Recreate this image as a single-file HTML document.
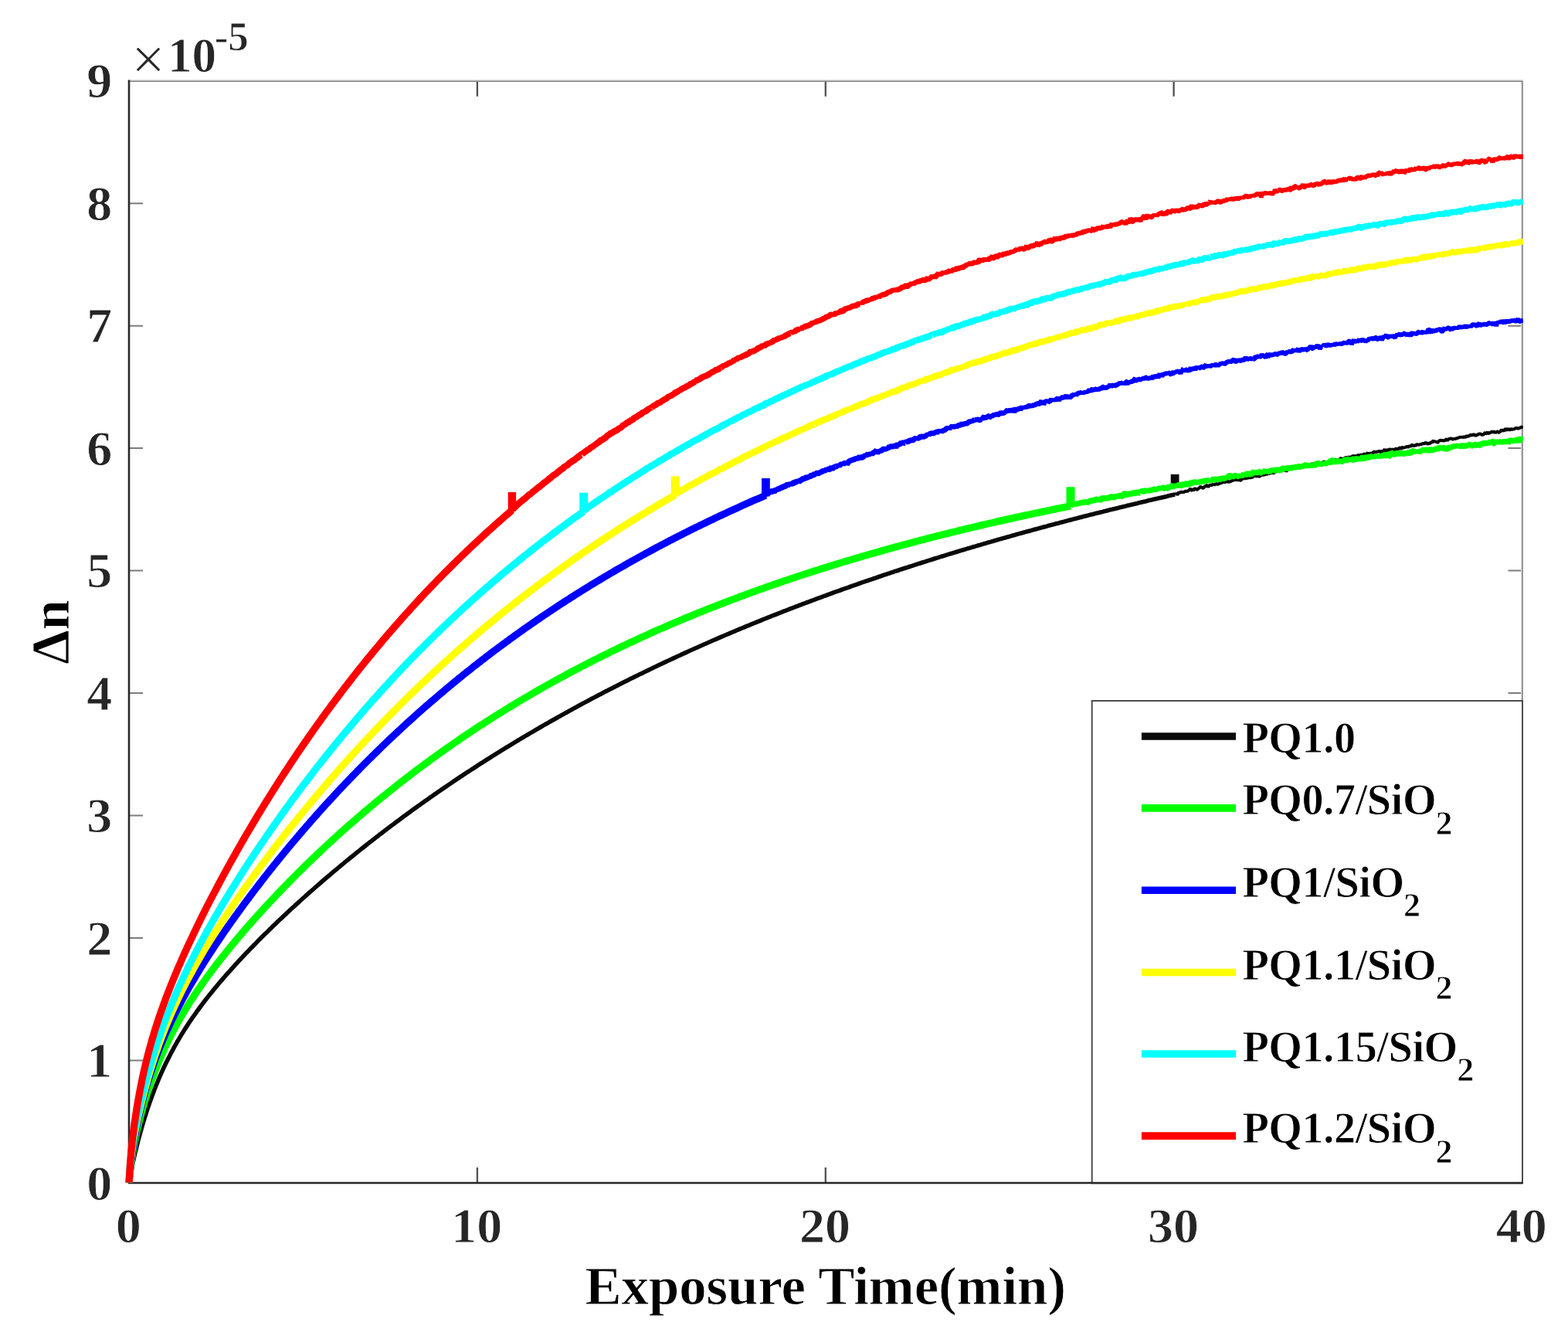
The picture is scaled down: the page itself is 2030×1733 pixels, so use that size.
<!DOCTYPE html>
<html lang="en"><head><meta charset="utf-8"><title>Δn vs Exposure Time</title>
<style>
html,body{margin:0;padding:0;background:#fff;overflow:hidden;}
svg{display:block;}
text{font-family:"Liberation Serif", "DejaVu Serif", serif;font-weight:bold;stroke:#ffffff;stroke-width:0.8px;stroke-linejoin:round;}
.tk{font-size:63.2px;fill:#262626;}
.lg{font-size:56.2px;fill:#000;letter-spacing:-0.4px;}
.sub{font-size:44px;fill:#000;}
.ax{font-size:70.7px;fill:#000;}
</style></head>
<body>
<svg width="2030" height="1733" viewBox="0 0 2030 1733">
<rect x="0" y="0" width="2030" height="1733" fill="#ffffff"/>
<path d="M617.9,1531.0 v-20 M617.9,104.7 v20 M1068.8,1531.0 v-20 M1068.8,104.7 v20 M1519.6,1531.0 v-20 M1519.6,104.7 v20" stroke="#505050" stroke-width="2.3" fill="none"/>
<path d="M167.0,1372.5 h18 M1970.5,1372.5 h-18 M167.0,1214.0 h18 M1970.5,1214.0 h-18 M167.0,1055.6 h18 M1970.5,1055.6 h-18 M167.0,897.1 h18 M1970.5,897.1 h-18 M167.0,738.6 h18 M1970.5,738.6 h-18 M167.0,580.1 h18 M1970.5,580.1 h-18 M167.0,421.7 h18 M1970.5,421.7 h-18 M167.0,263.2 h18 M1970.5,263.2 h-18" stroke="#7d7d7d" stroke-width="2" fill="none"/>
<path d="M167.0,103.8 H1971.7 M1969.6,104.7 V1531.0" stroke="#dedede" stroke-width="1.4" fill="none"/>
<path d="M167.0,105.2 H1971.8 M1971.0,104.7 V1531.0" stroke="#808080" stroke-width="1.6" fill="none"/>
<path d="M167.0,103.5 V1532.3 M165.8,1531.0 H1971.7" stroke="#262626" stroke-width="2.6" fill="none"/>
<clipPath id="cp"><rect x="159.0" y="104.7" width="1813.0" height="1425.8999999999999"/></clipPath>
<g clip-path="url(#cp)" fill="none" stroke-linejoin="round" stroke-linecap="butt">
<path d="M167.0,1531.6 L167.0,1531.5 L167.1,1531.1 L167.2,1530.5 L167.3,1529.7 L167.5,1528.6 L167.7,1527.4 L167.9,1525.9 L168.2,1524.3 L168.5,1522.5 L168.9,1520.5 L169.3,1518.4 L169.7,1516.1 L170.2,1513.8 L170.7,1511.3 L171.2,1508.6 L171.8,1505.9 L172.4,1503.1 L173.1,1500.1 L173.8,1497.1 L174.5,1494.0 L175.3,1490.7 L176.1,1487.4 L176.9,1484.0 L177.8,1480.5 L178.7,1476.9 L179.7,1473.3 L180.7,1469.6 L181.7,1465.8 L182.8,1462.0 L183.9,1458.1 L185.0,1454.2 L186.2,1450.3 L187.4,1446.3 L188.7,1442.3 L190.0,1438.2 L191.3,1434.2 L192.7,1430.1 L194.1,1426.1 L195.6,1422.0 L197.0,1417.9 L198.6,1413.9 L200.1,1409.8 L201.7,1405.8 L203.4,1401.7 L205.0,1397.7 L206.7,1393.7 L208.5,1389.7 L210.3,1385.7 L212.1,1381.7 L214.3,1377.0 L216.6,1372.4 L218.9,1367.9 L221.1,1363.5 L223.4,1359.3 L225.6,1355.1 L227.9,1351.1 L230.1,1347.2 L232.4,1343.4 L234.6,1339.6 L236.9,1336.0 L239.1,1332.4 L241.4,1328.9 L243.6,1325.4 L245.9,1322.0 L248.2,1318.7 L250.4,1315.5 L252.7,1312.3 L254.9,1309.1 L257.2,1306.0 L259.4,1303.0 L261.7,1299.9 L263.9,1297.0 L266.2,1294.0 L268.4,1291.2 L270.7,1288.3 L273.0,1285.5 L275.2,1282.7 L277.5,1279.9 L279.7,1277.2 L282.0,1274.5 L284.2,1271.8 L286.5,1269.2 L288.7,1266.6 L291.0,1264.0 L293.2,1261.4 L295.5,1258.8 L297.8,1256.3 L300.0,1253.8 L302.3,1251.3 L304.5,1248.8 L306.8,1246.4 L309.0,1243.9 L311.3,1241.5 L313.5,1239.1 L315.8,1236.7 L318.0,1234.3 L320.3,1232.0 L322.6,1229.6 L324.8,1227.3 L327.1,1225.0 L329.3,1222.7 L331.6,1220.4 L333.8,1218.1 L336.1,1215.8 L338.3,1213.6 L340.6,1211.3 L342.8,1209.1 L345.1,1206.9 L347.4,1204.7 L349.6,1202.5 L351.9,1200.3 L354.1,1198.1 L356.4,1195.9 L358.6,1193.8 L360.9,1191.6 L363.1,1189.5 L365.4,1187.4 L367.6,1185.2 L369.9,1183.1 L372.1,1181.0 L374.4,1178.9 L376.7,1176.8 L378.9,1174.8 L381.2,1172.7 L383.4,1170.6 L385.7,1168.6 L387.9,1166.5 L390.2,1164.5 L392.4,1162.5 L394.7,1160.5 L396.9,1158.4 L399.2,1156.4 L401.5,1154.4 L403.7,1152.5 L406.0,1150.5 L408.2,1148.5 L410.5,1146.5 L412.7,1144.6 L415.0,1142.6 L417.2,1140.7 L419.5,1138.7 L421.7,1136.8 L424.0,1134.9 L426.3,1133.0 L428.5,1131.0 L430.8,1129.1 L433.0,1127.2 L435.3,1125.4 L437.5,1123.5 L439.8,1121.6 L442.0,1119.7 L444.3,1117.9 L446.5,1116.0 L448.8,1114.1 L451.1,1112.3 L453.3,1110.5 L455.6,1108.6 L457.8,1106.8 L460.1,1105.0 L462.3,1103.2 L464.6,1101.4 L466.8,1099.6 L469.1,1097.8 L471.3,1096.0 L473.6,1094.2 L475.8,1092.4 L478.1,1090.6 L480.4,1088.9 L482.6,1087.1 L484.9,1085.4 L487.1,1083.6 L489.4,1081.9 L491.6,1080.1 L493.9,1078.4 L496.1,1076.7 L498.4,1074.9 L500.6,1073.2 L502.9,1071.5 L505.2,1069.8 L507.4,1068.1 L509.7,1066.4 L511.9,1064.7 L514.2,1063.0 L516.4,1061.4 L518.7,1059.7 L520.9,1058.0 L523.2,1056.4 L525.4,1054.7 L527.7,1053.1 L530.0,1051.4 L532.2,1049.8 L534.5,1048.1 L536.7,1046.5 L539.0,1044.9 L541.2,1043.3 L543.5,1041.7 L545.7,1040.1 L548.0,1038.4 L550.2,1036.8 L552.5,1035.3 L554.8,1033.7 L557.0,1032.1 L559.3,1030.5 L561.5,1028.9 L563.8,1027.4 L566.0,1025.8 L568.3,1024.2 L570.5,1022.7 L572.8,1021.1 L575.0,1019.6 L577.3,1018.1 L579.6,1016.5 L581.8,1015.0 L584.1,1013.5 L586.3,1011.9 L588.6,1010.4 L590.8,1008.9 L593.1,1007.4 L595.3,1005.9 L597.6,1004.4 L599.8,1002.9 L602.1,1001.4 L604.3,999.9 L606.6,998.5 L608.9,997.0 L611.1,995.5 L613.4,994.1 L615.6,992.6 L617.9,991.1 L620.1,989.7 L622.4,988.2 L624.6,986.8 L626.9,985.4 L629.1,983.9 L631.4,982.5 L633.7,981.1 L635.9,979.6 L638.2,978.2 L640.4,976.8 L642.7,975.4 L644.9,974.0 L647.2,972.6 L649.4,971.2 L651.7,969.8 L653.9,968.4 L656.2,967.0 L658.5,965.7 L660.7,964.3 L663.0,962.9 L665.2,961.6 L667.5,960.2 L669.7,958.8 L672.0,957.5 L674.2,956.1 L676.5,954.8 L678.7,953.4 L681.0,952.1 L683.3,950.8 L685.5,949.4 L687.8,948.1 L690.0,946.8 L692.3,945.5 L694.5,944.2 L696.8,942.8 L699.0,941.5 L701.3,940.2 L703.5,938.9 L705.8,937.6 L708.1,936.4 L710.3,935.1 L712.6,933.8 L714.8,932.5 L717.1,931.2 L719.3,930.0 L721.6,928.7 L723.8,927.4 L726.1,926.2 L728.3,924.9 L730.6,923.7 L732.8,922.4 L735.1,921.2 L737.4,919.9 L739.6,918.7 L741.9,917.4 L744.1,916.2 L746.4,915.0 L748.6,913.8 L750.9,912.5 L753.1,911.3 L755.4,910.1 L757.6,908.9 L759.9,907.7 L762.2,906.5 L764.4,905.3 L766.7,904.1 L768.9,902.9 L771.2,901.7 L773.4,900.5 L775.7,899.3 L777.9,898.2 L780.2,897.0 L782.4,895.8 L784.7,894.6 L787.0,893.5 L789.2,892.3 L791.5,891.2 L793.7,890.0 L796.0,888.9 L798.2,887.7 L800.5,886.6 L802.7,885.4 L805.0,884.3 L807.2,883.1 L809.5,882.0 L811.8,880.9 L814.0,879.8 L816.3,878.6 L818.5,877.5 L820.8,876.4 L823.0,875.3 L825.3,874.2 L827.5,873.1 L829.8,872.0 L832.0,870.9 L834.3,869.8 L836.5,868.7 L838.8,867.6 L841.1,866.5 L843.3,865.4 L845.6,864.3 L847.8,863.3 L850.1,862.2 L852.3,861.1 L854.6,860.0 L856.8,859.0 L859.1,857.9 L861.3,856.9 L863.6,855.8 L865.9,854.7 L868.1,853.7 L870.4,852.6 L872.6,851.6 L874.9,850.6 L877.1,849.5 L879.4,848.5 L881.6,847.4 L883.9,846.4 L886.1,845.4 L888.4,844.4 L890.7,843.3 L892.9,842.3 L895.2,841.3 L897.4,840.3 L899.7,839.3 L901.9,838.3 L904.2,837.3 L906.4,836.3 L908.7,835.3 L910.9,834.3 L913.2,833.3 L915.5,832.3 L917.7,831.3 L920.0,830.3 L922.2,829.3 L924.5,828.3 L926.7,827.4 L929.0,826.4 L931.2,825.4 L933.5,824.4 L935.7,823.5 L938.0,822.5 L940.3,821.5 L942.5,820.6 L944.8,819.6 L947.0,818.7 L949.3,817.7 L951.5,816.8 L953.8,815.8 L956.0,814.9 L958.3,813.9 L960.5,813.0 L962.8,812.1 L965.0,811.1 L967.3,810.2 L969.6,809.3 L971.8,808.4 L974.1,807.4 L976.3,806.5 L978.6,805.6 L980.8,804.7 L983.1,803.8 L985.3,802.9 L987.6,801.9 L989.8,801.0 L992.1,800.1 L994.4,799.2 L996.6,798.3 L998.9,797.4 L1001.1,796.5 L1003.4,795.7 L1005.6,794.8 L1007.9,793.9 L1010.1,793.0 L1012.4,792.1 L1014.6,791.2 L1016.9,790.4 L1019.2,789.5 L1021.4,788.6 L1023.7,787.7 L1025.9,786.9 L1028.2,786.0 L1030.4,785.1 L1032.7,784.3 L1034.9,783.4 L1037.2,782.6 L1039.4,781.7 L1041.7,780.9 L1044.0,780.0 L1046.2,779.2 L1048.5,778.3 L1050.7,777.5 L1053.0,776.6 L1055.2,775.8 L1057.5,774.9 L1059.7,774.1 L1062.0,773.3 L1064.2,772.5 L1066.5,771.6 L1068.8,770.8 L1071.0,770.0 L1073.3,769.2 L1075.5,768.3 L1077.8,767.5 L1080.0,766.7 L1082.3,765.9 L1084.5,765.1 L1086.8,764.3 L1089.0,763.5 L1091.3,762.7 L1093.5,761.9 L1095.8,761.1 L1098.1,760.3 L1100.3,759.5 L1102.6,758.7 L1104.8,757.9 L1107.1,757.1 L1109.3,756.3 L1111.6,755.5 L1113.8,754.7 L1116.1,753.9 L1118.3,753.2 L1120.6,752.4 L1122.9,751.6 L1125.1,750.8 L1127.4,750.1 L1129.6,749.3 L1131.9,748.5 L1134.1,747.8 L1136.4,747.0 L1138.6,746.2 L1140.9,745.5 L1143.1,744.7 L1145.4,743.9 L1147.7,743.2 L1149.9,742.4 L1152.2,741.7 L1154.4,740.9 L1156.7,740.2 L1158.9,739.4 L1161.2,738.7 L1163.4,738.0 L1165.7,737.2 L1167.9,736.5 L1170.2,735.7 L1172.5,735.0 L1174.7,734.3 L1177.0,733.5 L1179.2,732.8 L1181.5,732.1 L1183.7,731.4 L1186.0,730.6 L1188.2,729.9 L1190.5,729.2 L1192.7,728.5 L1195.0,727.8 L1197.2,727.1 L1199.5,726.3 L1201.8,725.6 L1204.0,724.9 L1206.3,724.2 L1208.5,723.5 L1210.8,722.8 L1213.0,722.1 L1215.3,721.4 L1217.5,720.7 L1219.8,720.0 L1222.0,719.3 L1224.3,718.6 L1226.6,717.9 L1228.8,717.2 L1231.1,716.5 L1233.3,715.8 L1235.6,715.2 L1237.8,714.5 L1240.1,713.8 L1242.3,713.1 L1244.6,712.4 L1246.8,711.8 L1249.1,711.1 L1251.4,710.4 L1253.6,709.7 L1255.9,709.1 L1258.1,708.4 L1260.4,707.7 L1262.6,707.1 L1264.9,706.4 L1267.1,705.7 L1269.4,705.1 L1271.6,704.4 L1273.9,703.8 L1276.2,703.1 L1278.4,702.4 L1280.7,701.8 L1282.9,701.1 L1285.2,700.5 L1287.4,699.8 L1289.7,699.2 L1291.9,698.5 L1294.2,697.9 L1296.4,697.3 L1298.7,696.6 L1301.0,696.0 L1303.2,695.3 L1305.5,694.7 L1307.7,694.1 L1310.0,693.4 L1312.2,692.8 L1314.5,692.2 L1316.7,691.5 L1319.0,690.9 L1321.2,690.3 L1323.5,689.7 L1325.7,689.0 L1328.0,688.4 L1330.3,687.8 L1332.5,687.2 L1334.8,686.6 L1337.0,685.9 L1339.3,685.3 L1341.5,684.7 L1343.8,684.1 L1346.0,683.5 L1348.3,682.9 L1350.5,682.3 L1352.8,681.7 L1355.1,681.1 L1357.3,680.4 L1359.6,679.8 L1361.8,679.2 L1364.1,678.6 L1366.3,678.0 L1368.6,677.4 L1370.8,676.9 L1373.1,676.3 L1375.3,675.7 L1377.6,675.1 L1379.9,674.5 L1382.1,673.9 L1384.4,673.3 L1386.6,672.7 L1388.9,672.1 L1391.1,671.5 L1393.4,671.0 L1395.6,670.4 L1397.9,669.8 L1400.1,669.2 L1402.4,668.6 L1404.7,668.1 L1406.9,667.5 L1409.2,666.9 L1411.4,666.3 L1413.7,665.8 L1415.9,665.2 L1418.2,664.6 L1420.4,664.1 L1422.7,663.5 L1424.9,662.9 L1427.2,662.4 L1429.5,661.8 L1431.7,661.3 L1434.0,660.7 L1436.2,660.1 L1438.5,659.6 L1440.7,659.0 L1443.0,658.5 L1445.2,657.9 L1447.5,657.4 L1449.7,656.8 L1452.0,656.3 L1454.2,655.7 L1456.5,655.2 L1458.8,654.6 L1461.0,654.1 L1463.3,653.5 L1465.5,653.0 L1467.8,652.4 L1470.0,651.9 L1472.3,651.4 L1474.5,650.8 L1476.8,650.3 L1479.0,649.7 L1481.3,649.2 L1483.6,648.7 L1485.8,648.1 L1488.1,647.6 L1490.3,647.1 L1492.6,646.5 L1494.8,646.0 L1497.1,645.5 L1499.3,645.0 L1501.6,644.4 L1503.8,643.9 L1506.1,643.4 L1508.4,642.9 L1510.6,642.4 L1512.9,641.8 L1515.1,641.3 L1517.4,640.8 L1519.6,640.3 L1521.1,639.9" stroke="#0a0a0a" stroke-width="5.6"/>
<path d="M1521.1,640.3 L1522.1,638.9 L1523.1,639.2 L1524.1,640.1 L1525.1,639.5 L1526.1,636.7 L1527.1,638.2 L1528.1,637.0 L1529.1,636.8 L1530.1,637.1 L1531.1,636.6 L1532.1,637.5 L1533.1,636.7 L1534.1,635.9 L1535.1,636.0 L1536.1,635.6 L1537.1,636.5 L1538.1,634.7 L1539.1,634.9 L1540.1,633.7 L1541.1,631.9 L1542.1,634.6 L1543.1,634.5 L1544.1,632.9 L1545.1,635.4 L1546.1,631.8 L1547.2,632.9 L1548.2,632.5 L1549.2,633.8 L1550.2,633.5 L1551.2,632.1 L1552.2,632.1 L1553.2,630.7 L1554.2,629.5 L1555.2,630.8 L1556.2,631.0 L1557.2,631.7 L1558.2,631.5 L1559.2,629.8 L1560.2,629.7 L1561.2,628.8 L1562.2,628.3 L1563.2,627.8 L1564.2,630.8 L1565.2,628.4 L1566.2,628.3 L1567.2,627.3 L1568.2,628.9 L1569.2,626.5 L1570.2,627.6 L1571.2,626.7 L1572.2,627.7 L1573.2,626.7 L1574.2,625.8 L1575.2,626.7 L1576.2,626.8 L1577.2,626.3 L1578.2,626.3 L1579.2,625.2 L1580.2,625.3 L1581.2,624.8 L1582.2,624.8 L1583.2,624.2 L1584.2,623.2 L1585.2,624.7 L1586.2,623.9 L1587.2,622.6 L1588.2,624.3 L1589.2,622.8 L1590.2,623.5 L1591.2,623.9 L1592.2,623.1 L1593.2,623.8 L1594.2,621.5 L1595.2,622.7 L1596.2,621.5 L1597.2,621.1 L1598.2,621.2 L1599.3,621.2 L1600.3,621.3 L1601.3,620.0 L1602.3,621.7 L1603.3,621.1 L1604.3,619.1 L1605.3,621.6 L1606.3,621.7 L1607.3,620.9 L1608.3,619.4 L1609.3,618.4 L1610.3,620.1 L1611.3,618.6" stroke="#0a0a0a" stroke-width="4.10" stroke-linejoin="bevel"/>
<path d="M1611.3,618.6 L1612.3,619.8 L1613.3,618.7 L1614.3,619.2 L1615.3,618.4 L1616.3,618.5 L1617.3,617.7 L1618.3,619.1 L1619.3,617.4 L1620.3,617.4 L1621.3,618.5 L1622.3,615.4 L1623.3,615.3 L1624.3,617.1 L1625.3,615.0 L1626.3,617.6 L1627.3,615.2 L1628.3,614.7 L1629.3,616.9 L1630.3,616.3 L1631.3,616.4 L1632.3,615.4 L1633.3,613.6 L1634.3,615.9 L1635.3,613.7 L1636.3,614.5 L1637.3,614.4 L1638.3,613.2 L1639.3,613.7 L1640.3,613.7 L1641.3,613.0 L1642.3,611.5 L1643.3,612.6 L1644.3,613.3 L1645.3,611.3 L1646.3,611.5 L1647.3,611.1 L1648.3,612.9 L1649.3,611.7 L1650.4,611.2 L1651.4,610.0 L1652.4,610.9 L1653.4,609.6 L1654.4,610.1 L1655.4,609.3 L1656.4,610.2 L1657.4,609.9 L1658.4,609.0 L1659.4,609.4 L1660.4,607.8 L1661.4,607.3 L1662.4,608.8 L1663.4,608.4 L1664.4,608.6 L1665.4,610.0 L1666.4,608.5 L1667.4,606.6 L1668.4,608.2 L1669.4,605.8 L1670.4,606.4 L1671.4,606.5 L1672.4,607.9 L1673.4,605.5 L1674.4,605.3 L1675.4,605.7 L1676.4,605.0 L1677.4,606.4 L1678.4,604.2 L1679.4,604.0 L1680.4,604.4 L1681.4,604.2 L1682.4,606.1 L1683.4,605.1 L1684.4,604.1 L1685.4,602.7 L1686.4,604.4 L1687.4,602.5 L1688.4,601.8 L1689.4,604.1 L1690.4,603.1 L1691.4,603.5 L1692.4,602.7 L1693.4,603.0 L1694.4,601.5 L1695.4,600.9 L1696.4,602.3 L1697.4,600.7 L1698.4,600.6 L1699.4,600.6 L1700.4,600.9 L1701.4,600.3" stroke="#0a0a0a" stroke-width="4.10" stroke-linejoin="bevel"/>
<path d="M1701.4,600.3 L1702.5,599.2 L1703.5,599.7 L1704.5,598.1 L1705.5,600.4 L1706.5,598.2 L1707.5,598.5 L1708.5,599.3 L1709.5,598.4 L1710.5,600.3 L1711.5,597.6 L1712.5,598.8 L1713.5,598.3 L1714.5,597.1 L1715.5,598.4 L1716.5,597.6 L1717.5,598.3 L1718.5,598.1 L1719.5,599.1 L1720.5,598.2 L1721.5,596.5 L1722.5,596.4 L1723.5,597.4 L1724.5,596.8 L1725.5,596.6 L1726.5,594.4 L1727.5,595.6 L1728.5,594.8 L1729.5,595.5 L1730.5,595.0 L1731.5,595.7 L1732.5,595.0 L1733.5,595.2 L1734.5,593.9 L1735.5,593.3 L1736.5,593.5 L1737.5,593.7 L1738.5,593.9 L1739.5,595.4 L1740.5,593.1 L1741.5,592.1 L1742.5,592.5 L1743.5,592.2 L1744.5,592.8 L1745.5,590.8 L1746.5,592.1 L1747.5,592.0 L1748.5,591.9 L1749.5,590.9 L1750.5,591.1 L1751.5,589.8 L1752.5,590.5 L1753.6,590.2 L1754.6,590.9 L1755.6,589.3 L1756.6,590.8 L1757.6,591.3 L1758.6,587.9 L1759.6,590.0 L1760.6,590.0 L1761.6,588.6 L1762.6,588.7 L1763.6,588.7 L1764.6,588.4 L1765.6,588.2 L1766.6,586.8 L1767.6,589.1 L1768.6,588.9 L1769.6,587.0 L1770.6,586.2 L1771.6,587.8 L1772.6,586.7 L1773.6,587.1 L1774.6,586.5 L1775.6,587.2 L1776.6,587.1 L1777.6,585.6 L1778.6,584.8 L1779.6,584.5 L1780.6,586.2 L1781.6,584.4 L1782.6,584.9 L1783.6,584.6 L1784.6,584.9 L1785.6,583.0 L1786.6,584.8 L1787.6,584.9 L1788.6,584.3 L1789.6,583.8 L1790.6,584.0 L1791.6,584.0" stroke="#0a0a0a" stroke-width="4.10" stroke-linejoin="bevel"/>
<path d="M1791.6,584.0 L1792.6,581.0 L1793.6,585.1 L1794.6,583.5 L1795.6,582.4 L1796.6,582.4 L1797.6,583.0 L1798.6,582.3 L1799.6,580.4 L1800.6,583.9 L1801.6,581.8 L1802.6,582.6 L1803.6,580.9 L1804.7,582.7 L1805.7,581.4 L1806.7,581.5 L1807.7,579.9 L1808.7,581.7 L1809.7,581.1 L1810.7,581.4 L1811.7,579.5 L1812.7,579.5 L1813.7,581.8 L1814.7,578.6 L1815.7,579.2 L1816.7,580.2 L1817.7,579.1 L1818.7,579.4 L1819.7,578.3 L1820.7,578.8 L1821.7,577.1 L1822.7,579.6 L1823.7,577.8 L1824.7,577.1 L1825.7,578.2 L1826.7,577.0 L1827.7,576.0 L1828.7,575.8 L1829.7,577.5 L1830.7,576.6 L1831.7,576.4 L1832.7,577.3 L1833.7,575.2 L1834.7,575.3 L1835.7,575.5 L1836.7,575.7 L1837.7,575.4 L1838.7,575.0 L1839.7,575.1 L1840.7,574.8 L1841.7,574.1 L1842.7,573.9 L1843.7,574.7 L1844.7,573.4 L1845.7,573.0 L1846.7,573.6 L1847.7,573.6 L1848.7,575.6 L1849.7,572.7 L1850.7,574.0 L1851.7,573.7 L1852.7,571.8 L1853.7,573.4 L1854.7,571.4 L1855.7,569.9 L1856.8,572.7 L1857.8,570.4 L1858.8,572.2 L1859.8,571.0 L1860.8,573.0 L1861.8,572.3 L1862.8,570.7 L1863.8,570.3 L1864.8,569.7 L1865.8,570.2 L1866.8,570.2 L1867.8,569.9 L1868.8,570.2 L1869.8,570.4 L1870.8,570.1 L1871.8,568.9 L1872.8,568.1 L1873.8,570.5 L1874.8,568.4 L1875.8,568.3 L1876.8,568.2 L1877.8,566.9 L1878.8,567.9 L1879.8,567.8 L1880.8,568.6 L1881.8,568.5" stroke="#0a0a0a" stroke-width="4.10" stroke-linejoin="bevel"/>
<path d="M1881.8,568.5 L1882.8,567.7 L1883.8,568.4 L1884.8,567.7 L1885.8,567.2 L1886.8,567.2 L1887.8,566.7 L1888.8,566.3 L1889.8,566.3 L1890.8,565.3 L1891.8,566.4 L1892.8,565.1 L1893.8,566.6 L1894.8,565.4 L1895.8,565.5 L1896.8,565.8 L1897.8,565.7 L1898.8,563.6 L1899.8,564.6 L1900.8,565.5 L1901.8,563.0 L1902.8,564.7 L1903.8,562.1 L1904.8,563.1 L1905.8,563.9 L1906.8,562.2 L1907.9,562.6 L1908.9,562.0 L1909.9,564.6 L1910.9,563.1 L1911.9,563.3 L1912.9,562.5 L1913.9,562.2 L1914.9,560.9 L1915.9,561.9 L1916.9,561.3 L1917.9,562.6 L1918.9,562.7 L1919.9,562.8 L1920.9,562.1 L1921.9,560.6 L1922.9,560.0 L1923.9,561.5 L1924.9,561.0 L1925.9,558.9 L1926.9,560.7 L1927.9,560.9 L1928.9,560.1 L1929.9,559.7 L1930.9,559.0 L1931.9,558.2 L1932.9,560.1 L1933.9,558.9 L1934.9,558.8 L1935.9,560.4 L1936.9,559.3 L1937.9,558.9 L1938.9,558.5 L1939.9,559.6 L1940.9,559.6 L1941.9,558.7 L1942.9,558.2 L1943.9,555.7 L1944.9,557.5 L1945.9,557.1 L1946.9,557.2 L1947.9,557.8 L1948.9,554.3 L1949.9,556.1 L1950.9,556.7 L1951.9,555.8 L1952.9,554.8 L1953.9,556.7 L1954.9,556.0 L1955.9,554.7 L1956.9,555.7 L1957.9,556.0 L1958.9,555.1 L1960.0,555.7 L1961.0,554.9 L1962.0,554.3 L1963.0,553.5 L1964.0,554.3 L1965.0,554.3 L1966.0,554.8 L1967.0,553.8 L1968.0,554.1 L1969.0,552.7 L1970.0,552.7 L1971.9,553.0" stroke="#0a0a0a" stroke-width="4.10" stroke-linejoin="bevel"/>
<rect x="1515.7" y="613.9" width="10.8" height="17.1" fill="#0a0a0a" stroke="none"/>
<path d="M167.0,1531.6 L167.0,1531.4 L167.1,1530.7 L167.2,1529.7 L167.3,1528.2 L167.5,1526.4 L167.7,1524.3 L167.9,1521.8 L168.2,1519.1 L168.5,1516.2 L168.9,1513.1 L169.3,1509.8 L169.7,1506.4 L170.2,1502.9 L170.7,1499.3 L171.2,1495.7 L171.8,1492.0 L172.4,1488.3 L173.1,1484.5 L173.8,1480.7 L174.5,1476.9 L175.3,1473.0 L176.1,1469.1 L176.9,1465.2 L177.8,1461.3 L178.7,1457.3 L179.7,1453.3 L180.7,1449.3 L181.7,1445.3 L182.8,1441.2 L183.9,1437.2 L185.0,1433.1 L186.2,1429.0 L187.4,1424.9 L188.7,1420.8 L190.0,1416.7 L191.3,1412.5 L192.7,1408.4 L194.1,1404.3 L195.6,1400.1 L197.0,1396.0 L198.6,1391.8 L200.1,1387.7 L201.7,1383.6 L203.4,1379.5 L205.0,1375.4 L206.7,1371.3 L208.5,1367.2 L210.3,1363.1 L212.1,1359.1 L214.3,1354.2 L216.6,1349.5 L218.9,1344.8 L221.1,1340.3 L223.4,1336.0 L225.6,1331.7 L227.9,1327.5 L230.1,1323.4 L232.4,1319.4 L234.6,1315.5 L236.9,1311.7 L239.1,1307.9 L241.4,1304.2 L243.6,1300.6 L245.9,1297.0 L248.2,1293.5 L250.4,1290.1 L252.7,1286.7 L254.9,1283.3 L257.2,1280.0 L259.4,1276.8 L261.7,1273.5 L263.9,1270.4 L266.2,1267.2 L268.4,1264.1 L270.7,1261.0 L273.0,1258.0 L275.2,1255.0 L277.5,1252.0 L279.7,1249.1 L282.0,1246.1 L284.2,1243.2 L286.5,1240.4 L288.7,1237.5 L291.0,1234.7 L293.2,1231.9 L295.5,1229.1 L297.8,1226.3 L300.0,1223.6 L302.3,1220.9 L304.5,1218.2 L306.8,1215.5 L309.0,1212.8 L311.3,1210.2 L313.5,1207.5 L315.8,1204.9 L318.0,1202.3 L320.3,1199.7 L322.6,1197.1 L324.8,1194.6 L327.1,1192.0 L329.3,1189.5 L331.6,1187.0 L333.8,1184.5 L336.1,1182.0 L338.3,1179.5 L340.6,1177.0 L342.8,1174.6 L345.1,1172.1 L347.4,1169.7 L349.6,1167.3 L351.9,1164.9 L354.1,1162.5 L356.4,1160.1 L358.6,1157.7 L360.9,1155.3 L363.1,1153.0 L365.4,1150.7 L367.6,1148.3 L369.9,1146.0 L372.1,1143.7 L374.4,1141.4 L376.7,1139.1 L378.9,1136.8 L381.2,1134.6 L383.4,1132.3 L385.7,1130.0 L387.9,1127.8 L390.2,1125.6 L392.4,1123.4 L394.7,1121.1 L396.9,1118.9 L399.2,1116.8 L401.5,1114.6 L403.7,1112.4 L406.0,1110.2 L408.2,1108.1 L410.5,1105.9 L412.7,1103.8 L415.0,1101.7 L417.2,1099.5 L419.5,1097.4 L421.7,1095.3 L424.0,1093.2 L426.3,1091.2 L428.5,1089.1 L430.8,1087.0 L433.0,1085.0 L435.3,1082.9 L437.5,1080.9 L439.8,1078.8 L442.0,1076.8 L444.3,1074.8 L446.5,1072.8 L448.8,1070.8 L451.1,1068.8 L453.3,1066.8 L455.6,1064.8 L457.8,1062.9 L460.1,1060.9 L462.3,1059.0 L464.6,1057.0 L466.8,1055.1 L469.1,1053.2 L471.3,1051.2 L473.6,1049.3 L475.8,1047.4 L478.1,1045.5 L480.4,1043.6 L482.6,1041.8 L484.9,1039.9 L487.1,1038.0 L489.4,1036.2 L491.6,1034.3 L493.9,1032.5 L496.1,1030.6 L498.4,1028.8 L500.6,1027.0 L502.9,1025.2 L505.2,1023.4 L507.4,1021.6 L509.7,1019.8 L511.9,1018.0 L514.2,1016.2 L516.4,1014.4 L518.7,1012.7 L520.9,1010.9 L523.2,1009.2 L525.4,1007.4 L527.7,1005.7 L530.0,1004.0 L532.2,1002.2 L534.5,1000.5 L536.7,998.8 L539.0,997.1 L541.2,995.4 L543.5,993.7 L545.7,992.1 L548.0,990.4 L550.2,988.7 L552.5,987.1 L554.8,985.4 L557.0,983.8 L559.3,982.1 L561.5,980.5 L563.8,978.9 L566.0,977.2 L568.3,975.6 L570.5,974.0 L572.8,972.4 L575.0,970.8 L577.3,969.2 L579.6,967.6 L581.8,966.1 L584.1,964.5 L586.3,962.9 L588.6,961.4 L590.8,959.8 L593.1,958.3 L595.3,956.7 L597.6,955.2 L599.8,953.7 L602.1,952.2 L604.3,950.6 L606.6,949.1 L608.9,947.6 L611.1,946.1 L613.4,944.6 L615.6,943.2 L617.9,941.7 L620.1,940.2 L622.4,938.7 L624.6,937.3 L626.9,935.8 L629.1,934.4 L631.4,932.9 L633.7,931.5 L635.9,930.0 L638.2,928.6 L640.4,927.2 L642.7,925.8 L644.9,924.4 L647.2,923.0 L649.4,921.6 L651.7,920.2 L653.9,918.8 L656.2,917.4 L658.5,916.0 L660.7,914.6 L663.0,913.3 L665.2,911.9 L667.5,910.5 L669.7,909.2 L672.0,907.8 L674.2,906.5 L676.5,905.2 L678.7,903.8 L681.0,902.5 L683.3,901.2 L685.5,899.9 L687.8,898.6 L690.0,897.2 L692.3,895.9 L694.5,894.6 L696.8,893.4 L699.0,892.1 L701.3,890.8 L703.5,889.5 L705.8,888.2 L708.1,887.0 L710.3,885.7 L712.6,884.5 L714.8,883.2 L717.1,882.0 L719.3,880.7 L721.6,879.5 L723.8,878.2 L726.1,877.0 L728.3,875.8 L730.6,874.6 L732.8,873.4 L735.1,872.1 L737.4,870.9 L739.6,869.7 L741.9,868.5 L744.1,867.4 L746.4,866.2 L748.6,865.0 L750.9,863.8 L753.1,862.6 L755.4,861.5 L757.6,860.3 L759.9,859.1 L762.2,858.0 L764.4,856.8 L766.7,855.7 L768.9,854.5 L771.2,853.4 L773.4,852.3 L775.7,851.1 L777.9,850.0 L780.2,848.9 L782.4,847.8 L784.7,846.7 L787.0,845.6 L789.2,844.4 L791.5,843.3 L793.7,842.3 L796.0,841.2 L798.2,840.1 L800.5,839.0 L802.7,837.9 L805.0,836.8 L807.2,835.8 L809.5,834.7 L811.8,833.6 L814.0,832.6 L816.3,831.5 L818.5,830.5 L820.8,829.4 L823.0,828.4 L825.3,827.3 L827.5,826.3 L829.8,825.3 L832.0,824.2 L834.3,823.2 L836.5,822.2 L838.8,821.2 L841.1,820.1 L843.3,819.1 L845.6,818.1 L847.8,817.1 L850.1,816.1 L852.3,815.1 L854.6,814.1 L856.8,813.2 L859.1,812.2 L861.3,811.2 L863.6,810.2 L865.9,809.2 L868.1,808.3 L870.4,807.3 L872.6,806.3 L874.9,805.4 L877.1,804.4 L879.4,803.5 L881.6,802.5 L883.9,801.6 L886.1,800.6 L888.4,799.7 L890.7,798.8 L892.9,797.8 L895.2,796.9 L897.4,796.0 L899.7,795.1 L901.9,794.1 L904.2,793.2 L906.4,792.3 L908.7,791.4 L910.9,790.5 L913.2,789.6 L915.5,788.7 L917.7,787.8 L920.0,786.9 L922.2,786.0 L924.5,785.1 L926.7,784.3 L929.0,783.4 L931.2,782.5 L933.5,781.6 L935.7,780.8 L938.0,779.9 L940.3,779.0 L942.5,778.2 L944.8,777.3 L947.0,776.5 L949.3,775.6 L951.5,774.8 L953.8,773.9 L956.0,773.1 L958.3,772.2 L960.5,771.4 L962.8,770.6 L965.0,769.7 L967.3,768.9 L969.6,768.1 L971.8,767.3 L974.1,766.4 L976.3,765.6 L978.6,764.8 L980.8,764.0 L983.1,763.2 L985.3,762.4 L987.6,761.6 L989.8,760.8 L992.1,760.0 L994.4,759.2 L996.6,758.4 L998.9,757.6 L1001.1,756.8 L1003.4,756.1 L1005.6,755.3 L1007.9,754.5 L1010.1,753.7 L1012.4,753.0 L1014.6,752.2 L1016.9,751.4 L1019.2,750.7 L1021.4,749.9 L1023.7,749.1 L1025.9,748.4 L1028.2,747.6 L1030.4,746.9 L1032.7,746.1 L1034.9,745.4 L1037.2,744.6 L1039.4,743.9 L1041.7,743.2 L1044.0,742.4 L1046.2,741.7 L1048.5,741.0 L1050.7,740.2 L1053.0,739.5 L1055.2,738.8 L1057.5,738.1 L1059.7,737.4 L1062.0,736.6 L1064.2,735.9 L1066.5,735.2 L1068.8,734.5 L1071.0,733.8 L1073.3,733.1 L1075.5,732.4 L1077.8,731.7 L1080.0,731.0 L1082.3,730.3 L1084.5,729.6 L1086.8,728.9 L1089.0,728.3 L1091.3,727.6 L1093.5,726.9 L1095.8,726.2 L1098.1,725.5 L1100.3,724.9 L1102.6,724.2 L1104.8,723.5 L1107.1,722.9 L1109.3,722.2 L1111.6,721.5 L1113.8,720.9 L1116.1,720.2 L1118.3,719.6 L1120.6,718.9 L1122.9,718.2 L1125.1,717.6 L1127.4,716.9 L1129.6,716.3 L1131.9,715.7 L1134.1,715.0 L1136.4,714.4 L1138.6,713.7 L1140.9,713.1 L1143.1,712.5 L1145.4,711.8 L1147.7,711.2 L1149.9,710.6 L1152.2,710.0 L1154.4,709.3 L1156.7,708.7 L1158.9,708.1 L1161.2,707.5 L1163.4,706.9 L1165.7,706.3 L1167.9,705.6 L1170.2,705.0 L1172.5,704.4 L1174.7,703.8 L1177.0,703.2 L1179.2,702.6 L1181.5,702.0 L1183.7,701.4 L1186.0,700.8 L1188.2,700.2 L1190.5,699.7 L1192.7,699.1 L1195.0,698.5 L1197.2,697.9 L1199.5,697.3 L1201.8,696.7 L1204.0,696.1 L1206.3,695.6 L1208.5,695.0 L1210.8,694.4 L1213.0,693.8 L1215.3,693.3 L1217.5,692.7 L1219.8,692.1 L1222.0,691.6 L1224.3,691.0 L1226.6,690.5 L1228.8,689.9 L1231.1,689.3 L1233.3,688.8 L1235.6,688.2 L1237.8,687.7 L1240.1,687.1 L1242.3,686.6 L1244.6,686.0 L1246.8,685.5 L1249.1,684.9 L1251.4,684.4 L1253.6,683.9 L1255.9,683.3 L1258.1,682.8 L1260.4,682.2 L1262.6,681.7 L1264.9,681.2 L1267.1,680.6 L1269.4,680.1 L1271.6,679.6 L1273.9,679.1 L1276.2,678.5 L1278.4,678.0 L1280.7,677.5 L1282.9,677.0 L1285.2,676.5 L1287.4,675.9 L1289.7,675.4 L1291.9,674.9 L1294.2,674.4 L1296.4,673.9 L1298.7,673.4 L1301.0,672.9 L1303.2,672.4 L1305.5,671.9 L1307.7,671.4 L1310.0,670.9 L1312.2,670.4 L1314.5,669.9 L1316.7,669.4 L1319.0,668.9 L1321.2,668.4 L1323.5,667.9 L1325.7,667.4 L1328.0,666.9 L1330.3,666.4 L1332.5,666.0 L1334.8,665.5 L1337.0,665.0 L1339.3,664.5 L1341.5,664.0 L1343.8,663.6 L1346.0,663.1 L1348.3,662.6 L1350.5,662.1 L1352.8,661.7 L1355.1,661.2 L1357.3,660.7 L1359.6,660.3 L1361.8,659.8 L1364.1,659.3 L1366.3,658.9 L1368.6,658.4 L1370.8,657.9 L1373.1,657.5 L1375.3,657.0 L1377.6,656.6 L1379.9,656.1 L1382.1,655.7 L1384.4,655.2 L1386.0,654.9" stroke="#00ff00" stroke-width="9.3"/>
<path d="M1386.0,654.9 L1387.0,653.0 L1388.0,652.9 L1389.0,652.2 L1390.0,653.5 L1391.0,650.9 L1392.0,653.8 L1393.0,651.7 L1394.0,652.3 L1395.0,651.7 L1396.0,652.8 L1397.0,649.9 L1398.0,651.0 L1399.0,650.8 L1400.0,651.8 L1401.0,649.8 L1402.0,650.4 L1403.0,649.6 L1404.0,650.1 L1405.0,650.4 L1406.0,648.8 L1407.0,650.4 L1408.0,650.0 L1409.0,649.5 L1410.0,649.7 L1411.0,648.2 L1412.1,648.4 L1413.1,647.6 L1414.1,647.9 L1415.1,648.4 L1416.1,647.2 L1417.1,647.3 L1418.1,646.8 L1419.1,646.5 L1420.1,646.5 L1421.1,646.8 L1422.1,645.7 L1423.1,646.6 L1424.1,647.6 L1425.1,646.6 L1426.1,645.7 L1427.1,644.9 L1428.1,644.9 L1429.1,646.7 L1430.1,645.1 L1431.1,644.4 L1432.1,644.9 L1433.1,646.3 L1434.1,644.4 L1435.1,644.7 L1436.1,644.2 L1437.1,643.5 L1438.1,642.6 L1439.1,643.1 L1440.1,643.0 L1441.1,643.5 L1442.1,643.5 L1443.1,643.4 L1444.1,642.7 L1445.1,643.0 L1446.1,641.5 L1447.1,643.0 L1448.1,642.1 L1449.1,641.3 L1450.1,641.8 L1451.1,641.1 L1452.1,641.9 L1453.1,642.1 L1454.1,642.5 L1455.1,639.3 L1456.1,639.0 L1457.1,639.6 L1458.1,640.0 L1459.1,640.4 L1460.1,639.8 L1461.1,637.6 L1462.1,638.9 L1463.1,639.7 L1464.2,639.0 L1465.2,639.3 L1466.2,638.2 L1467.2,638.1 L1468.2,638.2 L1469.2,638.2 L1470.2,637.9 L1471.2,637.6 L1472.2,636.8 L1473.2,637.5 L1474.2,637.1 L1475.2,637.8 L1476.2,637.7" stroke="#00ff00" stroke-width="7.93" stroke-linejoin="bevel"/>
<path d="M1476.2,637.7 L1477.2,636.6 L1478.2,635.9 L1479.2,635.5 L1480.2,636.3 L1481.2,635.8 L1482.2,635.3 L1483.2,635.4 L1484.2,634.7 L1485.2,635.6 L1486.2,634.5 L1487.2,635.7 L1488.2,634.8 L1489.2,634.8 L1490.2,633.2 L1491.2,634.1 L1492.2,634.4 L1493.2,632.8 L1494.2,633.2 L1495.2,633.3 L1496.2,631.9 L1497.2,633.2 L1498.2,633.5 L1499.2,631.8 L1500.2,632.7 L1501.2,631.1 L1502.2,632.0 L1503.2,630.4 L1504.2,632.7 L1505.2,631.9 L1506.2,631.3 L1507.2,630.5 L1508.2,632.1 L1509.2,632.6 L1510.2,629.0 L1511.2,631.6 L1512.2,631.8 L1513.2,630.5 L1514.2,628.9 L1515.3,630.6 L1516.3,629.5 L1517.3,628.9 L1518.3,628.2 L1519.3,629.6 L1520.3,629.7 L1521.3,628.2 L1522.3,629.1 L1523.3,627.4 L1524.3,629.0 L1525.3,628.2 L1526.3,627.8 L1527.3,627.7 L1528.3,628.4 L1529.3,628.1 L1530.3,627.8 L1531.3,627.2 L1532.3,627.0 L1533.3,627.3 L1534.3,626.8 L1535.3,627.1 L1536.3,626.0 L1537.3,623.9 L1538.3,626.9 L1539.3,627.7 L1540.3,626.0 L1541.3,625.4 L1542.3,625.2 L1543.3,625.0 L1544.3,625.0 L1545.3,623.8 L1546.3,624.2 L1547.3,623.6 L1548.3,624.5 L1549.3,623.9 L1550.3,624.4 L1551.3,623.6 L1552.3,624.5 L1553.3,623.7 L1554.3,625.3 L1555.3,621.4 L1556.3,622.4 L1557.3,623.6 L1558.3,624.9 L1559.3,622.3 L1560.3,622.4 L1561.3,622.0 L1562.3,623.2 L1563.3,621.6 L1564.3,622.3 L1565.3,621.2 L1566.3,620.2" stroke="#00ff00" stroke-width="7.82" stroke-linejoin="bevel"/>
<path d="M1566.3,620.2 L1567.4,621.5 L1568.4,621.5 L1569.4,622.1 L1570.4,620.6 L1571.4,620.0 L1572.4,620.9 L1573.4,620.5 L1574.4,620.3 L1575.4,619.9 L1576.4,620.8 L1577.4,619.9 L1578.4,621.2 L1579.4,620.3 L1580.4,619.7 L1581.4,617.5 L1582.4,619.4 L1583.4,619.0 L1584.4,619.2 L1585.4,619.3 L1586.4,617.8 L1587.4,618.8 L1588.4,617.4 L1589.4,619.5 L1590.4,616.4 L1591.4,615.8 L1592.4,615.8 L1593.4,616.3 L1594.4,615.9 L1595.4,618.6 L1596.4,616.3 L1597.4,615.3 L1598.4,617.3 L1599.4,615.6 L1600.4,614.9 L1601.4,616.7 L1602.4,616.3 L1603.4,615.2 L1604.4,616.7 L1605.4,615.4 L1606.4,616.6 L1607.4,615.4 L1608.4,616.2 L1609.4,614.7 L1610.4,613.4 L1611.4,616.5 L1612.4,613.7 L1613.4,613.8 L1614.4,613.2 L1615.4,613.5 L1616.4,613.8 L1617.4,613.6 L1618.5,613.9 L1619.5,614.7 L1620.5,612.9 L1621.5,611.7 L1622.5,611.6 L1623.5,611.9 L1624.5,610.9 L1625.5,613.0 L1626.5,611.6 L1627.5,611.6 L1628.5,611.8 L1629.5,610.4 L1630.5,610.7 L1631.5,611.9 L1632.5,611.7 L1633.5,610.6 L1634.5,612.5 L1635.5,609.5 L1636.5,610.3 L1637.5,610.2 L1638.5,607.8 L1639.5,611.9 L1640.5,610.3 L1641.5,608.9 L1642.5,611.5 L1643.5,610.1 L1644.5,609.8 L1645.5,608.7 L1646.5,609.2 L1647.5,607.6 L1648.5,609.5 L1649.5,608.3 L1650.5,608.6 L1651.5,609.5 L1652.5,608.5 L1653.5,608.3 L1654.5,608.2 L1655.5,607.1 L1656.5,608.4" stroke="#00ff00" stroke-width="7.80" stroke-linejoin="bevel"/>
<path d="M1656.5,608.4 L1657.5,608.9 L1658.5,608.0 L1659.5,608.0 L1660.5,606.3 L1661.5,606.1 L1662.5,605.5 L1663.5,607.7 L1664.5,606.3 L1665.5,607.6 L1666.5,605.5 L1667.5,605.7 L1668.5,606.0 L1669.6,606.6 L1670.6,605.7 L1671.6,605.7 L1672.6,605.4 L1673.6,605.4 L1674.6,604.1 L1675.6,605.0 L1676.6,604.6 L1677.6,604.6 L1678.6,604.9 L1679.6,603.7 L1680.6,604.1 L1681.6,603.8 L1682.6,604.3 L1683.6,604.5 L1684.6,602.8 L1685.6,604.0 L1686.6,605.2 L1687.6,601.9 L1688.6,602.3 L1689.6,602.2 L1690.6,602.6 L1691.6,604.1 L1692.6,602.5 L1693.6,601.8 L1694.6,602.8 L1695.6,601.6 L1696.6,603.0 L1697.6,602.1 L1698.6,602.9 L1699.6,601.0 L1700.6,604.1 L1701.6,602.0 L1702.6,601.7 L1703.6,601.0 L1704.6,600.2 L1705.6,599.9 L1706.6,600.5 L1707.6,599.7 L1708.6,600.6 L1709.6,599.4 L1710.6,600.6 L1711.6,600.8 L1712.6,599.1 L1713.6,600.7 L1714.6,599.3 L1715.6,600.4 L1716.6,599.6 L1717.6,600.1 L1718.6,598.1 L1719.6,598.7 L1720.6,600.0 L1721.7,598.0 L1722.7,596.6 L1723.7,596.5 L1724.7,595.9 L1725.7,596.1 L1726.7,597.5 L1727.7,598.9 L1728.7,597.2 L1729.7,597.8 L1730.7,597.2 L1731.7,597.2 L1732.7,596.9 L1733.7,596.8 L1734.7,597.2 L1735.7,595.6 L1736.7,597.4 L1737.7,597.2 L1738.7,596.1 L1739.7,596.9 L1740.7,595.4 L1741.7,595.4 L1742.7,595.9 L1743.7,595.4 L1744.7,595.1 L1745.7,594.7 L1746.7,594.7" stroke="#00ff00" stroke-width="7.80" stroke-linejoin="bevel"/>
<path d="M1746.7,594.7 L1747.7,595.9 L1748.7,593.2 L1749.7,595.1 L1750.7,594.5 L1751.7,595.2 L1752.7,594.9 L1753.7,591.8 L1754.7,594.7 L1755.7,594.3 L1756.7,593.9 L1757.7,593.3 L1758.7,594.4 L1759.7,593.1 L1760.7,595.0 L1761.7,593.8 L1762.7,595.0 L1763.7,592.3 L1764.7,591.3 L1765.7,593.4 L1766.7,593.4 L1767.7,592.5 L1768.7,591.0 L1769.7,591.8 L1770.7,592.6 L1771.7,591.8 L1772.8,591.7 L1773.8,591.5 L1774.8,590.7 L1775.8,591.0 L1776.8,590.0 L1777.8,592.8 L1778.8,590.6 L1779.8,591.4 L1780.8,589.9 L1781.8,591.4 L1782.8,588.9 L1783.8,591.3 L1784.8,590.3 L1785.8,592.1 L1786.8,588.9 L1787.8,590.0 L1788.8,590.1 L1789.8,590.8 L1790.8,589.2 L1791.8,589.5 L1792.8,587.4 L1793.8,588.4 L1794.8,589.4 L1795.8,589.9 L1796.8,588.5 L1797.8,590.5 L1798.8,590.1 L1799.8,588.4 L1800.8,586.1 L1801.8,586.6 L1802.8,587.3 L1803.8,588.9 L1804.8,588.1 L1805.8,585.8 L1806.8,587.3 L1807.8,588.9 L1808.8,587.0 L1809.8,586.5 L1810.8,588.9 L1811.8,587.0 L1812.8,586.4 L1813.8,587.0 L1814.8,586.6 L1815.8,586.0 L1816.8,587.4 L1817.8,587.2 L1818.8,586.8 L1819.8,585.8 L1820.8,586.9 L1821.8,585.7 L1822.8,586.0 L1823.8,586.4 L1824.9,586.1 L1825.9,586.8 L1826.9,585.5 L1827.9,583.4 L1828.9,583.8 L1829.9,585.9 L1830.9,584.3 L1831.9,584.8 L1832.9,583.6 L1833.9,585.1 L1834.9,583.8 L1835.9,585.3 L1836.9,583.4" stroke="#00ff00" stroke-width="7.80" stroke-linejoin="bevel"/>
<path d="M1836.9,583.4 L1837.9,584.8 L1838.9,584.2 L1839.9,582.9 L1840.9,584.4 L1841.9,582.5 L1842.9,582.4 L1843.9,583.7 L1844.9,582.4 L1845.9,582.3 L1846.9,582.4 L1847.9,581.7 L1848.9,583.4 L1849.9,582.9 L1850.9,582.1 L1851.9,582.0 L1852.9,582.4 L1853.9,583.4 L1854.9,582.5 L1855.9,581.2 L1856.9,582.2 L1857.9,581.3 L1858.9,581.1 L1859.9,582.8 L1860.9,580.6 L1861.9,580.5 L1862.9,579.0 L1863.9,579.4 L1864.9,581.0 L1865.9,579.8 L1866.9,580.8 L1867.9,579.2 L1868.9,579.4 L1869.9,580.6 L1870.9,581.2 L1871.9,580.3 L1872.9,580.7 L1873.9,581.0 L1874.9,580.3 L1876.0,578.4 L1877.0,579.1 L1878.0,579.6 L1879.0,578.5 L1880.0,579.2 L1881.0,577.3 L1882.0,577.8 L1883.0,578.9 L1884.0,576.3 L1885.0,577.2 L1886.0,578.1 L1887.0,576.4 L1888.0,577.9 L1889.0,577.0 L1890.0,577.4 L1891.0,577.3 L1892.0,577.6 L1893.0,576.8 L1894.0,577.3 L1895.0,576.5 L1896.0,577.5 L1897.0,578.4 L1898.0,576.9 L1899.0,576.8 L1900.0,575.5 L1901.0,577.0 L1902.0,575.6 L1903.0,575.4 L1904.0,576.6 L1905.0,576.1 L1906.0,576.8 L1907.0,577.0 L1908.0,575.1 L1909.0,575.6 L1910.0,577.0 L1911.0,576.1 L1912.0,575.8 L1913.0,576.2 L1914.0,574.4 L1915.0,575.4 L1916.0,576.0 L1917.0,576.1 L1918.0,573.8 L1919.0,574.1 L1920.0,574.6 L1921.0,573.9 L1922.0,573.7 L1923.0,574.5 L1924.0,573.5 L1925.0,572.1 L1926.0,573.9 L1927.0,573.1" stroke="#00ff00" stroke-width="7.80" stroke-linejoin="bevel"/>
<path d="M1927.0,573.1 L1928.1,572.7 L1929.1,571.9 L1930.1,574.1 L1931.1,571.0 L1932.1,571.4 L1933.1,572.6 L1934.1,573.8 L1935.1,573.8 L1936.1,571.5 L1937.1,572.2 L1938.1,570.9 L1939.1,573.1 L1940.1,570.7 L1941.1,571.8 L1942.1,572.8 L1943.1,571.5 L1944.1,572.9 L1945.1,570.7 L1946.1,571.7 L1947.1,572.1 L1948.1,571.1 L1949.1,572.3 L1950.1,571.5 L1951.1,569.4 L1952.1,574.3 L1953.1,571.2 L1954.1,570.6 L1955.1,569.2 L1956.1,570.4 L1957.1,569.8 L1958.1,570.7 L1959.1,570.3 L1960.1,571.6 L1961.1,569.9 L1962.1,570.1 L1963.1,569.9 L1964.1,569.3 L1965.1,569.2 L1966.1,570.2 L1967.1,569.8 L1968.1,568.5 L1969.1,567.9 L1970.1,568.8 L1971.9,569.7" stroke="#00ff00" stroke-width="7.80" stroke-linejoin="bevel"/>
<rect x="1380.5" y="630.3" width="11.0" height="26.0" fill="#00ff00" stroke="none"/>
<path d="M167.0,1531.6 L167.0,1531.3 L167.1,1530.6 L167.2,1529.3 L167.3,1527.6 L167.5,1525.5 L167.7,1523.0 L167.9,1520.2 L168.2,1517.1 L168.5,1513.8 L168.9,1510.4 L169.3,1506.8 L169.7,1503.0 L170.2,1499.2 L170.7,1495.3 L171.2,1491.4 L171.8,1487.4 L172.4,1483.4 L173.1,1479.3 L173.8,1475.2 L174.5,1471.0 L175.3,1466.8 L176.1,1462.5 L176.9,1458.2 L177.8,1453.8 L178.7,1449.5 L179.7,1445.0 L180.7,1440.6 L181.7,1436.1 L182.8,1431.6 L183.9,1427.1 L185.0,1422.6 L186.2,1418.1 L187.4,1413.5 L188.7,1409.0 L190.0,1404.5 L191.3,1400.0 L192.7,1395.5 L194.1,1391.0 L195.6,1386.6 L197.0,1382.1 L198.6,1377.7 L200.1,1373.3 L201.7,1368.9 L203.4,1364.5 L205.0,1360.2 L206.7,1355.8 L208.5,1351.5 L210.3,1347.2 L212.1,1342.9 L214.3,1337.7 L216.6,1332.7 L218.9,1327.8 L221.1,1323.0 L223.4,1318.3 L225.6,1313.7 L227.9,1309.2 L230.1,1304.8 L232.4,1300.5 L234.6,1296.3 L236.9,1292.1 L239.1,1288.0 L241.4,1283.9 L243.6,1279.9 L245.9,1276.0 L248.2,1272.1 L250.4,1268.3 L252.7,1264.5 L254.9,1260.7 L257.2,1257.0 L259.4,1253.3 L261.7,1249.7 L263.9,1246.1 L266.2,1242.5 L268.4,1239.0 L270.7,1235.5 L273.0,1232.0 L275.2,1228.6 L277.5,1225.2 L279.7,1221.8 L282.0,1218.4 L284.2,1215.1 L286.5,1211.8 L288.7,1208.5 L291.0,1205.2 L293.2,1202.0 L295.5,1198.7 L297.8,1195.5 L300.0,1192.3 L302.3,1189.2 L304.5,1186.0 L306.8,1182.9 L309.0,1179.8 L311.3,1176.7 L313.5,1173.6 L315.8,1170.5 L318.0,1167.5 L320.3,1164.4 L322.6,1161.4 L324.8,1158.4 L327.1,1155.4 L329.3,1152.5 L331.6,1149.5 L333.8,1146.6 L336.1,1143.6 L338.3,1140.7 L340.6,1137.8 L342.8,1134.9 L345.1,1132.1 L347.4,1129.2 L349.6,1126.3 L351.9,1123.5 L354.1,1120.7 L356.4,1117.9 L358.6,1115.1 L360.9,1112.3 L363.1,1109.5 L365.4,1106.8 L367.6,1104.0 L369.9,1101.3 L372.1,1098.6 L374.4,1095.8 L376.7,1093.1 L378.9,1090.5 L381.2,1087.8 L383.4,1085.1 L385.7,1082.5 L387.9,1079.8 L390.2,1077.2 L392.4,1074.6 L394.7,1071.9 L396.9,1069.3 L399.2,1066.8 L401.5,1064.2 L403.7,1061.6 L406.0,1059.1 L408.2,1056.5 L410.5,1054.0 L412.7,1051.4 L415.0,1048.9 L417.2,1046.4 L419.5,1043.9 L421.7,1041.4 L424.0,1039.0 L426.3,1036.5 L428.5,1034.1 L430.8,1031.6 L433.0,1029.2 L435.3,1026.8 L437.5,1024.3 L439.8,1021.9 L442.0,1019.5 L444.3,1017.2 L446.5,1014.8 L448.8,1012.4 L451.1,1010.1 L453.3,1007.7 L455.6,1005.4 L457.8,1003.0 L460.1,1000.7 L462.3,998.4 L464.6,996.1 L466.8,993.8 L469.1,991.5 L471.3,989.3 L473.6,987.0 L475.8,984.8 L478.1,982.5 L480.4,980.3 L482.6,978.0 L484.9,975.8 L487.1,973.6 L489.4,971.4 L491.6,969.2 L493.9,967.0 L496.1,964.9 L498.4,962.7 L500.6,960.5 L502.9,958.4 L505.2,956.2 L507.4,954.1 L509.7,952.0 L511.9,949.9 L514.2,947.8 L516.4,945.7 L518.7,943.6 L520.9,941.5 L523.2,939.4 L525.4,937.3 L527.7,935.3 L530.0,933.2 L532.2,931.2 L534.5,929.2 L536.7,927.1 L539.0,925.1 L541.2,923.1 L543.5,921.1 L545.7,919.1 L548.0,917.1 L550.2,915.1 L552.5,913.2 L554.8,911.2 L557.0,909.2 L559.3,907.3 L561.5,905.4 L563.8,903.4 L566.0,901.5 L568.3,899.6 L570.5,897.7 L572.8,895.8 L575.0,893.9 L577.3,892.0 L579.6,890.1 L581.8,888.2 L584.1,886.4 L586.3,884.5 L588.6,882.6 L590.8,880.8 L593.1,879.0 L595.3,877.1 L597.6,875.3 L599.8,873.5 L602.1,871.7 L604.3,869.9 L606.6,868.1 L608.9,866.3 L611.1,864.5 L613.4,862.7 L615.6,860.9 L617.9,859.2 L620.1,857.4 L622.4,855.7 L624.6,853.9 L626.9,852.2 L629.1,850.5 L631.4,848.7 L633.7,847.0 L635.9,845.3 L638.2,843.6 L640.4,841.9 L642.7,840.2 L644.9,838.5 L647.2,836.9 L649.4,835.2 L651.7,833.5 L653.9,831.9 L656.2,830.2 L658.5,828.6 L660.7,826.9 L663.0,825.3 L665.2,823.7 L667.5,822.0 L669.7,820.4 L672.0,818.8 L674.2,817.2 L676.5,815.6 L678.7,814.0 L681.0,812.4 L683.3,810.9 L685.5,809.3 L687.8,807.7 L690.0,806.2 L692.3,804.6 L694.5,803.0 L696.8,801.5 L699.0,800.0 L701.3,798.4 L703.5,796.9 L705.8,795.4 L708.1,793.9 L710.3,792.3 L712.6,790.8 L714.8,789.3 L717.1,787.9 L719.3,786.4 L721.6,784.9 L723.8,783.4 L726.1,781.9 L728.3,780.5 L730.6,779.0 L732.8,777.5 L735.1,776.1 L737.4,774.7 L739.6,773.2 L741.9,771.8 L744.1,770.3 L746.4,768.9 L748.6,767.5 L750.9,766.1 L753.1,764.7 L755.4,763.3 L757.6,761.9 L759.9,760.5 L762.2,759.1 L764.4,757.7 L766.7,756.3 L768.9,755.0 L771.2,753.6 L773.4,752.2 L775.7,750.9 L777.9,749.5 L780.2,748.2 L782.4,746.8 L784.7,745.5 L787.0,744.2 L789.2,742.8 L791.5,741.5 L793.7,740.2 L796.0,738.9 L798.2,737.6 L800.5,736.3 L802.7,735.0 L805.0,733.7 L807.2,732.4 L809.5,731.1 L811.8,729.8 L814.0,728.5 L816.3,727.3 L818.5,726.0 L820.8,724.7 L823.0,723.5 L825.3,722.2 L827.5,721.0 L829.8,719.7 L832.0,718.5 L834.3,717.3 L836.5,716.0 L838.8,714.8 L841.1,713.6 L843.3,712.4 L845.6,711.1 L847.8,709.9 L850.1,708.7 L852.3,707.5 L854.6,706.3 L856.8,705.1 L859.1,704.0 L861.3,702.8 L863.6,701.6 L865.9,700.4 L868.1,699.2 L870.4,698.1 L872.6,696.9 L874.9,695.8 L877.1,694.6 L879.4,693.5 L881.6,692.3 L883.9,691.2 L886.1,690.0 L888.4,688.9 L890.7,687.8 L892.9,686.6 L895.2,685.5 L897.4,684.4 L899.7,683.3 L901.9,682.2 L904.2,681.1 L906.4,680.0 L908.7,678.9 L910.9,677.8 L913.2,676.7 L915.5,675.6 L917.7,674.5 L920.0,673.4 L922.2,672.4 L924.5,671.3 L926.7,670.2 L929.0,669.1 L931.2,668.1 L933.5,667.0 L935.7,666.0 L938.0,664.9 L940.3,663.9 L942.5,662.8 L944.8,661.8 L947.0,660.8 L949.3,659.7 L951.5,658.7 L953.8,657.7 L956.0,656.7 L958.3,655.6 L960.5,654.6 L962.8,653.6 L965.0,652.6 L967.3,651.6 L969.6,650.6 L971.8,649.6 L974.1,648.6 L976.3,647.6 L978.6,646.6 L980.8,645.7 L983.1,644.7 L985.3,643.7 L987.6,642.7 L989.8,641.8 L991.4,641.1" stroke="#0000ff" stroke-width="9.3"/>
<path d="M991.4,639.6 L992.4,639.4 L993.4,637.7 L994.4,639.6 L995.4,637.1 L996.4,637.2 L997.4,637.6 L998.4,636.1 L999.4,635.8 L1000.4,635.5 L1001.4,636.0 L1002.4,636.6 L1003.4,634.8 L1004.4,633.7 L1005.4,634.3 L1006.4,633.2 L1007.4,633.1 L1008.4,633.4 L1009.4,631.8 L1010.4,631.9 L1011.4,630.9 L1012.4,630.9 L1013.4,630.8 L1014.4,629.6 L1015.4,629.6 L1016.4,629.2 L1017.5,628.5 L1018.5,627.8 L1019.5,627.2 L1020.5,627.6 L1021.5,627.1 L1022.5,628.3 L1023.5,624.9 L1024.5,626.2 L1025.5,625.9 L1026.5,626.2 L1027.5,625.2 L1028.5,623.9 L1029.5,624.1 L1030.5,624.0 L1031.5,623.0 L1032.5,623.4 L1033.5,621.2 L1034.5,623.2 L1035.5,622.6 L1036.5,621.0 L1037.5,621.2 L1038.5,620.5 L1039.5,619.5 L1040.5,619.7 L1041.5,619.9 L1042.5,618.6 L1043.5,618.2 L1044.5,618.0 L1045.5,617.9 L1046.5,618.1 L1047.5,616.4 L1048.5,616.8 L1049.5,616.2 L1050.5,614.4 L1051.5,615.0 L1052.5,614.8 L1053.5,614.5 L1054.5,614.3 L1055.5,612.3 L1056.5,613.4 L1057.5,612.5 L1058.5,611.6 L1059.5,612.5 L1060.5,612.3 L1061.5,610.9 L1062.5,611.6 L1063.5,610.4 L1064.5,610.3 L1065.5,609.1 L1066.5,610.6 L1067.5,607.2 L1068.5,608.7 L1069.6,608.8 L1070.6,606.5 L1071.6,607.4 L1072.6,607.1 L1073.6,607.4 L1074.6,607.3 L1075.6,605.8 L1076.6,604.7 L1077.6,606.3 L1078.6,605.8 L1079.6,604.2 L1080.6,604.4 L1081.6,604.1" stroke="#0000ff" stroke-width="7.56" stroke-linejoin="bevel"/>
<path d="M1081.6,604.1 L1082.6,603.8 L1083.6,603.2 L1084.6,603.7 L1085.6,601.0 L1086.6,602.7 L1087.6,601.8 L1088.6,601.0 L1089.6,601.7 L1090.6,598.7 L1091.6,600.9 L1092.6,600.0 L1093.6,598.5 L1094.6,599.3 L1095.6,598.4 L1096.6,600.2 L1097.6,599.3 L1098.6,597.8 L1099.6,596.6 L1100.6,596.3 L1101.6,596.2 L1102.6,595.6 L1103.6,595.0 L1104.6,594.9 L1105.6,594.8 L1106.6,594.2 L1107.6,593.7 L1108.6,593.2 L1109.6,595.5 L1110.6,592.0 L1111.6,592.0 L1112.6,592.8 L1113.6,591.9 L1114.6,592.1 L1115.6,592.0 L1116.6,592.0 L1117.6,591.3 L1118.6,589.6 L1119.6,590.8 L1120.7,588.2 L1121.7,589.2 L1122.7,588.5 L1123.7,587.7 L1124.7,588.7 L1125.7,587.7 L1126.7,588.3 L1127.7,586.0 L1128.7,587.5 L1129.7,586.8 L1130.7,586.2 L1131.7,584.6 L1132.7,585.2 L1133.7,583.8 L1134.7,583.1 L1135.7,587.0 L1136.7,584.8 L1137.7,585.1 L1138.7,583.0 L1139.7,583.6 L1140.7,583.2 L1141.7,582.8 L1142.7,582.0 L1143.7,581.4 L1144.7,579.6 L1145.7,581.4 L1146.7,580.9 L1147.7,581.2 L1148.7,579.7 L1149.7,581.0 L1150.7,578.9 L1151.7,577.9 L1152.7,579.3 L1153.7,577.8 L1154.7,576.9 L1155.7,577.7 L1156.7,577.8 L1157.7,577.1 L1158.7,577.0 L1159.7,579.6 L1160.7,576.6 L1161.7,576.8 L1162.7,573.6 L1163.7,575.2 L1164.7,575.2 L1165.7,573.9 L1166.7,573.2 L1167.7,573.9 L1168.7,573.0 L1169.7,572.4 L1170.7,573.6 L1171.7,573.4" stroke="#0000ff" stroke-width="7.25" stroke-linejoin="bevel"/>
<path d="M1171.7,573.4 L1172.8,572.2 L1173.8,571.2 L1174.8,571.7 L1175.8,571.7 L1176.8,571.2 L1177.8,569.1 L1178.8,569.7 L1179.8,570.0 L1180.8,569.9 L1181.8,569.8 L1182.8,569.3 L1183.8,567.4 L1184.8,567.4 L1185.8,566.7 L1186.8,568.9 L1187.8,567.2 L1188.8,567.2 L1189.8,567.3 L1190.8,565.8 L1191.8,564.8 L1192.8,565.1 L1193.8,565.0 L1194.8,566.2 L1195.8,565.3 L1196.8,563.3 L1197.8,564.5 L1198.8,564.2 L1199.8,562.3 L1200.8,562.9 L1201.8,561.0 L1202.8,562.6 L1203.8,561.7 L1204.8,560.5 L1205.8,560.8 L1206.8,561.3 L1207.8,560.3 L1208.8,560.7 L1209.8,560.6 L1210.8,559.1 L1211.8,559.2 L1212.8,561.1 L1213.8,559.0 L1214.8,557.8 L1215.8,558.3 L1216.8,556.8 L1217.8,558.7 L1218.8,557.7 L1219.8,558.0 L1220.8,557.6 L1221.8,556.8 L1222.8,557.0 L1223.9,556.0 L1224.9,554.9 L1225.9,554.3 L1226.9,554.5 L1227.9,552.3 L1228.9,556.0 L1229.9,552.4 L1230.9,553.7 L1231.9,552.2 L1232.9,551.2 L1233.9,552.7 L1234.9,552.2 L1235.9,552.1 L1236.9,552.4 L1237.9,551.1 L1238.9,551.7 L1239.9,551.5 L1240.9,550.4 L1241.9,550.2 L1242.9,550.6 L1243.9,549.9 L1244.9,549.7 L1245.9,547.0 L1246.9,549.0 L1247.9,549.0 L1248.9,548.2 L1249.9,548.4 L1250.9,549.6 L1251.9,547.6 L1252.9,547.8 L1253.9,546.1 L1254.9,545.8 L1255.9,545.9 L1256.9,545.1 L1257.9,545.7 L1258.9,544.6 L1259.9,545.0 L1260.9,543.5 L1261.9,543.0" stroke="#0000ff" stroke-width="6.94" stroke-linejoin="bevel"/>
<path d="M1261.9,543.0 L1262.9,543.7 L1263.9,543.0 L1264.9,543.1 L1265.9,542.9 L1266.9,542.8 L1267.9,543.9 L1268.9,543.9 L1269.9,543.0 L1270.9,541.7 L1271.9,543.2 L1272.9,540.0 L1273.9,539.2 L1275.0,541.2 L1276.0,540.6 L1277.0,540.2 L1278.0,540.1 L1279.0,538.2 L1280.0,538.3 L1281.0,540.4 L1282.0,539.9 L1283.0,537.9 L1284.0,540.3 L1285.0,537.0 L1286.0,537.2 L1287.0,537.8 L1288.0,536.1 L1289.0,536.5 L1290.0,536.5 L1291.0,536.0 L1292.0,537.0 L1293.0,536.5 L1294.0,534.5 L1295.0,534.6 L1296.0,535.2 L1297.0,534.7 L1298.0,533.7 L1299.0,534.7 L1300.0,534.8 L1301.0,533.0 L1302.0,534.2 L1303.0,531.5 L1304.0,531.2 L1305.0,533.1 L1306.0,531.5 L1307.0,531.0 L1308.0,531.5 L1309.0,530.8 L1310.0,531.6 L1311.0,529.5 L1312.0,530.3 L1313.0,533.7 L1314.0,530.3 L1315.0,527.9 L1316.0,530.3 L1317.0,529.9 L1318.0,530.5 L1319.0,529.0 L1320.0,527.9 L1321.0,529.8 L1322.0,528.8 L1323.0,525.9 L1324.0,528.3 L1325.0,527.0 L1326.0,528.2 L1327.1,526.3 L1328.1,527.3 L1329.1,526.4 L1330.1,526.6 L1331.1,525.7 L1332.1,525.0 L1333.1,525.2 L1334.1,525.6 L1335.1,525.1 L1336.1,526.1 L1337.1,524.6 L1338.1,524.5 L1339.1,525.8 L1340.1,523.4 L1341.1,523.7 L1342.1,522.2 L1343.1,522.6 L1344.1,524.1 L1345.1,522.4 L1346.1,523.4 L1347.1,520.4 L1348.1,519.8 L1349.1,521.4 L1350.1,519.3 L1351.1,523.4 L1352.1,521.6" stroke="#0000ff" stroke-width="6.63" stroke-linejoin="bevel"/>
<path d="M1352.1,521.6 L1353.1,518.7 L1354.1,519.6 L1355.1,518.9 L1356.1,519.7 L1357.1,519.0 L1358.1,519.8 L1359.1,520.1 L1360.1,518.0 L1361.1,516.7 L1362.1,518.4 L1363.1,517.3 L1364.1,518.5 L1365.1,516.9 L1366.1,517.7 L1367.1,516.9 L1368.1,516.1 L1369.1,515.5 L1370.1,516.6 L1371.1,518.3 L1372.1,516.2 L1373.1,514.9 L1374.1,515.6 L1375.1,514.7 L1376.1,512.9 L1377.1,514.4 L1378.2,515.5 L1379.2,513.2 L1380.2,512.1 L1381.2,513.6 L1382.2,514.9 L1383.2,513.7 L1384.2,513.5 L1385.2,514.7 L1386.2,513.7 L1387.2,512.4 L1388.2,511.2 L1389.2,511.3 L1390.2,510.8 L1391.2,511.6 L1392.2,509.4 L1393.2,511.9 L1394.2,510.1 L1395.2,509.3 L1396.2,510.4 L1397.2,506.9 L1398.2,508.1 L1399.2,508.0 L1400.2,509.5 L1401.2,507.7 L1402.2,509.7 L1403.2,507.3 L1404.2,508.2 L1405.2,506.5 L1406.2,508.4 L1407.2,506.6 L1408.2,507.2 L1409.2,505.8 L1410.2,504.9 L1411.2,505.7 L1412.2,507.0 L1413.2,504.3 L1414.2,503.5 L1415.2,504.7 L1416.2,505.7 L1417.2,503.3 L1418.2,503.7 L1419.2,504.3 L1420.2,503.5 L1421.2,504.0 L1422.2,504.8 L1423.2,503.2 L1424.2,502.9 L1425.2,503.6 L1426.2,502.4 L1427.2,501.1 L1428.2,500.8 L1429.2,500.5 L1430.3,503.8 L1431.3,501.3 L1432.3,501.8 L1433.3,501.7 L1434.3,499.5 L1435.3,501.2 L1436.3,499.5 L1437.3,497.5 L1438.3,499.5 L1439.3,498.2 L1440.3,498.9 L1441.3,499.5 L1442.3,501.6" stroke="#0000ff" stroke-width="6.32" stroke-linejoin="bevel"/>
<path d="M1442.3,501.6 L1443.3,498.0 L1444.3,498.2 L1445.3,498.6 L1446.3,498.2 L1447.3,497.6 L1448.3,496.2 L1449.3,496.1 L1450.3,496.9 L1451.3,495.5 L1452.3,495.8 L1453.3,494.9 L1454.3,497.6 L1455.3,494.2 L1456.3,498.1 L1457.3,494.8 L1458.3,494.0 L1459.3,493.7 L1460.3,495.8 L1461.3,495.9 L1462.3,493.4 L1463.3,494.6 L1464.3,493.8 L1465.3,493.5 L1466.3,493.8 L1467.3,494.3 L1468.3,490.8 L1469.3,490.2 L1470.3,493.0 L1471.3,492.4 L1472.3,493.1 L1473.3,490.0 L1474.3,490.6 L1475.3,493.6 L1476.3,489.8 L1477.3,491.7 L1478.3,490.0 L1479.3,490.3 L1480.3,488.9 L1481.4,491.9 L1482.4,487.8 L1483.4,488.4 L1484.4,488.6 L1485.4,491.0 L1486.4,489.7 L1487.4,490.0 L1488.4,488.9 L1489.4,489.0 L1490.4,489.1 L1491.4,490.2 L1492.4,488.4 L1493.4,486.0 L1494.4,489.1 L1495.4,487.6 L1496.4,485.8 L1497.4,486.8 L1498.4,485.6 L1499.4,489.3 L1500.4,486.0 L1501.4,483.6 L1502.4,486.4 L1503.4,484.7 L1504.4,487.2 L1505.4,485.5 L1506.4,482.9 L1507.4,484.3 L1508.4,483.4 L1509.4,483.6 L1510.4,483.5 L1511.4,481.6 L1512.4,484.2 L1513.4,482.6 L1514.4,482.4 L1515.4,484.3 L1516.4,485.6 L1517.4,482.1 L1518.4,485.1 L1519.4,479.9 L1520.4,483.1 L1521.4,481.4 L1522.4,481.8 L1523.4,480.4 L1524.4,480.7 L1525.4,480.9 L1526.4,480.7 L1527.4,481.5 L1528.4,483.7 L1529.4,479.7 L1530.4,480.1 L1531.4,477.9 L1532.4,476.7" stroke="#0000ff" stroke-width="6.01" stroke-linejoin="bevel"/>
<path d="M1532.4,476.7 L1533.5,481.5 L1534.5,477.8 L1535.5,478.4 L1536.5,479.2 L1537.5,480.1 L1538.5,479.2 L1539.5,481.0 L1540.5,478.1 L1541.5,475.8 L1542.5,478.1 L1543.5,477.9 L1544.5,476.5 L1545.5,477.0 L1546.5,476.4 L1547.5,479.2 L1548.5,476.0 L1549.5,474.8 L1550.5,476.8 L1551.5,473.9 L1552.5,476.6 L1553.5,476.4 L1554.5,474.5 L1555.5,474.7 L1556.5,474.5 L1557.5,477.2 L1558.5,475.4 L1559.5,473.1 L1560.5,472.9 L1561.5,474.2 L1562.5,474.1 L1563.5,472.9 L1564.5,474.1 L1565.5,473.3 L1566.5,474.8 L1567.5,473.7 L1568.5,472.9 L1569.5,473.0 L1570.5,471.5 L1571.5,473.6 L1572.5,472.7 L1573.5,471.5 L1574.5,472.0 L1575.5,471.0 L1576.5,474.7 L1577.5,470.7 L1578.5,471.8 L1579.5,471.4 L1580.5,469.7 L1581.5,470.6 L1582.5,470.0 L1583.5,470.5 L1584.6,470.3 L1585.6,470.8 L1586.6,470.7 L1587.6,468.9 L1588.6,468.6 L1589.6,468.3 L1590.6,467.8 L1591.6,466.5 L1592.6,469.3 L1593.6,468.2 L1594.6,467.9 L1595.6,465.8 L1596.6,465.9 L1597.6,464.4 L1598.6,467.3 L1599.6,468.1 L1600.6,467.9 L1601.6,466.8 L1602.6,465.3 L1603.6,466.5 L1604.6,466.4 L1605.6,467.1 L1606.6,467.0 L1607.6,465.5 L1608.6,465.6 L1609.6,466.4 L1610.6,465.9 L1611.6,464.9 L1612.6,462.1 L1613.6,463.9 L1614.6,465.7 L1615.6,464.6 L1616.6,465.5 L1617.6,463.6 L1618.6,464.0 L1619.6,464.7 L1620.6,464.4 L1621.6,463.9 L1622.6,464.6" stroke="#0000ff" stroke-width="5.90" stroke-linejoin="bevel"/>
<path d="M1622.6,464.6 L1623.6,464.7 L1624.6,464.6 L1625.6,460.5 L1626.6,461.8 L1627.6,461.9 L1628.6,461.6 L1629.6,459.8 L1630.6,463.5 L1631.6,460.3 L1632.6,461.6 L1633.6,458.1 L1634.6,460.4 L1635.7,460.6 L1636.7,459.5 L1637.7,461.5 L1638.7,463.5 L1639.7,459.1 L1640.7,458.9 L1641.7,462.2 L1642.7,460.4 L1643.7,459.1 L1644.7,457.7 L1645.7,460.2 L1646.7,459.3 L1647.7,460.9 L1648.7,457.6 L1649.7,458.3 L1650.7,458.0 L1651.7,457.9 L1652.7,459.4 L1653.7,458.9 L1654.7,456.8 L1655.7,457.4 L1656.7,457.0 L1657.7,458.3 L1658.7,456.8 L1659.7,455.4 L1660.7,456.2 L1661.7,456.4 L1662.7,457.5 L1663.7,457.8 L1664.7,457.7 L1665.7,456.3 L1666.7,455.0 L1667.7,456.3 L1668.7,455.1 L1669.7,454.4 L1670.7,455.4 L1671.7,455.4 L1672.7,455.8 L1673.7,453.3 L1674.7,452.2 L1675.7,454.8 L1676.7,452.8 L1677.7,455.2 L1678.7,452.3 L1679.7,452.8 L1680.7,451.0 L1681.7,455.9 L1682.7,452.4 L1683.7,452.8 L1684.7,452.0 L1685.7,452.2 L1686.7,453.5 L1687.8,452.4 L1688.8,452.1 L1689.8,453.5 L1690.8,450.0 L1691.8,453.1 L1692.8,453.5 L1693.8,449.5 L1694.8,451.5 L1695.8,449.3 L1696.8,448.0 L1697.8,449.5 L1698.8,451.2 L1699.8,451.3 L1700.8,449.7 L1701.8,448.9 L1702.8,449.3 L1703.8,448.7 L1704.8,448.7 L1705.8,446.2 L1706.8,448.9 L1707.8,448.9 L1708.8,451.7 L1709.8,449.6 L1710.8,448.4 L1711.8,448.5 L1712.8,448.7" stroke="#0000ff" stroke-width="5.90" stroke-linejoin="bevel"/>
<path d="M1712.8,448.7 L1713.8,447.2 L1714.8,445.2 L1715.8,446.9 L1716.8,447.4 L1717.8,447.6 L1718.8,446.4 L1719.8,446.0 L1720.8,446.7 L1721.8,446.9 L1722.8,447.5 L1723.8,446.2 L1724.8,447.0 L1725.8,445.0 L1726.8,447.2 L1727.8,445.9 L1728.8,444.0 L1729.8,445.3 L1730.8,445.6 L1731.8,444.0 L1732.8,446.1 L1733.8,444.6 L1734.8,445.5 L1735.8,443.4 L1736.8,445.0 L1737.8,445.4 L1738.9,443.7 L1739.9,443.9 L1740.9,443.2 L1741.9,444.3 L1742.9,443.7 L1743.9,444.2 L1744.9,443.3 L1745.9,441.6 L1746.9,441.4 L1747.9,442.4 L1748.9,443.4 L1749.9,445.6 L1750.9,443.6 L1751.9,441.6 L1752.9,439.6 L1753.9,442.7 L1754.9,441.9 L1755.9,440.2 L1756.9,442.8 L1757.9,441.5 L1758.9,440.8 L1759.9,438.7 L1760.9,442.3 L1761.9,441.0 L1762.9,440.4 L1763.9,439.3 L1764.9,440.0 L1765.9,441.9 L1766.9,440.8 L1767.9,442.6 L1768.9,441.2 L1769.9,440.2 L1770.9,440.7 L1771.9,439.6 L1772.9,437.4 L1773.9,438.4 L1774.9,439.4 L1775.9,437.6 L1776.9,438.0 L1777.9,437.0 L1778.9,440.6 L1779.9,436.6 L1780.9,436.8 L1781.9,436.9 L1782.9,439.1 L1783.9,439.2 L1784.9,436.9 L1785.9,438.2 L1786.9,436.1 L1787.9,437.2 L1788.9,440.4 L1789.9,438.1 L1791.0,436.7 L1792.0,434.9 L1793.0,436.1 L1794.0,434.6 L1795.0,433.3 L1796.0,436.8 L1797.0,436.7 L1798.0,436.0 L1799.0,436.9 L1800.0,433.3 L1801.0,437.2 L1802.0,433.8 L1803.0,435.6" stroke="#0000ff" stroke-width="5.90" stroke-linejoin="bevel"/>
<path d="M1803.0,435.6 L1804.0,435.5 L1805.0,436.2 L1806.0,437.3 L1807.0,435.0 L1808.0,433.9 L1809.0,432.8 L1810.0,434.4 L1811.0,432.9 L1812.0,432.1 L1813.0,433.4 L1814.0,434.4 L1815.0,433.0 L1816.0,431.9 L1817.0,433.3 L1818.0,431.4 L1819.0,430.9 L1820.0,434.6 L1821.0,432.9 L1822.0,435.0 L1823.0,430.4 L1824.0,433.5 L1825.0,431.8 L1826.0,435.4 L1827.0,431.5 L1828.0,431.1 L1829.0,432.1 L1830.0,431.6 L1831.0,430.7 L1832.0,432.3 L1833.0,431.9 L1834.0,432.0 L1835.0,431.2 L1836.0,429.7 L1837.0,429.6 L1838.0,431.1 L1839.0,429.0 L1840.0,432.3 L1841.0,430.0 L1842.1,428.8 L1843.1,431.0 L1844.1,429.5 L1845.1,431.0 L1846.1,429.6 L1847.1,431.4 L1848.1,428.5 L1849.1,426.0 L1850.1,426.8 L1851.1,426.5 L1852.1,429.3 L1853.1,430.7 L1854.1,428.0 L1855.1,426.4 L1856.1,428.9 L1857.1,428.4 L1858.1,427.2 L1859.1,428.1 L1860.1,427.5 L1861.1,425.8 L1862.1,428.1 L1863.1,426.4 L1864.1,425.7 L1865.1,426.5 L1866.1,428.7 L1867.1,429.1 L1868.1,428.3 L1869.1,425.7 L1870.1,424.8 L1871.1,426.5 L1872.1,425.7 L1873.1,426.0 L1874.1,424.2 L1875.1,424.4 L1876.1,424.0 L1877.1,426.3 L1878.1,426.5 L1879.1,424.2 L1880.1,425.7 L1881.1,425.6 L1882.1,423.7 L1883.1,424.6 L1884.1,425.5 L1885.1,423.0 L1886.1,425.8 L1887.1,423.8 L1888.1,424.0 L1889.1,423.5 L1890.1,421.7 L1891.1,424.0 L1892.1,423.4 L1893.1,422.8" stroke="#0000ff" stroke-width="5.90" stroke-linejoin="bevel"/>
<path d="M1893.1,422.8 L1894.2,422.9 L1895.2,423.6 L1896.2,422.7 L1897.2,422.1 L1898.2,422.8 L1899.2,423.5 L1900.2,422.5 L1901.2,421.3 L1902.2,423.3 L1903.2,421.7 L1904.2,422.7 L1905.2,421.6 L1906.2,420.5 L1907.2,419.9 L1908.2,420.3 L1909.2,421.0 L1910.2,418.3 L1911.2,421.6 L1912.2,422.4 L1913.2,420.5 L1914.2,419.3 L1915.2,418.4 L1916.2,420.8 L1917.2,420.9 L1918.2,420.3 L1919.2,421.0 L1920.2,419.1 L1921.2,419.6 L1922.2,420.1 L1923.2,419.4 L1924.2,420.2 L1925.2,420.1 L1926.2,419.0 L1927.2,417.9 L1928.2,418.1 L1929.2,420.4 L1930.2,417.3 L1931.2,418.8 L1932.2,417.3 L1933.2,421.5 L1934.2,417.5 L1935.2,419.1 L1936.2,416.9 L1937.2,422.2 L1938.2,416.2 L1939.2,418.2 L1940.2,416.0 L1941.2,418.6 L1942.2,415.8 L1943.2,416.7 L1944.2,415.1 L1945.3,416.6 L1946.3,417.0 L1947.3,419.1 L1948.3,413.7 L1949.3,417.3 L1950.3,416.6 L1951.3,415.6 L1952.3,416.0 L1953.3,416.7 L1954.3,416.0 L1955.3,415.9 L1956.3,414.8 L1957.3,415.2 L1958.3,416.2 L1959.3,414.3 L1960.3,414.7 L1961.3,415.3 L1962.3,415.6 L1963.3,415.5 L1964.3,414.6 L1965.3,412.2 L1966.3,415.7 L1967.3,415.9 L1968.3,416.0 L1969.3,414.8 L1970.3,415.3 L1971.9,413.7" stroke="#0000ff" stroke-width="5.90" stroke-linejoin="bevel"/>
<rect x="986.0" y="619.0" width="10.8" height="23.5" fill="#0000ff" stroke="none"/>
<path d="M167.0,1531.6 L167.0,1531.3 L167.1,1530.3 L167.2,1528.7 L167.3,1526.5 L167.5,1523.8 L167.7,1520.8 L167.9,1517.3 L168.2,1513.6 L168.5,1509.8 L168.9,1505.8 L169.3,1501.7 L169.7,1497.7 L170.2,1493.6 L170.7,1489.6 L171.2,1485.6 L171.8,1481.6 L172.4,1477.7 L173.1,1473.8 L173.8,1469.8 L174.5,1465.9 L175.3,1461.9 L176.1,1457.9 L176.9,1453.8 L177.8,1449.7 L178.7,1445.5 L179.7,1441.2 L180.7,1436.9 L181.7,1432.6 L182.8,1428.1 L183.9,1423.7 L185.0,1419.2 L186.2,1414.6 L187.4,1410.0 L188.7,1405.4 L190.0,1400.7 L191.3,1396.0 L192.7,1391.4 L194.1,1386.6 L195.6,1381.9 L197.0,1377.2 L198.6,1372.5 L200.1,1367.7 L201.7,1363.0 L203.4,1358.3 L205.0,1353.6 L206.7,1348.8 L208.5,1344.1 L210.3,1339.4 L212.1,1334.8 L214.3,1329.1 L216.6,1323.6 L218.9,1318.3 L221.1,1313.0 L223.4,1307.9 L225.6,1303.0 L227.9,1298.1 L230.1,1293.3 L232.4,1288.6 L234.6,1284.0 L236.9,1279.5 L239.1,1275.1 L241.4,1270.7 L243.6,1266.5 L245.9,1262.2 L248.2,1258.1 L250.4,1254.0 L252.7,1250.0 L254.9,1246.0 L257.2,1242.0 L259.4,1238.2 L261.7,1234.3 L263.9,1230.5 L266.2,1226.7 L268.4,1223.0 L270.7,1219.3 L273.0,1215.7 L275.2,1212.1 L277.5,1208.5 L279.7,1204.9 L282.0,1201.4 L284.2,1197.9 L286.5,1194.4 L288.7,1191.0 L291.0,1187.6 L293.2,1184.2 L295.5,1180.8 L297.8,1177.4 L300.0,1174.1 L302.3,1170.8 L304.5,1167.5 L306.8,1164.2 L309.0,1161.0 L311.3,1157.8 L313.5,1154.5 L315.8,1151.3 L318.0,1148.2 L320.3,1145.0 L322.6,1141.9 L324.8,1138.7 L327.1,1135.6 L329.3,1132.5 L331.6,1129.4 L333.8,1126.3 L336.1,1123.3 L338.3,1120.2 L340.6,1117.2 L342.8,1114.2 L345.1,1111.2 L347.4,1108.2 L349.6,1105.2 L351.9,1102.2 L354.1,1099.3 L356.4,1096.3 L358.6,1093.4 L360.9,1090.5 L363.1,1087.6 L365.4,1084.7 L367.6,1081.8 L369.9,1079.0 L372.1,1076.1 L374.4,1073.2 L376.7,1070.4 L378.9,1067.6 L381.2,1064.8 L383.4,1062.0 L385.7,1059.2 L387.9,1056.4 L390.2,1053.6 L392.4,1050.9 L394.7,1048.1 L396.9,1045.4 L399.2,1042.6 L401.5,1039.9 L403.7,1037.2 L406.0,1034.5 L408.2,1031.8 L410.5,1029.2 L412.7,1026.5 L415.0,1023.8 L417.2,1021.2 L419.5,1018.6 L421.7,1015.9 L424.0,1013.3 L426.3,1010.7 L428.5,1008.1 L430.8,1005.5 L433.0,1002.9 L435.3,1000.4 L437.5,997.8 L439.8,995.2 L442.0,992.7 L444.3,990.2 L446.5,987.6 L448.8,985.1 L451.1,982.6 L453.3,980.1 L455.6,977.6 L457.8,975.2 L460.1,972.7 L462.3,970.2 L464.6,967.8 L466.8,965.4 L469.1,962.9 L471.3,960.5 L473.6,958.1 L475.8,955.7 L478.1,953.3 L480.4,950.9 L482.6,948.5 L484.9,946.1 L487.1,943.8 L489.4,941.4 L491.6,939.1 L493.9,936.7 L496.1,934.4 L498.4,932.1 L500.6,929.8 L502.9,927.5 L505.2,925.2 L507.4,922.9 L509.7,920.6 L511.9,918.3 L514.2,916.1 L516.4,913.8 L518.7,911.6 L520.9,909.3 L523.2,907.1 L525.4,904.9 L527.7,902.7 L530.0,900.5 L532.2,898.3 L534.5,896.1 L536.7,893.9 L539.0,891.7 L541.2,889.6 L543.5,887.4 L545.7,885.2 L548.0,883.1 L550.2,881.0 L552.5,878.8 L554.8,876.7 L557.0,874.6 L559.3,872.5 L561.5,870.4 L563.8,868.3 L566.0,866.2 L568.3,864.2 L570.5,862.1 L572.8,860.0 L575.0,858.0 L577.3,855.9 L579.6,853.9 L581.8,851.9 L584.1,849.8 L586.3,847.8 L588.6,845.8 L590.8,843.8 L593.1,841.8 L595.3,839.8 L597.6,837.8 L599.8,835.9 L602.1,833.9 L604.3,831.9 L606.6,830.0 L608.9,828.0 L611.1,826.1 L613.4,824.2 L615.6,822.2 L617.9,820.3 L620.1,818.4 L622.4,816.5 L624.6,814.6 L626.9,812.7 L629.1,810.8 L631.4,808.9 L633.7,807.1 L635.9,805.2 L638.2,803.3 L640.4,801.5 L642.7,799.7 L644.9,797.8 L647.2,796.0 L649.4,794.2 L651.7,792.3 L653.9,790.5 L656.2,788.7 L658.5,786.9 L660.7,785.1 L663.0,783.3 L665.2,781.5 L667.5,779.8 L669.7,778.0 L672.0,776.2 L674.2,774.5 L676.5,772.7 L678.7,771.0 L681.0,769.3 L683.3,767.5 L685.5,765.8 L687.8,764.1 L690.0,762.4 L692.3,760.7 L694.5,758.9 L696.8,757.3 L699.0,755.6 L701.3,753.9 L703.5,752.2 L705.8,750.5 L708.1,748.9 L710.3,747.2 L712.6,745.5 L714.8,743.9 L717.1,742.2 L719.3,740.6 L721.6,739.0 L723.8,737.4 L726.1,735.7 L728.3,734.1 L730.6,732.5 L732.8,730.9 L735.1,729.3 L737.4,727.7 L739.6,726.1 L741.9,724.5 L744.1,723.0 L746.4,721.4 L748.6,719.8 L750.9,718.3 L753.1,716.7 L755.4,715.2 L757.6,713.6 L759.9,712.1 L762.2,710.5 L764.4,709.0 L766.7,707.5 L768.9,706.0 L771.2,704.5 L773.4,703.0 L775.7,701.5 L777.9,700.0 L780.2,698.5 L782.4,697.0 L784.7,695.5 L787.0,694.0 L789.2,692.6 L791.5,691.1 L793.7,689.6 L796.0,688.2 L798.2,686.7 L800.5,685.3 L802.7,683.8 L805.0,682.4 L807.2,681.0 L809.5,679.5 L811.8,678.1 L814.0,676.7 L816.3,675.3 L818.5,673.9 L820.8,672.5 L823.0,671.1 L825.3,669.7 L827.5,668.3 L829.8,666.9 L832.0,665.5 L834.3,664.2 L836.5,662.8 L838.8,661.4 L841.1,660.1 L843.3,658.7 L845.6,657.4 L847.8,656.0 L850.1,654.7 L852.3,653.3 L854.6,652.0 L856.8,650.7 L859.1,649.4 L861.3,648.0 L863.6,646.7 L865.9,645.4 L868.1,644.1 L870.4,642.8 L872.6,641.5 L874.3,640.5" stroke="#ffff00" stroke-width="9.3"/>
<path d="M874.3,639.8 L875.3,638.9 L876.3,638.2 L877.3,637.2 L878.3,637.0 L879.3,636.4 L880.3,635.9 L881.3,635.2 L882.3,634.8 L883.3,634.1 L884.3,633.3 L885.3,633.3 L886.3,632.7 L887.3,632.4 L888.3,631.4 L889.3,630.7 L890.3,630.1 L891.3,629.3 L892.3,629.4 L893.3,628.3 L894.3,627.7 L895.3,627.4 L896.3,627.3 L897.3,626.4 L898.3,625.5 L899.3,625.1 L900.4,624.9 L901.4,624.1 L902.4,623.4 L903.4,623.0 L904.4,622.7 L905.4,622.5 L906.4,621.1 L907.4,620.7 L908.4,620.1 L909.4,619.1 L910.4,619.0 L911.4,618.4 L912.4,618.4 L913.4,617.6 L914.4,616.6 L915.4,616.7 L916.4,615.9 L917.4,615.0 L918.4,614.7 L919.4,614.2 L920.4,613.6 L921.4,613.3 L922.4,612.1 L923.4,612.2 L924.4,612.0 L925.4,611.4 L926.4,610.9 L927.4,610.4 L928.4,610.0 L929.4,608.7 L930.4,608.8 L931.4,607.5 L932.4,607.3 L933.4,606.4 L934.4,606.7 L935.4,606.3 L936.4,605.3 L937.4,605.3 L938.4,604.1 L939.4,603.8 L940.4,603.3 L941.4,602.4 L942.4,602.4 L943.4,602.3 L944.4,600.9 L945.4,600.9 L946.4,600.1 L947.4,600.2 L948.4,599.3 L949.4,598.8 L950.4,598.3 L951.4,597.7 L952.5,596.7 L953.5,597.0 L954.5,595.6 L955.5,595.6 L956.5,595.2 L957.5,594.3 L958.5,594.1 L959.5,593.9 L960.5,593.0 L961.5,592.2 L962.5,591.1 L963.5,591.2 L964.5,590.8" stroke="#ffff00" stroke-width="8.79" stroke-linejoin="bevel"/>
<path d="M964.5,590.8 L965.5,590.3 L966.5,589.7 L967.5,589.6 L968.5,588.8 L969.5,588.5 L970.5,588.2 L971.5,587.2 L972.5,586.9 L973.5,587.2 L974.5,586.3 L975.5,585.1 L976.5,585.0 L977.5,584.7 L978.5,584.4 L979.5,583.6 L980.5,582.9 L981.5,582.3 L982.5,582.3 L983.5,581.7 L984.5,580.9 L985.5,580.6 L986.5,580.0 L987.5,579.9 L988.5,578.9 L989.5,578.8 L990.5,578.5 L991.5,577.9 L992.5,577.0 L993.5,577.2 L994.5,576.0 L995.5,575.9 L996.5,575.1 L997.5,574.2 L998.5,574.4 L999.5,574.0 L1000.5,573.4 L1001.5,573.0 L1002.5,572.2 L1003.6,571.7 L1004.6,571.4 L1005.6,571.7 L1006.6,570.8 L1007.6,569.9 L1008.6,569.8 L1009.6,569.0 L1010.6,568.5 L1011.6,568.5 L1012.6,567.5 L1013.6,566.7 L1014.6,566.5 L1015.6,566.4 L1016.6,565.9 L1017.6,565.8 L1018.6,564.7 L1019.6,564.7 L1020.6,564.2 L1021.6,563.5 L1022.6,563.4 L1023.6,562.8 L1024.6,561.9 L1025.6,562.1 L1026.6,560.8 L1027.6,560.8 L1028.6,560.3 L1029.6,560.0 L1030.6,559.2 L1031.6,558.9 L1032.6,558.4 L1033.6,558.4 L1034.6,557.3 L1035.6,557.2 L1036.6,556.6 L1037.6,555.8 L1038.6,556.7 L1039.6,555.3 L1040.6,554.3 L1041.6,554.9 L1042.6,553.6 L1043.6,553.7 L1044.6,553.4 L1045.6,552.4 L1046.6,552.0 L1047.6,551.6 L1048.6,551.3 L1049.6,550.3 L1050.6,550.0 L1051.6,549.9 L1052.6,549.9 L1053.6,549.3 L1054.6,549.3" stroke="#ffff00" stroke-width="8.67" stroke-linejoin="bevel"/>
<path d="M1054.6,549.3 L1055.7,548.5 L1056.7,547.6 L1057.7,547.3 L1058.7,546.1 L1059.7,546.1 L1060.7,545.6 L1061.7,545.7 L1062.7,545.4 L1063.7,544.5 L1064.7,544.1 L1065.7,543.3 L1066.7,543.4 L1067.7,543.1 L1068.7,542.7 L1069.7,541.8 L1070.7,542.4 L1071.7,541.7 L1072.7,540.8 L1073.7,540.2 L1074.7,539.8 L1075.7,539.6 L1076.7,539.1 L1077.7,538.9 L1078.7,538.6 L1079.7,538.4 L1080.7,537.9 L1081.7,536.9 L1082.7,536.7 L1083.7,536.0 L1084.7,535.5 L1085.7,536.0 L1086.7,534.7 L1087.7,535.2 L1088.7,533.9 L1089.7,533.7 L1090.7,533.6 L1091.7,532.8 L1092.7,532.5 L1093.7,531.8 L1094.7,531.3 L1095.7,531.0 L1096.7,530.4 L1097.7,530.9 L1098.7,529.8 L1099.7,530.1 L1100.7,527.9 L1101.7,528.6 L1102.7,528.4 L1103.7,527.7 L1104.7,527.8 L1105.7,527.2 L1106.8,526.5 L1107.8,526.3 L1108.8,526.9 L1109.8,525.4 L1110.8,525.1 L1111.8,524.3 L1112.8,524.2 L1113.8,523.2 L1114.8,523.2 L1115.8,523.9 L1116.8,522.9 L1117.8,522.4 L1118.8,522.2 L1119.8,522.1 L1120.8,521.1 L1121.8,521.4 L1122.8,520.5 L1123.8,519.8 L1124.8,520.0 L1125.8,517.9 L1126.8,518.3 L1127.8,518.2 L1128.8,517.3 L1129.8,517.2 L1130.8,516.6 L1131.8,516.2 L1132.8,517.3 L1133.8,516.0 L1134.8,515.3 L1135.8,515.5 L1136.8,514.4 L1137.8,514.5 L1138.8,513.9 L1139.8,514.1 L1140.8,512.4 L1141.8,512.9 L1142.8,512.3 L1143.8,511.3 L1144.8,511.9" stroke="#ffff00" stroke-width="8.55" stroke-linejoin="bevel"/>
<path d="M1144.8,511.9 L1145.8,510.7 L1146.8,511.4 L1147.8,510.5 L1148.8,510.2 L1149.8,509.5 L1150.8,509.5 L1151.8,507.9 L1152.8,508.4 L1153.8,507.7 L1154.8,507.7 L1155.8,507.2 L1156.8,507.1 L1157.9,506.1 L1158.9,506.9 L1159.9,506.7 L1160.9,505.2 L1161.9,504.9 L1162.9,504.7 L1163.9,504.7 L1164.9,504.6 L1165.9,502.9 L1166.9,502.7 L1167.9,502.2 L1168.9,501.8 L1169.9,501.2 L1170.9,501.7 L1171.9,500.6 L1172.9,501.5 L1173.9,500.8 L1174.9,499.6 L1175.9,499.2 L1176.9,499.0 L1177.9,499.6 L1178.9,498.2 L1179.9,497.5 L1180.9,497.8 L1181.9,497.6 L1182.9,496.8 L1183.9,497.4 L1184.9,496.4 L1185.9,496.2 L1186.9,495.2 L1187.9,495.2 L1188.9,494.8 L1189.9,493.4 L1190.9,494.3 L1191.9,492.9 L1192.9,493.4 L1193.9,492.4 L1194.9,493.6 L1195.9,492.5 L1196.9,492.4 L1197.9,492.0 L1198.9,490.6 L1199.9,489.8 L1200.9,490.4 L1201.9,490.6 L1202.9,489.9 L1203.9,489.8 L1204.9,489.5 L1205.9,488.0 L1206.9,488.5 L1207.9,489.0 L1208.9,487.4 L1210.0,486.3 L1211.0,486.8 L1212.0,486.4 L1213.0,486.5 L1214.0,485.5 L1215.0,485.6 L1216.0,484.1 L1217.0,485.3 L1218.0,485.3 L1219.0,484.8 L1220.0,483.1 L1221.0,483.6 L1222.0,481.6 L1223.0,482.9 L1224.0,482.4 L1225.0,481.6 L1226.0,481.9 L1227.0,481.4 L1228.0,481.5 L1229.0,480.7 L1230.0,480.4 L1231.0,479.0 L1232.0,479.1 L1233.0,479.0 L1234.0,479.1 L1235.0,478.6" stroke="#ffff00" stroke-width="8.43" stroke-linejoin="bevel"/>
<path d="M1235.0,478.6 L1236.0,479.0 L1237.0,477.5 L1238.0,477.5 L1239.0,477.4 L1240.0,476.8 L1241.0,476.8 L1242.0,475.9 L1243.0,476.6 L1244.0,475.4 L1245.0,475.8 L1246.0,474.8 L1247.0,475.3 L1248.0,473.5 L1249.0,474.1 L1250.0,473.3 L1251.0,473.3 L1252.0,473.5 L1253.0,471.9 L1254.0,471.5 L1255.0,471.3 L1256.0,471.6 L1257.0,470.2 L1258.0,470.9 L1259.0,469.8 L1260.0,469.6 L1261.1,469.7 L1262.1,469.7 L1263.1,468.9 L1264.1,468.6 L1265.1,468.5 L1266.1,468.1 L1267.1,466.5 L1268.1,467.3 L1269.1,467.3 L1270.1,467.5 L1271.1,467.6 L1272.1,466.6 L1273.1,465.9 L1274.1,465.1 L1275.1,465.3 L1276.1,465.3 L1277.1,465.3 L1278.1,463.8 L1279.1,464.1 L1280.1,464.1 L1281.1,464.3 L1282.1,463.1 L1283.1,462.4 L1284.1,462.0 L1285.1,461.8 L1286.1,461.4 L1287.1,461.8 L1288.1,461.6 L1289.1,461.1 L1290.1,461.1 L1291.1,459.9 L1292.1,460.0 L1293.1,459.3 L1294.1,459.2 L1295.1,459.5 L1296.1,458.5 L1297.1,457.2 L1298.1,457.8 L1299.1,457.2 L1300.1,456.5 L1301.1,456.5 L1302.1,457.2 L1303.1,457.3 L1304.1,455.8 L1305.1,456.3 L1306.1,456.0 L1307.1,454.4 L1308.1,454.8 L1309.1,454.4 L1310.1,454.2 L1311.1,453.0 L1312.1,453.3 L1313.2,453.8 L1314.2,453.6 L1315.2,453.6 L1316.2,452.1 L1317.2,453.0 L1318.2,452.1 L1319.2,450.6 L1320.2,451.5 L1321.2,450.6 L1322.2,450.8 L1323.2,450.1 L1324.2,450.5 L1325.2,449.7" stroke="#ffff00" stroke-width="8.31" stroke-linejoin="bevel"/>
<path d="M1325.2,449.7 L1326.2,449.1 L1327.2,449.5 L1328.2,448.8 L1329.2,448.1 L1330.2,448.8 L1331.2,447.5 L1332.2,447.1 L1333.2,446.8 L1334.2,446.0 L1335.2,446.2 L1336.2,447.3 L1337.2,445.4 L1338.2,445.6 L1339.2,444.7 L1340.2,444.7 L1341.2,445.6 L1342.2,445.0 L1343.2,443.8 L1344.2,443.9 L1345.2,443.1 L1346.2,442.8 L1347.2,442.4 L1348.2,442.1 L1349.2,442.6 L1350.2,442.4 L1351.2,442.1 L1352.2,441.4 L1353.2,440.4 L1354.2,440.9 L1355.2,440.1 L1356.2,440.8 L1357.2,440.4 L1358.2,440.2 L1359.2,439.2 L1360.2,438.1 L1361.2,439.4 L1362.2,439.3 L1363.2,437.4 L1364.3,438.1 L1365.3,438.4 L1366.3,436.8 L1367.3,438.2 L1368.3,436.6 L1369.3,435.9 L1370.3,437.1 L1371.3,436.2 L1372.3,435.3 L1373.3,435.9 L1374.3,434.0 L1375.3,435.9 L1376.3,434.1 L1377.3,434.4 L1378.3,433.8 L1379.3,434.0 L1380.3,434.0 L1381.3,432.6 L1382.3,433.3 L1383.3,432.4 L1384.3,431.9 L1385.3,431.9 L1386.3,431.1 L1387.3,431.0 L1388.3,431.7 L1389.3,430.8 L1390.3,431.3 L1391.3,430.6 L1392.3,429.4 L1393.3,428.6 L1394.3,429.1 L1395.3,429.4 L1396.3,429.0 L1397.3,428.2 L1398.3,429.0 L1399.3,427.0 L1400.3,427.1 L1401.3,427.6 L1402.3,428.6 L1403.3,427.3 L1404.3,426.1 L1405.3,426.8 L1406.3,426.6 L1407.3,426.5 L1408.3,425.4 L1409.3,424.9 L1410.3,425.2 L1411.3,425.1 L1412.3,425.6 L1413.3,425.6 L1414.3,423.6 L1415.3,423.4" stroke="#ffff00" stroke-width="8.20" stroke-linejoin="bevel"/>
<path d="M1415.3,423.4 L1416.4,423.4 L1417.4,423.0 L1418.4,423.2 L1419.4,423.0 L1420.4,422.6 L1421.4,423.0 L1422.4,421.8 L1423.4,420.9 L1424.4,420.3 L1425.4,420.4 L1426.4,420.1 L1427.4,419.3 L1428.4,420.7 L1429.4,420.1 L1430.4,419.5 L1431.4,418.9 L1432.4,418.2 L1433.4,418.3 L1434.4,419.8 L1435.4,417.0 L1436.4,418.2 L1437.4,418.4 L1438.4,417.7 L1439.4,417.1 L1440.4,417.6 L1441.4,416.1 L1442.4,416.9 L1443.4,417.2 L1444.4,415.4 L1445.4,415.2 L1446.4,415.6 L1447.4,415.9 L1448.4,415.9 L1449.4,415.2 L1450.4,414.0 L1451.4,413.5 L1452.4,414.1 L1453.4,414.0 L1454.4,412.7 L1455.4,413.2 L1456.4,413.2 L1457.4,413.4 L1458.4,411.8 L1459.4,412.5 L1460.4,411.1 L1461.4,411.4 L1462.4,411.3 L1463.4,412.1 L1464.4,413.1 L1465.4,410.8 L1466.4,410.7 L1467.5,410.8 L1468.5,409.0 L1469.5,410.1 L1470.5,408.5 L1471.5,410.2 L1472.5,409.8 L1473.5,408.9 L1474.5,407.8 L1475.5,409.2 L1476.5,408.0 L1477.5,407.7 L1478.5,407.7 L1479.5,406.0 L1480.5,407.1 L1481.5,407.3 L1482.5,406.6 L1483.5,406.2 L1484.5,405.2 L1485.5,406.1 L1486.5,405.5 L1487.5,405.1 L1488.5,404.5 L1489.5,405.2 L1490.5,405.2 L1491.5,404.4 L1492.5,404.5 L1493.5,404.5 L1494.5,404.5 L1495.5,403.3 L1496.5,402.8 L1497.5,402.4 L1498.5,402.4 L1499.5,402.6 L1500.5,402.6 L1501.5,401.4 L1502.5,401.6 L1503.5,400.5 L1504.5,401.8 L1505.5,400.5" stroke="#ffff00" stroke-width="8.08" stroke-linejoin="bevel"/>
<path d="M1505.5,400.5 L1506.5,400.7 L1507.5,399.7 L1508.5,399.8 L1509.5,399.3 L1510.5,400.7 L1511.5,399.5 L1512.5,398.9 L1513.5,398.1 L1514.5,398.1 L1515.5,398.7 L1516.5,399.2 L1517.5,396.8 L1518.6,397.0 L1519.6,397.2 L1520.6,396.7 L1521.6,395.7 L1522.6,396.7 L1523.6,396.9 L1524.6,395.1 L1525.6,396.1 L1526.6,396.4 L1527.6,396.2 L1528.6,394.9 L1529.6,396.6 L1530.6,395.2 L1531.6,394.0 L1532.6,395.0 L1533.6,393.3 L1534.6,394.5 L1535.6,392.7 L1536.6,393.9 L1537.6,392.7 L1538.6,393.7 L1539.6,393.2 L1540.6,392.7 L1541.6,392.2 L1542.6,392.7 L1543.6,390.5 L1544.6,391.8 L1545.6,391.6 L1546.6,391.4 L1547.6,391.4 L1548.6,393.2 L1549.6,390.4 L1550.6,390.7 L1551.6,390.0 L1552.6,390.8 L1553.6,388.0 L1554.6,390.4 L1555.6,388.5 L1556.6,387.2 L1557.6,387.8 L1558.6,388.2 L1559.6,388.2 L1560.6,387.8 L1561.6,388.2 L1562.6,387.4 L1563.6,387.1 L1564.6,385.5 L1565.6,387.1 L1566.6,387.2 L1567.6,386.0 L1568.6,384.7 L1569.6,384.9 L1570.7,386.8 L1571.7,385.0 L1572.7,384.7 L1573.7,384.4 L1574.7,385.2 L1575.7,384.1 L1576.7,383.7 L1577.7,383.0 L1578.7,383.7 L1579.7,384.3 L1580.7,383.3 L1581.7,383.8 L1582.7,383.1 L1583.7,382.8 L1584.7,382.6 L1585.7,382.3 L1586.7,382.8 L1587.7,382.2 L1588.7,381.2 L1589.7,381.5 L1590.7,381.1 L1591.7,381.3 L1592.7,380.9 L1593.7,380.8 L1594.7,379.3 L1595.7,380.4" stroke="#ffff00" stroke-width="8.00" stroke-linejoin="bevel"/>
<path d="M1595.7,380.4 L1596.7,380.8 L1597.7,378.7 L1598.7,380.6 L1599.7,379.4 L1600.7,378.9 L1601.7,377.5 L1602.7,379.3 L1603.7,377.7 L1604.7,377.8 L1605.7,378.3 L1606.7,377.0 L1607.7,376.8 L1608.7,376.5 L1609.7,377.0 L1610.7,377.3 L1611.7,376.9 L1612.7,376.7 L1613.7,376.0 L1614.7,376.1 L1615.7,375.3 L1616.7,377.0 L1617.7,375.5 L1618.7,373.8 L1619.7,374.2 L1620.7,375.9 L1621.8,373.6 L1622.8,374.0 L1623.8,374.4 L1624.8,373.1 L1625.8,374.4 L1626.8,374.7 L1627.8,372.7 L1628.8,373.9 L1629.8,372.2 L1630.8,372.0 L1631.8,372.6 L1632.8,372.4 L1633.8,371.6 L1634.8,372.4 L1635.8,370.6 L1636.8,370.8 L1637.8,370.4 L1638.8,371.5 L1639.8,371.3 L1640.8,371.0 L1641.8,369.5 L1642.8,370.3 L1643.8,370.3 L1644.8,368.6 L1645.8,369.0 L1646.8,369.8 L1647.8,369.6 L1648.8,369.1 L1649.8,369.1 L1650.8,368.8 L1651.8,368.4 L1652.8,368.0 L1653.8,367.3 L1654.8,367.5 L1655.8,367.2 L1656.8,368.9 L1657.8,367.3 L1658.8,366.9 L1659.8,366.5 L1660.8,366.4 L1661.8,366.1 L1662.8,366.5 L1663.8,365.9 L1664.8,366.3 L1665.8,365.0 L1666.8,365.5 L1667.8,365.7 L1668.8,364.1 L1669.8,364.8 L1670.8,364.7 L1671.8,364.1 L1672.8,363.8 L1673.9,362.6 L1674.9,364.5 L1675.9,362.9 L1676.9,362.4 L1677.9,363.6 L1678.9,361.6 L1679.9,363.4 L1680.9,362.8 L1681.9,362.7 L1682.9,362.0 L1683.9,361.1 L1684.9,360.4 L1685.9,362.6" stroke="#ffff00" stroke-width="8.00" stroke-linejoin="bevel"/>
<path d="M1685.9,362.6 L1686.9,361.0 L1687.9,360.8 L1688.9,362.1 L1689.9,360.3 L1690.9,360.4 L1691.9,360.2 L1692.9,360.1 L1693.9,359.2 L1694.9,359.4 L1695.9,360.5 L1696.9,359.9 L1697.9,357.1 L1698.9,357.6 L1699.9,359.0 L1700.9,358.5 L1701.9,358.2 L1702.9,359.0 L1703.9,356.8 L1704.9,358.7 L1705.9,357.8 L1706.9,357.9 L1707.9,357.5 L1708.9,357.7 L1709.9,356.7 L1710.9,356.3 L1711.9,357.1 L1712.9,356.5 L1713.9,355.3 L1714.9,356.9 L1715.9,356.6 L1716.9,356.6 L1717.9,355.4 L1718.9,355.4 L1719.9,354.7 L1720.9,354.1 L1721.9,354.7 L1722.9,354.6 L1723.9,353.8 L1725.0,355.3 L1726.0,352.7 L1727.0,353.1 L1728.0,353.0 L1729.0,354.2 L1730.0,352.9 L1731.0,352.7 L1732.0,352.1 L1733.0,352.0 L1734.0,351.5 L1735.0,352.9 L1736.0,352.4 L1737.0,352.5 L1738.0,351.2 L1739.0,353.2 L1740.0,350.6 L1741.0,349.6 L1742.0,350.7 L1743.0,350.8 L1744.0,351.1 L1745.0,349.6 L1746.0,350.6 L1747.0,351.2 L1748.0,349.2 L1749.0,349.1 L1750.0,348.2 L1751.0,349.4 L1752.0,349.7 L1753.0,349.4 L1754.0,349.3 L1755.0,349.5 L1756.0,348.4 L1757.0,348.8 L1758.0,347.3 L1759.0,347.2 L1760.0,347.8 L1761.0,346.9 L1762.0,347.7 L1763.0,348.0 L1764.0,347.2 L1765.0,346.2 L1766.0,346.0 L1767.0,347.3 L1768.0,345.6 L1769.0,346.1 L1770.0,345.6 L1771.0,345.7 L1772.0,346.2 L1773.0,344.9 L1774.0,344.1 L1775.0,346.0 L1776.0,344.9" stroke="#ffff00" stroke-width="8.00" stroke-linejoin="bevel"/>
<path d="M1776.0,344.9 L1777.1,345.1 L1778.1,344.4 L1779.1,344.8 L1780.1,344.9 L1781.1,344.8 L1782.1,343.5 L1783.1,343.3 L1784.1,343.6 L1785.1,343.3 L1786.1,343.4 L1787.1,342.3 L1788.1,341.0 L1789.1,342.8 L1790.1,342.8 L1791.1,342.6 L1792.1,343.1 L1793.1,342.4 L1794.1,341.3 L1795.1,342.1 L1796.1,341.2 L1797.1,341.9 L1798.1,341.1 L1799.1,341.0 L1800.1,340.7 L1801.1,340.4 L1802.1,339.2 L1803.1,340.1 L1804.1,338.3 L1805.1,340.0 L1806.1,340.2 L1807.1,340.8 L1808.1,339.4 L1809.1,338.5 L1810.1,337.7 L1811.1,340.0 L1812.1,337.5 L1813.1,338.9 L1814.1,336.5 L1815.1,337.9 L1816.1,338.3 L1817.1,337.9 L1818.1,337.4 L1819.1,336.7 L1820.1,336.5 L1821.1,337.7 L1822.1,337.1 L1823.1,336.5 L1824.1,336.6 L1825.1,335.6 L1826.1,336.8 L1827.1,336.8 L1828.2,335.2 L1829.2,335.7 L1830.2,336.2 L1831.2,334.8 L1832.2,336.5 L1833.2,336.0 L1834.2,334.6 L1835.2,335.3 L1836.2,335.6 L1837.2,333.4 L1838.2,334.5 L1839.2,333.8 L1840.2,333.6 L1841.2,334.1 L1842.2,333.1 L1843.2,332.3 L1844.2,332.1 L1845.2,332.9 L1846.2,333.2 L1847.2,332.6 L1848.2,332.3 L1849.2,332.3 L1850.2,333.0 L1851.2,332.3 L1852.2,331.3 L1853.2,331.4 L1854.2,332.3 L1855.2,330.9 L1856.2,330.9 L1857.2,331.0 L1858.2,330.1 L1859.2,331.3 L1860.2,329.0 L1861.2,331.3 L1862.2,329.9 L1863.2,329.1 L1864.2,330.0 L1865.2,328.5 L1866.2,329.9" stroke="#ffff00" stroke-width="8.00" stroke-linejoin="bevel"/>
<path d="M1866.2,329.9 L1867.2,329.9 L1868.2,328.8 L1869.2,328.8 L1870.2,329.5 L1871.2,328.2 L1872.2,328.6 L1873.2,328.6 L1874.2,329.3 L1875.2,327.7 L1876.2,327.9 L1877.2,328.5 L1878.2,325.8 L1879.3,327.2 L1880.3,325.9 L1881.3,325.8 L1882.3,328.3 L1883.3,326.9 L1884.3,327.7 L1885.3,326.3 L1886.3,326.7 L1887.3,325.9 L1888.3,325.6 L1889.3,325.8 L1890.3,325.8 L1891.3,326.6 L1892.3,325.2 L1893.3,325.5 L1894.3,324.9 L1895.3,325.0 L1896.3,323.8 L1897.3,325.3 L1898.3,324.1 L1899.3,324.3 L1900.3,324.0 L1901.3,324.6 L1902.3,324.2 L1903.3,323.7 L1904.3,323.6 L1905.3,323.6 L1906.3,323.7 L1907.3,323.4 L1908.3,323.8 L1909.3,323.8 L1910.3,323.0 L1911.3,321.5 L1912.3,323.5 L1913.3,323.6 L1914.3,321.7 L1915.3,321.5 L1916.3,320.2 L1917.3,322.0 L1918.3,320.6 L1919.3,322.5 L1920.3,319.3 L1921.3,320.9 L1922.3,321.2 L1923.3,320.3 L1924.3,319.8 L1925.3,320.4 L1926.3,319.7 L1927.3,319.7 L1928.3,319.8 L1929.3,319.3 L1930.3,319.3 L1931.4,319.9 L1932.4,318.9 L1933.4,319.2 L1934.4,318.4 L1935.4,319.4 L1936.4,317.7 L1937.4,319.1 L1938.4,316.2 L1939.4,317.5 L1940.4,316.9 L1941.4,318.5 L1942.4,317.9 L1943.4,316.6 L1944.4,317.0 L1945.4,318.2 L1946.4,317.0 L1947.4,317.3 L1948.4,315.7 L1949.4,315.6 L1950.4,316.9 L1951.4,317.9 L1952.4,315.8 L1953.4,316.4 L1954.4,315.2 L1955.4,316.6 L1956.4,315.3" stroke="#ffff00" stroke-width="8.00" stroke-linejoin="bevel"/>
<path d="M1956.4,315.3 L1957.4,315.1 L1958.4,314.0 L1959.4,314.8 L1960.4,315.1 L1961.4,315.8 L1962.4,313.9 L1963.4,315.2 L1964.4,314.2 L1965.4,314.0 L1966.4,313.4 L1967.4,312.8 L1968.4,313.0 L1969.4,314.8 L1970.4,312.7 L1971.9,313.0" stroke="#ffff00" stroke-width="8.00" stroke-linejoin="bevel"/>
<rect x="868.8" y="616.5" width="11.0" height="25.4" fill="#ffff00" stroke="none"/>
<path d="M167.0,1531.6 L167.0,1531.2 L167.1,1530.2 L167.2,1528.4 L167.3,1526.1 L167.5,1523.2 L167.7,1519.8 L167.9,1516.1 L168.2,1512.2 L168.5,1508.0 L168.9,1503.7 L169.3,1499.4 L169.7,1495.1 L170.2,1490.8 L170.7,1486.6 L171.2,1482.4 L171.8,1478.2 L172.4,1474.2 L173.1,1470.1 L173.8,1466.0 L174.5,1461.9 L175.3,1457.8 L176.1,1453.7 L176.9,1449.5 L177.8,1445.3 L178.7,1441.0 L179.7,1436.6 L180.7,1432.2 L181.7,1427.7 L182.8,1423.1 L183.9,1418.5 L185.0,1413.9 L186.2,1409.1 L187.4,1404.4 L188.7,1399.6 L190.0,1394.7 L191.3,1389.9 L192.7,1385.0 L194.1,1380.1 L195.6,1375.2 L197.0,1370.2 L198.6,1365.3 L200.1,1360.3 L201.7,1355.3 L203.4,1350.3 L205.0,1345.4 L206.7,1340.4 L208.5,1335.4 L210.3,1330.4 L212.1,1325.5 L214.3,1319.4 L216.6,1313.6 L218.9,1307.9 L221.1,1302.3 L223.4,1296.8 L225.6,1291.5 L227.9,1286.2 L230.1,1281.1 L232.4,1276.0 L234.6,1271.1 L236.9,1266.2 L239.1,1261.4 L241.4,1256.7 L243.6,1252.0 L245.9,1247.4 L248.2,1242.9 L250.4,1238.5 L252.7,1234.1 L254.9,1229.7 L257.2,1225.4 L259.4,1221.2 L261.7,1217.0 L263.9,1212.8 L266.2,1208.7 L268.4,1204.6 L270.7,1200.6 L273.0,1196.6 L275.2,1192.6 L277.5,1188.7 L279.7,1184.8 L282.0,1181.0 L284.2,1177.1 L286.5,1173.3 L288.7,1169.5 L291.0,1165.8 L293.2,1162.1 L295.5,1158.4 L297.8,1154.7 L300.0,1151.0 L302.3,1147.4 L304.5,1143.8 L306.8,1140.2 L309.0,1136.7 L311.3,1133.1 L313.5,1129.6 L315.8,1126.1 L318.0,1122.6 L320.3,1119.1 L322.6,1115.7 L324.8,1112.3 L327.1,1108.9 L329.3,1105.5 L331.6,1102.1 L333.8,1098.7 L336.1,1095.4 L338.3,1092.1 L340.6,1088.8 L342.8,1085.5 L345.1,1082.2 L347.4,1078.9 L349.6,1075.7 L351.9,1072.4 L354.1,1069.2 L356.4,1066.0 L358.6,1062.8 L360.9,1059.6 L363.1,1056.5 L365.4,1053.3 L367.6,1050.2 L369.9,1047.1 L372.1,1044.0 L374.4,1040.9 L376.7,1037.8 L378.9,1034.7 L381.2,1031.7 L383.4,1028.6 L385.7,1025.6 L387.9,1022.6 L390.2,1019.6 L392.4,1016.6 L394.7,1013.6 L396.9,1010.7 L399.2,1007.7 L401.5,1004.8 L403.7,1001.8 L406.0,998.9 L408.2,996.0 L410.5,993.1 L412.7,990.2 L415.0,987.4 L417.2,984.5 L419.5,981.7 L421.7,978.8 L424.0,976.0 L426.3,973.2 L428.5,970.4 L430.8,967.6 L433.0,964.8 L435.3,962.1 L437.5,959.3 L439.8,956.6 L442.0,953.9 L444.3,951.1 L446.5,948.4 L448.8,945.7 L451.1,943.0 L453.3,940.4 L455.6,937.7 L457.8,935.0 L460.1,932.4 L462.3,929.8 L464.6,927.1 L466.8,924.5 L469.1,921.9 L471.3,919.3 L473.6,916.7 L475.8,914.2 L478.1,911.6 L480.4,909.1 L482.6,906.5 L484.9,904.0 L487.1,901.5 L489.4,899.0 L491.6,896.5 L493.9,894.0 L496.1,891.5 L498.4,889.0 L500.6,886.6 L502.9,884.1 L505.2,881.7 L507.4,879.2 L509.7,876.8 L511.9,874.4 L514.2,872.0 L516.4,869.6 L518.7,867.2 L520.9,864.8 L523.2,862.5 L525.4,860.1 L527.7,857.8 L530.0,855.4 L532.2,853.1 L534.5,850.8 L536.7,848.5 L539.0,846.2 L541.2,843.9 L543.5,841.6 L545.7,839.3 L548.0,837.1 L550.2,834.8 L552.5,832.6 L554.8,830.3 L557.0,828.1 L559.3,825.9 L561.5,823.7 L563.8,821.5 L566.0,819.3 L568.3,817.1 L570.5,814.9 L572.8,812.7 L575.0,810.6 L577.3,808.4 L579.6,806.3 L581.8,804.1 L584.1,802.0 L586.3,799.9 L588.6,797.8 L590.8,795.7 L593.1,793.6 L595.3,791.5 L597.6,789.4 L599.8,787.3 L602.1,785.3 L604.3,783.2 L606.6,781.2 L608.9,779.1 L611.1,777.1 L613.4,775.1 L615.6,773.1 L617.9,771.1 L620.1,769.1 L622.4,767.1 L624.6,765.1 L626.9,763.1 L629.1,761.1 L631.4,759.2 L633.7,757.2 L635.9,755.3 L638.2,753.3 L640.4,751.4 L642.7,749.5 L644.9,747.6 L647.2,745.7 L649.4,743.8 L651.7,741.9 L653.9,740.0 L656.2,738.1 L658.5,736.2 L660.7,734.4 L663.0,732.5 L665.2,730.7 L667.5,728.8 L669.7,727.0 L672.0,725.1 L674.2,723.3 L676.5,721.5 L678.7,719.7 L681.0,717.9 L683.3,716.1 L685.5,714.3 L687.8,712.5 L690.0,710.8 L692.3,709.0 L694.5,707.2 L696.8,705.5 L699.0,703.7 L701.3,702.0 L703.5,700.2 L705.8,698.5 L708.1,696.8 L710.3,695.1 L712.6,693.4 L714.8,691.7 L717.1,690.0 L719.3,688.3 L721.6,686.6 L723.8,684.9 L726.1,683.2 L728.3,681.6 L730.6,679.9 L732.8,678.3 L735.1,676.6 L737.4,675.0 L739.6,673.3 L741.9,671.7 L744.1,670.1 L746.4,668.5 L748.6,666.9 L750.9,665.3 L753.1,663.7 L755.4,662.1 L755.7,661.9" stroke="#00ffff" stroke-width="9.3"/>
<path d="M755.7,660.7 L756.7,660.0 L757.7,659.1 L758.7,658.7 L759.7,657.8 L760.7,656.9 L761.7,656.3 L762.7,655.8 L763.7,655.1 L764.7,654.2 L765.7,653.8 L766.7,652.9 L767.7,652.3 L768.7,651.6 L769.7,650.7 L770.7,650.3 L771.7,649.4 L772.7,649.1 L773.7,648.3 L774.7,647.5 L775.7,646.6 L776.7,646.1 L777.7,645.4 L778.7,644.5 L779.7,644.4 L780.7,643.4 L781.8,643.0 L782.8,641.8 L783.8,641.6 L784.8,640.4 L785.8,639.9 L786.8,639.4 L787.8,638.7 L788.8,637.6 L789.8,637.1 L790.8,636.8 L791.8,636.4 L792.8,635.5 L793.8,634.6 L794.8,634.1 L795.8,633.1 L796.8,632.8 L797.8,631.8 L798.8,631.4 L799.8,630.7 L800.8,630.2 L801.8,629.3 L802.8,629.0 L803.8,628.0 L804.8,627.6 L805.8,626.9 L806.8,625.8 L807.8,625.5 L808.8,624.8 L809.8,624.0 L810.8,623.6 L811.8,622.6 L812.8,622.4 L813.8,621.7 L814.8,621.0 L815.8,620.8 L816.8,619.8 L817.8,619.1 L818.8,618.3 L819.8,617.8 L820.8,616.9 L821.8,616.8 L822.8,615.7 L823.8,615.3 L824.8,615.0 L825.8,614.2 L826.8,613.4 L827.8,613.0 L828.8,612.1 L829.8,611.7 L830.8,610.9 L831.8,610.0 L832.8,609.7 L833.9,609.2 L834.9,608.3 L835.9,607.5 L836.9,607.0 L837.9,606.0 L838.9,605.8 L839.9,605.0 L840.9,605.1 L841.9,603.9 L842.9,603.1 L843.9,603.0 L844.9,602.2 L845.9,601.6" stroke="#00ffff" stroke-width="8.94" stroke-linejoin="bevel"/>
<path d="M845.9,601.6 L846.9,601.0 L847.9,600.4 L848.9,599.7 L849.9,599.4 L850.9,598.7 L851.9,597.9 L852.9,597.3 L853.9,596.5 L854.9,596.2 L855.9,595.7 L856.9,595.1 L857.9,594.5 L858.9,593.7 L859.9,593.5 L860.9,592.5 L861.9,592.0 L862.9,591.3 L863.9,590.8 L864.9,590.2 L865.9,590.1 L866.9,589.1 L867.9,588.0 L868.9,587.7 L869.9,586.9 L870.9,586.9 L871.9,586.4 L872.9,585.4 L873.9,585.1 L874.9,584.3 L875.9,583.9 L876.9,583.6 L877.9,582.5 L878.9,581.7 L879.9,581.6 L880.9,581.0 L881.9,580.5 L882.9,580.0 L883.9,579.0 L885.0,578.1 L886.0,578.3 L887.0,577.3 L888.0,576.6 L889.0,576.0 L890.0,576.0 L891.0,575.2 L892.0,574.7 L893.0,574.3 L894.0,573.3 L895.0,572.6 L896.0,572.1 L897.0,571.5 L898.0,571.1 L899.0,570.4 L900.0,570.1 L901.0,569.4 L902.0,569.0 L903.0,568.6 L904.0,568.2 L905.0,567.7 L906.0,566.8 L907.0,566.3 L908.0,565.5 L909.0,565.4 L910.0,565.0 L911.0,563.8 L912.0,563.7 L913.0,562.8 L914.0,562.3 L915.0,561.9 L916.0,561.2 L917.0,561.0 L918.0,559.8 L919.0,559.4 L920.0,559.1 L921.0,558.3 L922.0,558.1 L923.0,557.1 L924.0,557.0 L925.0,556.0 L926.0,555.8 L927.0,555.5 L928.0,555.4 L929.0,554.6 L930.0,554.2 L931.0,553.2 L932.0,553.3 L933.0,552.1 L934.0,551.5 L935.0,550.7 L936.0,550.6" stroke="#00ffff" stroke-width="8.82" stroke-linejoin="bevel"/>
<path d="M936.0,550.6 L937.1,550.3 L938.1,549.3 L939.1,548.9 L940.1,548.3 L941.1,547.8 L942.1,547.2 L943.1,546.5 L944.1,546.8 L945.1,545.2 L946.1,545.0 L947.1,544.9 L948.1,544.6 L949.1,543.7 L950.1,543.2 L951.1,542.7 L952.1,542.1 L953.1,542.0 L954.1,541.0 L955.1,540.4 L956.1,540.0 L957.1,539.7 L958.1,539.5 L959.1,539.1 L960.1,538.0 L961.1,537.2 L962.1,536.7 L963.1,537.2 L964.1,536.0 L965.1,535.7 L966.1,535.7 L967.1,534.4 L968.1,534.0 L969.1,533.4 L970.1,532.7 L971.1,532.8 L972.1,532.4 L973.1,531.0 L974.1,531.4 L975.1,530.5 L976.1,530.1 L977.1,529.6 L978.1,528.7 L979.1,528.5 L980.1,527.8 L981.1,528.2 L982.1,527.8 L983.1,526.7 L984.1,525.8 L985.1,526.0 L986.1,525.1 L987.1,525.2 L988.2,524.8 L989.2,524.2 L990.2,523.1 L991.2,522.4 L992.2,522.0 L993.2,521.7 L994.2,521.0 L995.2,521.2 L996.2,520.5 L997.2,519.8 L998.2,519.2 L999.2,519.1 L1000.2,518.9 L1001.2,517.3 L1002.2,517.5 L1003.2,516.9 L1004.2,516.2 L1005.2,515.9 L1006.2,515.6 L1007.2,515.7 L1008.2,514.6 L1009.2,514.0 L1010.2,513.2 L1011.2,513.4 L1012.2,512.5 L1013.2,512.2 L1014.2,512.0 L1015.2,511.3 L1016.2,510.7 L1017.2,510.3 L1018.2,510.2 L1019.2,509.4 L1020.2,509.1 L1021.2,508.7 L1022.2,507.9 L1023.2,507.7 L1024.2,507.0 L1025.2,507.1 L1026.2,506.4" stroke="#00ffff" stroke-width="8.71" stroke-linejoin="bevel"/>
<path d="M1026.2,506.4 L1027.2,505.1 L1028.2,505.2 L1029.2,505.2 L1030.2,504.3 L1031.2,503.8 L1032.2,503.8 L1033.2,502.6 L1034.2,502.6 L1035.2,502.3 L1036.2,502.0 L1037.2,500.8 L1038.2,500.3 L1039.3,500.8 L1040.3,499.6 L1041.3,499.4 L1042.3,499.8 L1043.3,498.3 L1044.3,497.2 L1045.3,498.6 L1046.3,497.5 L1047.3,496.8 L1048.3,497.3 L1049.3,495.8 L1050.3,495.9 L1051.3,494.9 L1052.3,494.4 L1053.3,494.3 L1054.3,493.9 L1055.3,493.7 L1056.3,493.2 L1057.3,492.1 L1058.3,491.8 L1059.3,492.1 L1060.3,491.2 L1061.3,490.6 L1062.3,490.6 L1063.3,490.2 L1064.3,489.7 L1065.3,488.6 L1066.3,488.2 L1067.3,488.2 L1068.3,488.0 L1069.3,486.6 L1070.3,486.5 L1071.3,486.1 L1072.3,486.2 L1073.3,484.9 L1074.3,486.0 L1075.3,484.5 L1076.3,484.3 L1077.3,484.5 L1078.3,483.5 L1079.3,483.1 L1080.3,482.3 L1081.3,482.1 L1082.3,481.1 L1083.3,481.1 L1084.3,480.7 L1085.3,479.9 L1086.3,480.3 L1087.3,479.6 L1088.3,478.3 L1089.3,478.9 L1090.3,477.8 L1091.4,478.0 L1092.4,477.0 L1093.4,476.8 L1094.4,476.7 L1095.4,476.9 L1096.4,475.1 L1097.4,475.1 L1098.4,474.7 L1099.4,474.9 L1100.4,473.9 L1101.4,473.8 L1102.4,473.8 L1103.4,473.1 L1104.4,472.2 L1105.4,471.8 L1106.4,471.5 L1107.4,471.2 L1108.4,470.4 L1109.4,470.3 L1110.4,470.2 L1111.4,469.4 L1112.4,469.0 L1113.4,468.9 L1114.4,468.7 L1115.4,467.4 L1116.4,467.1" stroke="#00ffff" stroke-width="8.59" stroke-linejoin="bevel"/>
<path d="M1116.4,467.1 L1117.4,467.7 L1118.4,466.7 L1119.4,465.9 L1120.4,466.0 L1121.4,466.2 L1122.4,464.9 L1123.4,464.3 L1124.4,464.2 L1125.4,464.6 L1126.4,463.3 L1127.4,463.4 L1128.4,463.2 L1129.4,462.6 L1130.4,461.8 L1131.4,461.9 L1132.4,461.3 L1133.4,461.1 L1134.4,460.6 L1135.4,460.1 L1136.4,458.9 L1137.4,459.5 L1138.4,458.8 L1139.4,457.6 L1140.4,458.0 L1141.4,457.8 L1142.5,457.2 L1143.5,455.8 L1144.5,456.2 L1145.5,455.7 L1146.5,455.6 L1147.5,454.4 L1148.5,455.1 L1149.5,454.8 L1150.5,454.5 L1151.5,453.8 L1152.5,453.4 L1153.5,453.5 L1154.5,452.9 L1155.5,452.1 L1156.5,452.1 L1157.5,451.9 L1158.5,451.7 L1159.5,451.0 L1160.5,450.1 L1161.5,449.8 L1162.5,449.8 L1163.5,449.4 L1164.5,449.4 L1165.5,447.7 L1166.5,447.9 L1167.5,447.3 L1168.5,447.9 L1169.5,447.4 L1170.5,446.8 L1171.5,446.7 L1172.5,445.7 L1173.5,445.8 L1174.5,445.2 L1175.5,444.9 L1176.5,444.4 L1177.5,444.5 L1178.5,444.2 L1179.5,442.7 L1180.5,442.8 L1181.5,442.7 L1182.5,442.5 L1183.5,441.2 L1184.5,441.1 L1185.5,441.0 L1186.5,441.6 L1187.5,440.0 L1188.5,439.9 L1189.5,439.7 L1190.5,439.3 L1191.5,439.1 L1192.5,438.6 L1193.5,438.2 L1194.6,438.1 L1195.6,437.7 L1196.6,437.4 L1197.6,437.0 L1198.6,435.9 L1199.6,436.2 L1200.6,435.9 L1201.6,435.8 L1202.6,435.4 L1203.6,435.4 L1204.6,434.0 L1205.6,433.9 L1206.6,433.8" stroke="#00ffff" stroke-width="8.47" stroke-linejoin="bevel"/>
<path d="M1206.6,433.8 L1207.6,433.0 L1208.6,432.8 L1209.6,432.4 L1210.6,432.0 L1211.6,433.0 L1212.6,431.5 L1213.6,431.9 L1214.6,430.4 L1215.6,430.6 L1216.6,429.8 L1217.6,430.0 L1218.6,430.3 L1219.6,430.1 L1220.6,429.2 L1221.6,428.6 L1222.6,428.1 L1223.6,427.9 L1224.6,428.1 L1225.6,426.3 L1226.6,426.6 L1227.6,425.9 L1228.6,426.5 L1229.6,425.1 L1230.6,425.8 L1231.6,424.4 L1232.6,424.1 L1233.6,425.1 L1234.6,424.5 L1235.6,423.2 L1236.6,422.4 L1237.6,422.5 L1238.6,422.9 L1239.6,422.3 L1240.6,421.5 L1241.6,421.9 L1242.6,422.0 L1243.6,420.4 L1244.6,420.6 L1245.7,419.9 L1246.7,420.5 L1247.7,419.7 L1248.7,418.9 L1249.7,418.1 L1250.7,419.0 L1251.7,418.1 L1252.7,418.0 L1253.7,417.5 L1254.7,417.5 L1255.7,416.1 L1256.7,416.2 L1257.7,416.5 L1258.7,416.9 L1259.7,415.8 L1260.7,415.3 L1261.7,414.7 L1262.7,414.3 L1263.7,414.2 L1264.7,413.6 L1265.7,413.7 L1266.7,413.4 L1267.7,414.1 L1268.7,412.7 L1269.7,413.0 L1270.7,411.8 L1271.7,412.2 L1272.7,412.7 L1273.7,410.8 L1274.7,410.2 L1275.7,411.0 L1276.7,410.2 L1277.7,409.7 L1278.7,409.7 L1279.7,409.3 L1280.7,409.5 L1281.7,408.8 L1282.7,407.9 L1283.7,407.3 L1284.7,406.7 L1285.7,406.7 L1286.7,407.6 L1287.7,405.9 L1288.7,406.4 L1289.7,406.7 L1290.7,406.0 L1291.7,406.2 L1292.7,405.5 L1293.7,405.6 L1294.7,404.1 L1295.7,403.7 L1296.7,404.9" stroke="#00ffff" stroke-width="8.35" stroke-linejoin="bevel"/>
<path d="M1296.7,404.9 L1297.8,403.7 L1298.8,403.3 L1299.8,402.6 L1300.8,403.5 L1301.8,402.5 L1302.8,402.2 L1303.8,401.3 L1304.8,401.4 L1305.8,400.8 L1306.8,400.7 L1307.8,400.6 L1308.8,399.8 L1309.8,399.4 L1310.8,399.9 L1311.8,398.7 L1312.8,399.7 L1313.8,399.4 L1314.8,397.5 L1315.8,398.9 L1316.8,397.2 L1317.8,398.1 L1318.8,396.8 L1319.8,397.2 L1320.8,395.9 L1321.8,396.5 L1322.8,395.9 L1323.8,396.5 L1324.8,395.7 L1325.8,394.5 L1326.8,394.9 L1327.8,394.0 L1328.8,394.2 L1329.8,394.6 L1330.8,394.4 L1331.8,393.3 L1332.8,392.4 L1333.8,392.6 L1334.8,393.5 L1335.8,391.9 L1336.8,390.9 L1337.8,390.6 L1338.8,390.4 L1339.8,391.4 L1340.8,390.3 L1341.8,389.8 L1342.8,390.1 L1343.8,390.2 L1344.8,389.3 L1345.8,388.6 L1346.8,388.9 L1347.8,389.0 L1348.9,387.2 L1349.9,387.1 L1350.9,388.8 L1351.9,387.6 L1352.9,387.2 L1353.9,385.9 L1354.9,385.9 L1355.9,386.0 L1356.9,386.6 L1357.9,385.6 L1358.9,384.4 L1359.9,385.9 L1360.9,385.7 L1361.9,385.0 L1362.9,383.5 L1363.9,383.5 L1364.9,383.4 L1365.9,383.4 L1366.9,384.1 L1367.9,381.9 L1368.9,382.0 L1369.9,382.2 L1370.9,381.5 L1371.9,381.3 L1372.9,380.4 L1373.9,381.1 L1374.9,380.6 L1375.9,380.6 L1376.9,380.7 L1377.9,379.8 L1378.9,379.6 L1379.9,379.5 L1380.9,378.8 L1381.9,378.9 L1382.9,377.5 L1383.9,377.7 L1384.9,378.3 L1385.9,377.8 L1386.9,377.9" stroke="#00ffff" stroke-width="8.23" stroke-linejoin="bevel"/>
<path d="M1386.9,377.9 L1387.9,376.3 L1388.9,376.5 L1389.9,376.5 L1390.9,376.2 L1391.9,375.9 L1392.9,376.6 L1393.9,375.2 L1394.9,375.0 L1395.9,375.2 L1396.9,374.9 L1397.9,374.5 L1398.9,375.1 L1400.0,374.2 L1401.0,373.4 L1402.0,372.7 L1403.0,373.8 L1404.0,372.4 L1405.0,372.7 L1406.0,371.9 L1407.0,373.2 L1408.0,372.1 L1409.0,370.3 L1410.0,371.3 L1411.0,370.0 L1412.0,370.3 L1413.0,370.8 L1414.0,369.3 L1415.0,370.0 L1416.0,369.5 L1417.0,369.7 L1418.0,368.4 L1419.0,369.1 L1420.0,368.2 L1421.0,368.8 L1422.0,368.0 L1423.0,368.1 L1424.0,368.2 L1425.0,367.8 L1426.0,366.9 L1427.0,367.1 L1428.0,366.4 L1429.0,366.4 L1430.0,366.9 L1431.0,365.0 L1432.0,364.6 L1433.0,365.3 L1434.0,364.4 L1435.0,365.3 L1436.0,364.8 L1437.0,364.4 L1438.0,363.7 L1439.0,363.2 L1440.0,362.7 L1441.0,362.6 L1442.0,362.7 L1443.0,361.8 L1444.0,362.9 L1445.0,362.3 L1446.0,360.8 L1447.0,359.7 L1448.0,361.9 L1449.0,360.1 L1450.0,358.8 L1451.0,359.3 L1452.1,360.3 L1453.1,360.8 L1454.1,360.2 L1455.1,360.4 L1456.1,360.3 L1457.1,360.1 L1458.1,358.0 L1459.1,358.3 L1460.1,357.7 L1461.1,357.9 L1462.1,357.4 L1463.1,357.6 L1464.1,358.3 L1465.1,356.4 L1466.1,357.1 L1467.1,355.8 L1468.1,355.3 L1469.1,356.6 L1470.1,355.6 L1471.1,355.4 L1472.1,356.1 L1473.1,354.0 L1474.1,354.7 L1475.1,355.4 L1476.1,353.5 L1477.1,354.1" stroke="#00ffff" stroke-width="8.11" stroke-linejoin="bevel"/>
<path d="M1477.1,354.1 L1478.1,354.3 L1479.1,354.0 L1480.1,353.6 L1481.1,353.6 L1482.1,353.0 L1483.1,353.0 L1484.1,352.5 L1485.1,351.3 L1486.1,351.8 L1487.1,351.4 L1488.1,352.0 L1489.1,351.3 L1490.1,351.1 L1491.1,350.6 L1492.1,350.7 L1493.1,349.6 L1494.1,350.0 L1495.1,349.1 L1496.1,349.1 L1497.1,348.3 L1498.1,350.3 L1499.1,349.0 L1500.1,347.7 L1501.1,347.8 L1502.1,348.1 L1503.2,347.3 L1504.2,347.9 L1505.2,347.4 L1506.2,347.7 L1507.2,344.7 L1508.2,346.9 L1509.2,346.3 L1510.2,346.6 L1511.2,345.3 L1512.2,345.0 L1513.2,344.5 L1514.2,345.3 L1515.2,344.9 L1516.2,343.4 L1517.2,343.9 L1518.2,344.0 L1519.2,343.0 L1520.2,343.3 L1521.2,343.3 L1522.2,342.7 L1523.2,341.8 L1524.2,343.5 L1525.2,342.6 L1526.2,342.4 L1527.2,341.6 L1528.2,341.8 L1529.2,341.0 L1530.2,341.2 L1531.2,341.1 L1532.2,341.2 L1533.2,340.2 L1534.2,339.8 L1535.2,341.0 L1536.2,338.9 L1537.2,339.8 L1538.2,339.4 L1539.2,339.7 L1540.2,338.7 L1541.2,338.0 L1542.2,338.6 L1543.2,337.3 L1544.2,337.3 L1545.2,337.8 L1546.2,337.7 L1547.2,336.4 L1548.2,338.0 L1549.2,336.9 L1550.2,337.6 L1551.2,337.2 L1552.2,336.3 L1553.2,335.7 L1554.2,334.8 L1555.3,336.3 L1556.3,336.4 L1557.3,335.2 L1558.3,334.9 L1559.3,334.1 L1560.3,333.8 L1561.3,334.2 L1562.3,334.9 L1563.3,333.6 L1564.3,334.2 L1565.3,333.6 L1566.3,333.1 L1567.3,332.3" stroke="#00ffff" stroke-width="8.01" stroke-linejoin="bevel"/>
<path d="M1567.3,332.3 L1568.3,332.4 L1569.3,331.6 L1570.3,332.8 L1571.3,332.4 L1572.3,331.1 L1573.3,331.1 L1574.3,330.5 L1575.3,331.3 L1576.3,331.3 L1577.3,330.1 L1578.3,330.2 L1579.3,330.5 L1580.3,328.9 L1581.3,330.0 L1582.3,330.7 L1583.3,330.5 L1584.3,329.1 L1585.3,328.9 L1586.3,329.3 L1587.3,329.0 L1588.3,329.4 L1589.3,328.3 L1590.3,328.1 L1591.3,327.9 L1592.3,328.7 L1593.3,326.6 L1594.3,328.0 L1595.3,327.0 L1596.3,326.9 L1597.3,325.9 L1598.3,326.2 L1599.3,325.4 L1600.3,324.0 L1601.3,325.8 L1602.3,324.5 L1603.3,325.2 L1604.3,324.1 L1605.3,324.5 L1606.4,324.3 L1607.4,323.2 L1608.4,324.1 L1609.4,323.5 L1610.4,322.1 L1611.4,324.7 L1612.4,323.6 L1613.4,323.3 L1614.4,322.9 L1615.4,323.2 L1616.4,322.1 L1617.4,322.7 L1618.4,322.7 L1619.4,321.5 L1620.4,321.7 L1621.4,321.5 L1622.4,320.2 L1623.4,321.2 L1624.4,320.7 L1625.4,321.4 L1626.4,320.5 L1627.4,319.6 L1628.4,320.0 L1629.4,319.4 L1630.4,317.9 L1631.4,319.2 L1632.4,318.2 L1633.4,319.8 L1634.4,318.9 L1635.4,319.1 L1636.4,318.5 L1637.4,317.9 L1638.4,318.4 L1639.4,316.6 L1640.4,318.0 L1641.4,317.2 L1642.4,315.7 L1643.4,316.7 L1644.4,317.1 L1645.4,316.1 L1646.4,317.2 L1647.4,316.9 L1648.4,315.4 L1649.4,315.1 L1650.4,315.3 L1651.4,314.9 L1652.4,315.5 L1653.4,315.6 L1654.4,315.1 L1655.4,314.9 L1656.4,314.2 L1657.4,314.0" stroke="#00ffff" stroke-width="8.00" stroke-linejoin="bevel"/>
<path d="M1657.4,314.0 L1658.5,313.4 L1659.5,315.3 L1660.5,314.1 L1661.5,313.7 L1662.5,312.6 L1663.5,311.8 L1664.5,312.1 L1665.5,312.2 L1666.5,312.0 L1667.5,312.5 L1668.5,311.6 L1669.5,312.1 L1670.5,311.8 L1671.5,311.8 L1672.5,311.0 L1673.5,311.4 L1674.5,310.8 L1675.5,310.6 L1676.5,310.2 L1677.5,310.0 L1678.5,310.1 L1679.5,310.2 L1680.5,309.0 L1681.5,309.1 L1682.5,309.2 L1683.5,309.7 L1684.5,308.8 L1685.5,309.0 L1686.5,309.0 L1687.5,308.2 L1688.5,309.1 L1689.5,307.1 L1690.5,306.7 L1691.5,306.6 L1692.5,306.6 L1693.5,306.6 L1694.5,306.6 L1695.5,306.9 L1696.5,306.1 L1697.5,305.9 L1698.5,306.4 L1699.5,305.7 L1700.5,305.8 L1701.5,305.2 L1702.5,304.4 L1703.5,305.1 L1704.5,304.8 L1705.5,305.0 L1706.5,304.5 L1707.5,303.8 L1708.5,305.2 L1709.6,303.1 L1710.6,302.5 L1711.6,303.1 L1712.6,303.0 L1713.6,303.5 L1714.6,302.6 L1715.6,302.8 L1716.6,302.8 L1717.6,302.9 L1718.6,301.1 L1719.6,302.2 L1720.6,301.0 L1721.6,302.4 L1722.6,301.0 L1723.6,300.8 L1724.6,301.5 L1725.6,300.9 L1726.6,300.7 L1727.6,301.1 L1728.6,300.0 L1729.6,299.8 L1730.6,300.7 L1731.6,299.5 L1732.6,299.8 L1733.6,298.6 L1734.6,299.3 L1735.6,298.9 L1736.6,299.2 L1737.6,300.3 L1738.6,297.2 L1739.6,297.7 L1740.6,298.0 L1741.6,298.1 L1742.6,296.8 L1743.6,297.6 L1744.6,296.9 L1745.6,297.3 L1746.6,296.4 L1747.6,298.8" stroke="#00ffff" stroke-width="8.00" stroke-linejoin="bevel"/>
<path d="M1747.6,298.8 L1748.6,296.9 L1749.6,297.0 L1750.6,294.8 L1751.6,295.6 L1752.6,295.9 L1753.6,297.0 L1754.6,295.1 L1755.6,295.7 L1756.6,294.7 L1757.6,295.0 L1758.6,293.6 L1759.6,293.4 L1760.7,294.1 L1761.7,295.0 L1762.7,294.8 L1763.7,293.9 L1764.7,293.0 L1765.7,294.5 L1766.7,293.3 L1767.7,292.7 L1768.7,292.9 L1769.7,292.8 L1770.7,294.0 L1771.7,292.6 L1772.7,292.1 L1773.7,292.0 L1774.7,291.0 L1775.7,292.8 L1776.7,291.1 L1777.7,291.7 L1778.7,290.7 L1779.7,290.7 L1780.7,289.5 L1781.7,290.9 L1782.7,292.2 L1783.7,291.8 L1784.7,290.6 L1785.7,291.2 L1786.7,289.5 L1787.7,289.0 L1788.7,290.5 L1789.7,289.0 L1790.7,290.8 L1791.7,290.1 L1792.7,288.2 L1793.7,288.6 L1794.7,288.4 L1795.7,289.0 L1796.7,288.0 L1797.7,288.1 L1798.7,286.9 L1799.7,288.9 L1800.7,288.2 L1801.7,287.5 L1802.7,286.1 L1803.7,287.2 L1804.7,289.0 L1805.7,287.0 L1806.7,287.4 L1807.7,284.9 L1808.7,286.0 L1809.7,285.9 L1810.7,286.7 L1811.7,285.0 L1812.8,286.2 L1813.8,286.2 L1814.8,285.3 L1815.8,284.9 L1816.8,285.2 L1817.8,284.0 L1818.8,283.4 L1819.8,283.2 L1820.8,284.3 L1821.8,283.8 L1822.8,283.8 L1823.8,283.3 L1824.8,283.5 L1825.8,284.7 L1826.8,283.0 L1827.8,282.4 L1828.8,282.0 L1829.8,282.0 L1830.8,282.9 L1831.8,282.2 L1832.8,281.9 L1833.8,281.9 L1834.8,280.8 L1835.8,281.0 L1836.8,281.2 L1837.8,281.1" stroke="#00ffff" stroke-width="8.00" stroke-linejoin="bevel"/>
<path d="M1837.8,281.1 L1838.8,281.4 L1839.8,281.6 L1840.8,280.4 L1841.8,280.9 L1842.8,280.8 L1843.8,279.9 L1844.8,280.6 L1845.8,280.7 L1846.8,278.7 L1847.8,280.0 L1848.8,279.8 L1849.8,279.6 L1850.8,278.1 L1851.8,279.8 L1852.8,278.8 L1853.8,278.2 L1854.8,277.5 L1855.8,278.7 L1856.8,278.1 L1857.8,277.1 L1858.8,279.1 L1859.8,276.9 L1860.8,278.1 L1861.8,276.8 L1862.8,277.1 L1863.9,277.6 L1864.9,276.8 L1865.9,277.2 L1866.9,276.7 L1867.9,277.6 L1868.9,276.9 L1869.9,276.5 L1870.9,275.5 L1871.9,275.6 L1872.9,275.9 L1873.9,276.8 L1874.9,276.5 L1875.9,275.4 L1876.9,275.9 L1877.9,275.1 L1878.9,275.0 L1879.9,274.7 L1880.9,274.3 L1881.9,274.7 L1882.9,276.3 L1883.9,273.8 L1884.9,274.7 L1885.9,274.3 L1886.9,273.6 L1887.9,273.9 L1888.9,272.9 L1889.9,273.2 L1890.9,273.9 L1891.9,273.9 L1892.9,272.6 L1893.9,272.3 L1894.9,271.4 L1895.9,272.7 L1896.9,271.6 L1897.9,271.2 L1898.9,271.8 L1899.9,271.5 L1900.9,270.4 L1901.9,272.0 L1902.9,269.9 L1903.9,269.7 L1904.9,271.4 L1905.9,270.4 L1906.9,269.2 L1907.9,271.0 L1908.9,270.7 L1909.9,269.8 L1910.9,269.7 L1911.9,269.8 L1912.9,270.0 L1913.9,269.2 L1914.9,268.4 L1916.0,268.9 L1917.0,268.5 L1918.0,267.6 L1919.0,268.2 L1920.0,267.7 L1921.0,268.3 L1922.0,268.9 L1923.0,268.3 L1924.0,269.8 L1925.0,268.0 L1926.0,267.6 L1927.0,266.7 L1928.0,267.8" stroke="#00ffff" stroke-width="8.00" stroke-linejoin="bevel"/>
<path d="M1928.0,267.8 L1929.0,267.3 L1930.0,265.7 L1931.0,266.3 L1932.0,267.0 L1933.0,266.1 L1934.0,266.6 L1935.0,266.3 L1936.0,267.4 L1937.0,264.8 L1938.0,265.6 L1939.0,264.6 L1940.0,264.8 L1941.0,266.6 L1942.0,265.8 L1943.0,265.4 L1944.0,264.8 L1945.0,264.7 L1946.0,265.9 L1947.0,263.6 L1948.0,265.1 L1949.0,264.9 L1950.0,263.3 L1951.0,263.9 L1952.0,263.1 L1953.0,263.5 L1954.0,264.0 L1955.0,263.4 L1956.0,263.9 L1957.0,263.4 L1958.0,261.2 L1959.0,263.2 L1960.0,261.6 L1961.0,260.3 L1962.0,261.9 L1963.0,261.7 L1964.0,263.3 L1965.0,262.5 L1966.0,262.2 L1967.1,261.5 L1968.1,261.9 L1969.1,260.7 L1970.1,261.8 L1971.9,260.4" stroke="#00ffff" stroke-width="8.00" stroke-linejoin="bevel"/>
<rect x="750.2" y="637.7" width="11.0" height="25.6" fill="#00ffff" stroke="none"/>
<path d="M167.0,1531.6 L167.0,1531.2 L167.1,1530.2 L167.2,1528.4 L167.3,1526.0 L167.5,1523.1 L167.7,1519.6 L167.9,1515.8 L168.2,1511.5 L168.5,1507.0 L168.9,1502.3 L169.3,1497.5 L169.7,1492.5 L170.2,1487.4 L170.7,1482.3 L171.2,1477.2 L171.8,1472.0 L172.4,1466.8 L173.1,1461.6 L173.8,1456.4 L174.5,1451.2 L175.3,1445.9 L176.1,1440.6 L176.9,1435.3 L177.8,1430.0 L178.7,1424.7 L179.7,1419.3 L180.7,1413.9 L181.7,1408.5 L182.8,1403.2 L183.9,1397.8 L185.0,1392.4 L186.2,1387.1 L187.4,1381.7 L188.7,1376.4 L190.0,1371.1 L191.3,1365.9 L192.7,1360.6 L194.1,1355.4 L195.6,1350.2 L197.0,1345.0 L198.6,1339.9 L200.1,1334.7 L201.7,1329.6 L203.4,1324.5 L205.0,1319.5 L206.7,1314.4 L208.5,1309.3 L210.3,1304.3 L212.1,1299.3 L214.3,1293.2 L216.6,1287.2 L218.9,1281.4 L221.1,1275.7 L223.4,1270.1 L225.6,1264.6 L227.9,1259.2 L230.1,1253.9 L232.4,1248.7 L234.6,1243.5 L236.9,1238.4 L239.1,1233.4 L241.4,1228.4 L243.6,1223.5 L245.9,1218.7 L248.2,1213.9 L250.4,1209.1 L252.7,1204.4 L254.9,1199.7 L257.2,1195.1 L259.4,1190.5 L261.7,1185.9 L263.9,1181.4 L266.2,1177.0 L268.4,1172.5 L270.7,1168.1 L273.0,1163.7 L275.2,1159.4 L277.5,1155.1 L279.7,1150.8 L282.0,1146.5 L284.2,1142.3 L286.5,1138.1 L288.7,1133.9 L291.0,1129.8 L293.2,1125.6 L295.5,1121.5 L297.8,1117.4 L300.0,1113.4 L302.3,1109.4 L304.5,1105.4 L306.8,1101.4 L309.0,1097.4 L311.3,1093.5 L313.5,1089.6 L315.8,1085.7 L318.0,1081.8 L320.3,1077.9 L322.6,1074.1 L324.8,1070.3 L327.1,1066.5 L329.3,1062.7 L331.6,1059.0 L333.8,1055.2 L336.1,1051.5 L338.3,1047.8 L340.6,1044.1 L342.8,1040.5 L345.1,1036.8 L347.4,1033.2 L349.6,1029.6 L351.9,1026.0 L354.1,1022.4 L356.4,1018.9 L358.6,1015.4 L360.9,1011.8 L363.1,1008.3 L365.4,1004.8 L367.6,1001.4 L369.9,997.9 L372.1,994.5 L374.4,991.1 L376.7,987.7 L378.9,984.3 L381.2,980.9 L383.4,977.6 L385.7,974.2 L387.9,970.9 L390.2,967.6 L392.4,964.3 L394.7,961.0 L396.9,957.8 L399.2,954.5 L401.5,951.3 L403.7,948.1 L406.0,944.9 L408.2,941.7 L410.5,938.6 L412.7,935.4 L415.0,932.3 L417.2,929.1 L419.5,926.0 L421.7,922.9 L424.0,919.9 L426.3,916.8 L428.5,913.7 L430.8,910.7 L433.0,907.7 L435.3,904.7 L437.5,901.7 L439.8,898.7 L442.0,895.7 L444.3,892.8 L446.5,889.8 L448.8,886.9 L451.1,884.0 L453.3,881.1 L455.6,878.2 L457.8,875.3 L460.1,872.4 L462.3,869.6 L464.6,866.7 L466.8,863.9 L469.1,861.1 L471.3,858.3 L473.6,855.5 L475.8,852.8 L478.1,850.0 L480.4,847.2 L482.6,844.5 L484.9,841.8 L487.1,839.1 L489.4,836.4 L491.6,833.7 L493.9,831.0 L496.1,828.3 L498.4,825.7 L500.6,823.0 L502.9,820.4 L505.2,817.8 L507.4,815.2 L509.7,812.6 L511.9,810.0 L514.2,807.5 L516.4,804.9 L518.7,802.3 L520.9,799.8 L523.2,797.3 L525.4,794.8 L527.7,792.3 L530.0,789.8 L532.2,787.3 L534.5,784.8 L536.7,782.4 L539.0,779.9 L541.2,777.5 L543.5,775.0 L545.7,772.6 L548.0,770.2 L550.2,767.8 L552.5,765.4 L554.8,763.1 L557.0,760.7 L559.3,758.3 L561.5,756.0 L563.8,753.7 L566.0,751.3 L568.3,749.0 L570.5,746.7 L572.8,744.4 L575.0,742.1 L577.3,739.9 L579.6,737.6 L581.8,735.4 L584.1,733.1 L586.3,730.9 L588.6,728.7 L590.8,726.4 L593.1,724.2 L595.3,722.0 L597.6,719.8 L599.8,717.7 L602.1,715.5 L604.3,713.3 L606.6,711.2 L608.9,709.0 L611.1,706.9 L613.4,704.8 L615.6,702.7 L617.9,700.6 L620.1,698.5 L622.4,696.4 L624.6,694.3 L626.9,692.2 L629.1,690.2 L631.4,688.1 L633.7,686.1 L635.9,684.1 L638.2,682.0 L640.4,680.0 L642.7,678.0 L644.9,676.0 L647.2,674.0 L649.4,672.0 L651.7,670.0 L653.9,668.1 L656.2,666.1 L658.5,664.2 L660.7,662.2 L662.9,660.3" stroke="#ff0000" stroke-width="9.3"/>
<path d="M662.9,659.3 L663.9,658.2 L664.9,658.1 L665.9,656.5 L666.9,655.8 L667.9,655.3 L668.9,653.8 L669.9,653.0 L670.9,652.4 L671.9,651.4 L672.9,650.3 L673.9,649.7 L674.9,648.9 L675.9,648.3 L676.9,646.9 L677.9,646.3 L678.9,645.9 L679.9,645.3 L680.9,643.6 L681.9,643.3 L682.9,642.0 L683.9,641.2 L684.9,640.4 L685.9,639.7 L686.9,639.3 L687.9,638.4 L689.0,637.4 L690.0,636.5 L691.0,635.7 L692.0,634.9 L693.0,634.3 L694.0,633.1 L695.0,632.5 L696.0,631.6 L697.0,630.9 L698.0,630.1 L699.0,629.3 L700.0,628.8 L701.0,627.6 L702.0,627.3 L703.0,626.0 L704.0,625.1 L705.0,624.5 L706.0,623.8 L707.0,623.0 L708.0,622.4 L709.0,621.6 L710.0,620.6 L711.0,619.6 L712.0,618.9 L713.0,618.5 L714.0,617.4 L715.0,616.3 L716.0,615.6 L717.0,614.9 L718.0,614.6 L719.0,613.5 L720.0,613.3 L721.0,612.1 L722.0,611.2 L723.0,610.3 L724.0,609.9 L725.0,608.8 L726.0,607.9 L727.0,607.5 L728.0,606.6 L729.0,606.1 L730.0,605.0 L731.0,603.5 L732.0,603.8 L733.0,602.3 L734.0,602.4 L735.0,601.8 L736.0,600.4 L737.0,599.5 L738.0,598.6 L739.0,598.5 L740.0,597.5 L741.1,596.6 L742.1,596.0 L743.1,595.9 L744.1,594.7 L745.1,594.0 L746.1,593.3 L747.1,592.6 L748.1,591.9 L749.1,590.7 L750.1,590.1 L751.1,589.2 L752.1,588.5 L753.1,588.3" stroke="#ff0000" stroke-width="8.61" stroke-linejoin="bevel"/>
<path d="M753.1,588.3 L754.1,587.1 L755.1,586.5 L756.1,585.6 L757.1,584.9 L758.1,584.6 L759.1,583.5 L760.1,582.7 L761.1,582.3 L762.1,581.6 L763.1,581.0 L764.1,580.1 L765.1,578.8 L766.1,578.8 L767.1,578.0 L768.1,577.5 L769.1,576.2 L770.1,576.6 L771.1,574.7 L772.1,574.6 L773.1,573.7 L774.1,572.8 L775.1,572.5 L776.1,571.5 L777.1,570.1 L778.1,569.8 L779.1,569.6 L780.1,569.5 L781.1,567.6 L782.1,567.4 L783.1,567.2 L784.1,566.2 L785.1,565.2 L786.1,564.1 L787.1,563.3 L788.1,563.0 L789.1,562.4 L790.1,561.1 L791.1,560.6 L792.2,560.6 L793.2,559.7 L794.2,558.9 L795.2,558.4 L796.2,557.5 L797.2,557.5 L798.2,557.1 L799.2,556.5 L800.2,555.4 L801.2,554.7 L802.2,554.3 L803.2,553.8 L804.2,553.0 L805.2,552.2 L806.2,550.9 L807.2,549.9 L808.2,550.1 L809.2,549.1 L810.2,548.5 L811.2,547.5 L812.2,546.7 L813.2,547.1 L814.2,546.0 L815.2,544.8 L816.2,544.7 L817.2,544.0 L818.2,543.5 L819.2,543.5 L820.2,542.0 L821.2,540.8 L822.2,540.7 L823.2,539.8 L824.2,539.6 L825.2,538.8 L826.2,538.2 L827.2,537.3 L828.2,537.0 L829.2,536.0 L830.2,535.8 L831.2,534.8 L832.2,533.8 L833.2,533.9 L834.2,532.7 L835.2,533.0 L836.2,531.9 L837.2,531.3 L838.2,530.6 L839.2,529.9 L840.2,528.3 L841.2,529.1 L842.2,527.7 L843.2,527.8" stroke="#ff0000" stroke-width="8.37" stroke-linejoin="bevel"/>
<path d="M843.2,527.8 L844.3,526.5 L845.3,526.1 L846.3,525.4 L847.3,524.5 L848.3,524.2 L849.3,523.9 L850.3,522.9 L851.3,521.9 L852.3,521.6 L853.3,521.3 L854.3,521.1 L855.3,520.4 L856.3,519.5 L857.3,518.4 L858.3,518.6 L859.3,517.6 L860.3,516.9 L861.3,516.8 L862.3,516.1 L863.3,515.4 L864.3,514.1 L865.3,513.7 L866.3,512.6 L867.3,512.9 L868.3,512.2 L869.3,512.0 L870.3,511.1 L871.3,510.3 L872.3,510.8 L873.3,508.8 L874.3,508.0 L875.3,507.8 L876.3,507.7 L877.3,506.7 L878.3,506.1 L879.3,505.2 L880.3,505.8 L881.3,504.3 L882.3,503.5 L883.3,503.3 L884.3,502.4 L885.3,502.1 L886.3,502.3 L887.3,500.9 L888.3,500.5 L889.3,499.8 L890.3,499.3 L891.3,499.2 L892.3,498.5 L893.3,497.5 L894.3,496.6 L895.4,496.4 L896.4,496.3 L897.4,495.4 L898.4,494.7 L899.4,493.4 L900.4,494.2 L901.4,492.4 L902.4,491.9 L903.4,491.8 L904.4,491.4 L905.4,490.9 L906.4,489.9 L907.4,489.6 L908.4,488.9 L909.4,487.7 L910.4,488.0 L911.4,487.2 L912.4,487.2 L913.4,486.4 L914.4,486.4 L915.4,485.7 L916.4,485.2 L917.4,484.9 L918.4,484.0 L919.4,483.1 L920.4,483.3 L921.4,481.6 L922.4,481.5 L923.4,481.4 L924.4,480.3 L925.4,480.3 L926.4,478.9 L927.4,478.5 L928.4,478.6 L929.4,478.1 L930.4,477.8 L931.4,476.6 L932.4,476.3 L933.4,475.9" stroke="#ff0000" stroke-width="8.06" stroke-linejoin="bevel"/>
<path d="M933.4,475.9 L934.4,475.3 L935.4,473.8 L936.4,473.7 L937.4,474.3 L938.4,472.3 L939.4,472.8 L940.4,471.7 L941.4,471.9 L942.4,470.4 L943.4,470.3 L944.4,468.7 L945.4,469.3 L946.5,469.3 L947.5,467.4 L948.5,468.4 L949.5,466.8 L950.5,466.6 L951.5,464.6 L952.5,466.2 L953.5,464.6 L954.5,464.3 L955.5,463.4 L956.5,463.0 L957.5,463.7 L958.5,462.3 L959.5,462.6 L960.5,461.4 L961.5,461.2 L962.5,460.2 L963.5,460.3 L964.5,461.0 L965.5,459.4 L966.5,458.8 L967.5,457.7 L968.5,458.1 L969.5,457.8 L970.5,455.5 L971.5,455.2 L972.5,456.7 L973.5,455.2 L974.5,454.6 L975.5,454.3 L976.5,454.2 L977.5,453.5 L978.5,452.4 L979.5,453.2 L980.5,451.5 L981.5,450.5 L982.5,450.2 L983.5,450.0 L984.5,449.3 L985.5,449.0 L986.5,448.8 L987.5,446.1 L988.5,447.1 L989.5,447.7 L990.5,447.0 L991.5,445.8 L992.5,445.3 L993.5,445.9 L994.5,444.6 L995.5,443.9 L996.5,444.9 L997.5,443.1 L998.6,443.2 L999.6,442.3 L1000.6,441.9 L1001.6,440.8 L1002.6,440.4 L1003.6,441.2 L1004.6,439.2 L1005.6,439.6 L1006.6,438.3 L1007.6,438.4 L1008.6,438.0 L1009.6,436.6 L1010.6,437.8 L1011.6,436.5 L1012.6,437.0 L1013.6,435.1 L1014.6,435.8 L1015.6,436.3 L1016.6,434.5 L1017.6,433.4 L1018.6,433.7 L1019.6,433.0 L1020.6,432.3 L1021.6,431.9 L1022.6,431.2 L1023.6,431.4" stroke="#ff0000" stroke-width="7.75" stroke-linejoin="bevel"/>
<path d="M1023.6,431.4 L1024.6,430.4 L1025.6,429.6 L1026.6,430.3 L1027.6,429.2 L1028.6,430.5 L1029.6,428.2 L1030.6,427.4 L1031.6,427.1 L1032.6,427.2 L1033.6,426.1 L1034.6,425.3 L1035.6,426.7 L1036.6,424.4 L1037.6,425.8 L1038.6,424.4 L1039.6,423.1 L1040.6,424.5 L1041.6,422.8 L1042.6,421.8 L1043.6,422.1 L1044.6,422.5 L1045.6,421.6 L1046.6,421.3 L1047.6,421.5 L1048.6,420.0 L1049.7,419.7 L1050.7,418.8 L1051.7,417.5 L1052.7,418.0 L1053.7,418.8 L1054.7,416.0 L1055.7,417.7 L1056.7,416.5 L1057.7,415.3 L1058.7,415.5 L1059.7,416.3 L1060.7,414.2 L1061.7,414.7 L1062.7,414.6 L1063.7,412.7 L1064.7,413.3 L1065.7,412.9 L1066.7,411.7 L1067.7,412.1 L1068.7,410.9 L1069.7,410.4 L1070.7,409.5 L1071.7,410.2 L1072.7,409.2 L1073.7,408.7 L1074.7,407.8 L1075.7,407.2 L1076.7,407.2 L1077.7,407.9 L1078.7,406.4 L1079.7,407.6 L1080.7,406.4 L1081.7,405.8 L1082.7,404.4 L1083.7,406.3 L1084.7,403.4 L1085.7,404.4 L1086.7,404.9 L1087.7,403.1 L1088.7,402.3 L1089.7,402.4 L1090.7,402.7 L1091.7,402.6 L1092.7,401.6 L1093.7,400.0 L1094.7,399.8 L1095.7,400.1 L1096.7,398.6 L1097.7,398.9 L1098.7,400.4 L1099.7,397.5 L1100.7,398.8 L1101.8,396.8 L1102.8,396.8 L1103.8,396.6 L1104.8,395.1 L1105.8,395.8 L1106.8,396.5 L1107.8,395.6 L1108.8,395.2 L1109.8,393.7 L1110.8,393.8 L1111.8,393.6 L1112.8,393.6 L1113.8,393.7" stroke="#ff0000" stroke-width="7.45" stroke-linejoin="bevel"/>
<path d="M1113.8,393.7 L1114.8,391.5 L1115.8,393.2 L1116.8,391.3 L1117.8,390.9 L1118.8,389.8 L1119.8,390.3 L1120.8,389.7 L1121.8,388.6 L1122.8,388.9 L1123.8,388.8 L1124.8,388.0 L1125.8,388.6 L1126.8,386.8 L1127.8,387.9 L1128.8,386.7 L1129.8,386.7 L1130.8,384.6 L1131.8,385.7 L1132.8,385.2 L1133.8,385.6 L1134.8,383.6 L1135.8,385.2 L1136.8,382.9 L1137.8,384.4 L1138.8,383.4 L1139.8,382.0 L1140.8,383.9 L1141.8,380.9 L1142.8,381.3 L1143.8,381.2 L1144.8,381.1 L1145.8,380.5 L1146.8,380.6 L1147.8,379.9 L1148.8,379.2 L1149.8,378.0 L1150.8,378.1 L1151.8,378.8 L1152.9,376.7 L1153.9,377.4 L1154.9,375.3 L1155.9,376.0 L1156.9,374.9 L1157.9,376.9 L1158.9,373.9 L1159.9,374.9 L1160.9,375.3 L1161.9,374.9 L1162.9,374.6 L1163.9,374.5 L1164.9,373.6 L1165.9,373.6 L1166.9,372.5 L1167.9,372.1 L1168.9,370.3 L1169.9,371.6 L1170.9,372.1 L1171.9,370.1 L1172.9,369.3 L1173.9,370.1 L1174.9,370.6 L1175.9,370.3 L1176.9,367.6 L1177.9,368.9 L1178.9,367.6 L1179.9,368.1 L1180.9,365.5 L1181.9,367.9 L1182.9,366.4 L1183.9,366.6 L1184.9,365.9 L1185.9,364.8 L1186.9,365.8 L1187.9,364.6 L1188.9,364.0 L1189.9,364.8 L1190.9,363.9 L1191.9,363.0 L1192.9,364.0 L1193.9,362.4 L1194.9,362.5 L1195.9,362.8 L1196.9,362.7 L1197.9,362.5 L1198.9,362.6 L1199.9,360.8 L1200.9,359.7 L1201.9,361.5 L1202.9,361.0 L1203.9,359.1" stroke="#ff0000" stroke-width="7.14" stroke-linejoin="bevel"/>
<path d="M1203.9,359.1 L1205.0,359.7 L1206.0,358.4 L1207.0,357.0 L1208.0,359.0 L1209.0,358.0 L1210.0,357.5 L1211.0,358.5 L1212.0,357.9 L1213.0,355.7 L1214.0,355.0 L1215.0,353.9 L1216.0,355.3 L1217.0,354.6 L1218.0,355.0 L1219.0,354.3 L1220.0,353.4 L1221.0,353.3 L1222.0,351.9 L1223.0,354.1 L1224.0,352.1 L1225.0,352.8 L1226.0,351.4 L1227.0,351.7 L1228.0,351.9 L1229.0,350.7 L1230.0,349.9 L1231.0,352.4 L1232.0,349.8 L1233.0,350.2 L1234.0,349.2 L1235.0,348.3 L1236.0,349.9 L1237.0,348.7 L1238.0,348.3 L1239.0,345.6 L1240.0,347.6 L1241.0,347.8 L1242.0,347.0 L1243.0,346.2 L1244.0,347.2 L1245.0,346.0 L1246.0,345.9 L1247.0,346.1 L1248.0,345.7 L1249.0,343.2 L1250.0,344.4 L1251.0,343.1 L1252.0,341.6 L1253.0,343.4 L1254.0,341.2 L1255.0,342.1 L1256.1,339.8 L1257.1,340.9 L1258.1,341.1 L1259.1,341.2 L1260.1,340.4 L1261.1,339.7 L1262.1,339.4 L1263.1,341.5 L1264.1,339.2 L1265.1,339.3 L1266.1,340.9 L1267.1,337.0 L1268.1,336.4 L1269.1,337.1 L1270.1,337.4 L1271.1,336.4 L1272.1,337.1 L1273.1,336.8 L1274.1,335.0 L1275.1,336.4 L1276.1,334.5 L1277.1,336.3 L1278.1,335.5 L1279.1,337.2 L1280.1,335.5 L1281.1,334.2 L1282.1,334.4 L1283.1,333.9 L1284.1,332.7 L1285.1,331.7 L1286.1,334.0 L1287.1,334.1 L1288.1,331.8 L1289.1,331.7 L1290.1,331.2 L1291.1,332.4 L1292.1,332.3 L1293.1,329.9 L1294.1,330.1" stroke="#ff0000" stroke-width="6.83" stroke-linejoin="bevel"/>
<path d="M1294.1,330.1 L1295.1,329.6 L1296.1,330.1 L1297.1,330.3 L1298.1,330.3 L1299.1,328.7 L1300.1,327.7 L1301.1,328.9 L1302.1,328.7 L1303.1,327.4 L1304.1,327.7 L1305.1,327.6 L1306.1,327.8 L1307.2,326.7 L1308.2,326.8 L1309.2,326.2 L1310.2,324.7 L1311.2,326.2 L1312.2,325.2 L1313.2,325.9 L1314.2,323.3 L1315.2,323.5 L1316.2,324.3 L1317.2,321.9 L1318.2,323.3 L1319.2,322.6 L1320.2,322.4 L1321.2,322.3 L1322.2,319.9 L1323.2,322.0 L1324.2,321.8 L1325.2,322.5 L1326.2,322.6 L1327.2,321.2 L1328.2,321.5 L1329.2,317.7 L1330.2,320.5 L1331.2,320.8 L1332.2,320.3 L1333.2,319.4 L1334.2,318.5 L1335.2,318.2 L1336.2,318.3 L1337.2,318.4 L1338.2,318.3 L1339.2,317.3 L1340.2,315.8 L1341.2,318.8 L1342.2,315.7 L1343.2,313.4 L1344.2,317.6 L1345.2,316.8 L1346.2,315.7 L1347.2,316.2 L1348.2,315.4 L1349.2,313.8 L1350.2,314.5 L1351.2,312.8 L1352.2,313.1 L1353.2,312.6 L1354.2,313.4 L1355.2,314.2 L1356.2,312.0 L1357.2,313.0 L1358.2,309.9 L1359.3,310.7 L1360.3,312.2 L1361.3,312.4 L1362.3,312.1 L1363.3,312.0 L1364.3,308.8 L1365.3,309.7 L1366.3,307.2 L1367.3,309.6 L1368.3,309.7 L1369.3,308.8 L1370.3,307.9 L1371.3,309.2 L1372.3,309.0 L1373.3,308.3 L1374.3,307.2 L1375.3,307.7 L1376.3,307.4 L1377.3,307.4 L1378.3,307.5 L1379.3,306.5 L1380.3,304.7 L1381.3,305.7 L1382.3,306.2 L1383.3,305.0 L1384.3,305.5" stroke="#ff0000" stroke-width="6.52" stroke-linejoin="bevel"/>
<path d="M1384.3,305.5 L1385.3,304.2 L1386.3,306.2 L1387.3,304.9 L1388.3,304.4 L1389.3,304.8 L1390.3,304.5 L1391.3,303.5 L1392.3,304.3 L1393.3,303.6 L1394.3,302.9 L1395.3,302.4 L1396.3,300.9 L1397.3,302.1 L1398.3,301.8 L1399.3,300.4 L1400.3,302.7 L1401.3,300.8 L1402.3,299.4 L1403.3,299.9 L1404.3,300.0 L1405.3,299.8 L1406.3,298.7 L1407.3,299.4 L1408.3,297.4 L1409.3,298.3 L1410.4,299.1 L1411.4,297.5 L1412.4,298.8 L1413.4,298.7 L1414.4,296.9 L1415.4,294.5 L1416.4,298.1 L1417.4,298.4 L1418.4,294.7 L1419.4,296.6 L1420.4,296.4 L1421.4,293.9 L1422.4,294.9 L1423.4,296.8 L1424.4,295.3 L1425.4,294.9 L1426.4,296.0 L1427.4,293.7 L1428.4,292.0 L1429.4,295.5 L1430.4,292.7 L1431.4,293.4 L1432.4,294.5 L1433.4,293.2 L1434.4,292.9 L1435.4,291.7 L1436.4,292.9 L1437.4,294.6 L1438.4,291.0 L1439.4,290.1 L1440.4,291.6 L1441.4,290.1 L1442.4,290.9 L1443.4,290.5 L1444.4,290.9 L1445.4,290.3 L1446.4,290.2 L1447.4,291.1 L1448.4,288.1 L1449.4,289.1 L1450.4,289.2 L1451.4,287.1 L1452.4,287.2 L1453.4,287.7 L1454.4,287.2 L1455.4,289.0 L1456.4,287.6 L1457.4,290.8 L1458.4,286.5 L1459.4,286.3 L1460.4,289.2 L1461.4,285.6 L1462.5,288.7 L1463.5,282.0 L1464.5,284.7 L1465.5,287.0 L1466.5,287.0 L1467.5,285.4 L1468.5,283.8 L1469.5,284.2 L1470.5,285.1 L1471.5,284.3 L1472.5,284.9 L1473.5,282.6 L1474.5,284.3" stroke="#ff0000" stroke-width="6.21" stroke-linejoin="bevel"/>
<path d="M1474.5,284.3 L1475.5,284.6 L1476.5,286.6 L1477.5,283.5 L1478.5,283.2 L1479.5,281.1 L1480.5,280.2 L1481.5,278.8 L1482.5,282.0 L1483.5,283.8 L1484.5,280.9 L1485.5,277.6 L1486.5,280.8 L1487.5,280.1 L1488.5,279.6 L1489.5,282.1 L1490.5,281.2 L1491.5,281.3 L1492.5,278.2 L1493.5,279.4 L1494.5,277.4 L1495.5,280.0 L1496.5,276.9 L1497.5,279.7 L1498.5,278.2 L1499.5,277.9 L1500.5,275.6 L1501.5,278.1 L1502.5,274.7 L1503.5,275.2 L1504.5,275.3 L1505.5,279.0 L1506.5,276.2 L1507.5,275.0 L1508.5,276.3 L1509.5,278.5 L1510.5,275.0 L1511.5,273.6 L1512.5,273.4 L1513.6,274.5 L1514.6,276.5 L1515.6,274.0 L1516.6,273.6 L1517.6,272.4 L1518.6,272.0 L1519.6,274.6 L1520.6,273.5 L1521.6,273.4 L1522.6,270.8 L1523.6,273.1 L1524.6,272.6 L1525.6,274.0 L1526.6,273.2 L1527.6,271.3 L1528.6,271.8 L1529.6,271.6 L1530.6,270.8 L1531.6,269.6 L1532.6,271.7 L1533.6,273.2 L1534.6,270.0 L1535.6,272.0 L1536.6,269.2 L1537.6,269.0 L1538.6,269.2 L1539.6,268.6 L1540.6,270.1 L1541.6,270.1 L1542.6,265.1 L1543.6,269.3 L1544.6,268.5 L1545.6,270.1 L1546.6,266.4 L1547.6,267.5 L1548.6,268.8 L1549.6,268.1 L1550.6,268.8 L1551.6,265.5 L1552.6,265.5 L1553.6,266.9 L1554.6,264.1 L1555.6,266.3 L1556.6,266.7 L1557.6,265.8 L1558.6,263.4 L1559.6,264.2 L1560.6,264.3 L1561.6,265.1 L1562.6,264.6 L1563.6,263.5 L1564.6,261.7" stroke="#ff0000" stroke-width="5.94" stroke-linejoin="bevel"/>
<path d="M1564.6,261.7 L1565.7,261.3 L1566.7,262.2 L1567.7,261.9 L1568.7,262.2 L1569.7,261.5 L1570.7,262.5 L1571.7,261.7 L1572.7,262.5 L1573.7,262.0 L1574.7,262.6 L1575.7,260.4 L1576.7,260.3 L1577.7,259.8 L1578.7,261.2 L1579.7,261.8 L1580.7,262.2 L1581.7,260.7 L1582.7,260.1 L1583.7,261.0 L1584.7,259.8 L1585.7,258.4 L1586.7,260.5 L1587.7,258.7 L1588.7,257.2 L1589.7,258.7 L1590.7,257.6 L1591.7,258.5 L1592.7,257.4 L1593.7,257.7 L1594.7,257.1 L1595.7,257.6 L1596.7,258.3 L1597.7,257.7 L1598.7,257.2 L1599.7,258.3 L1600.7,255.0 L1601.7,256.8 L1602.7,257.9 L1603.7,256.9 L1604.7,257.5 L1605.7,254.6 L1606.7,257.1 L1607.7,254.5 L1608.7,256.7 L1609.7,255.4 L1610.7,256.0 L1611.7,253.7 L1612.7,254.2 L1613.7,251.9 L1614.7,254.6 L1615.7,254.9 L1616.8,254.3 L1617.8,255.1 L1618.8,254.2 L1619.8,253.4 L1620.8,253.8 L1621.8,252.2 L1622.8,253.9 L1623.8,252.9 L1624.8,252.8 L1625.8,252.0 L1626.8,251.2 L1627.8,250.6 L1628.8,251.3 L1629.8,252.4 L1630.8,249.0 L1631.8,251.2 L1632.8,255.5 L1633.8,251.0 L1634.8,250.4 L1635.8,250.9 L1636.8,250.0 L1637.8,250.2 L1638.8,250.1 L1639.8,248.4 L1640.8,251.1 L1641.8,249.6 L1642.8,250.6 L1643.8,249.2 L1644.8,250.2 L1645.8,248.7 L1646.8,252.4 L1647.8,249.8 L1648.8,249.8 L1649.8,247.9 L1650.8,245.8 L1651.8,247.2 L1652.8,248.1 L1653.8,247.4 L1654.8,246.3" stroke="#ff0000" stroke-width="5.90" stroke-linejoin="bevel"/>
<path d="M1654.8,246.3 L1655.8,245.9 L1656.8,245.1 L1657.8,245.9 L1658.8,247.2 L1659.8,247.0 L1660.8,246.8 L1661.8,245.6 L1662.8,245.9 L1663.8,245.4 L1664.8,245.8 L1665.8,245.5 L1666.8,245.7 L1667.9,244.6 L1668.9,244.4 L1669.9,246.2 L1670.9,245.8 L1671.9,241.3 L1672.9,244.3 L1673.9,244.1 L1674.9,244.5 L1675.9,240.5 L1676.9,240.9 L1677.9,242.3 L1678.9,242.8 L1679.9,241.1 L1680.9,243.8 L1681.9,243.5 L1682.9,242.8 L1683.9,242.9 L1684.9,240.2 L1685.9,241.3 L1686.9,238.3 L1687.9,242.4 L1688.9,242.4 L1689.9,241.3 L1690.9,239.3 L1691.9,240.5 L1692.9,241.5 L1693.9,238.5 L1694.9,240.2 L1695.9,240.7 L1696.9,238.6 L1697.9,238.7 L1698.9,240.8 L1699.9,240.1 L1700.9,240.8 L1701.9,239.2 L1702.9,237.4 L1703.9,238.4 L1704.9,237.5 L1705.9,237.8 L1706.9,238.6 L1707.9,239.8 L1708.9,237.9 L1709.9,239.9 L1710.9,235.7 L1711.9,237.0 L1712.9,237.1 L1713.9,234.2 L1714.9,234.6 L1715.9,236.1 L1716.9,236.5 L1717.9,236.8 L1718.9,236.2 L1720.0,235.5 L1721.0,234.0 L1722.0,235.7 L1723.0,237.5 L1724.0,235.8 L1725.0,234.2 L1726.0,235.1 L1727.0,235.4 L1728.0,236.3 L1729.0,233.8 L1730.0,235.0 L1731.0,234.9 L1732.0,233.6 L1733.0,233.7 L1734.0,233.2 L1735.0,233.6 L1736.0,233.7 L1737.0,231.7 L1738.0,232.9 L1739.0,234.9 L1740.0,232.7 L1741.0,230.2 L1742.0,234.3 L1743.0,232.0 L1744.0,232.3 L1745.0,232.7" stroke="#ff0000" stroke-width="5.90" stroke-linejoin="bevel"/>
<path d="M1745.0,232.7 L1746.0,231.3 L1747.0,230.4 L1748.0,230.6 L1749.0,231.7 L1750.0,231.2 L1751.0,230.7 L1752.0,233.6 L1753.0,231.1 L1754.0,231.8 L1755.0,233.2 L1756.0,230.5 L1757.0,229.6 L1758.0,229.7 L1759.0,230.0 L1760.0,232.0 L1761.0,230.9 L1762.0,229.1 L1763.0,228.5 L1764.0,230.0 L1765.0,231.3 L1766.0,228.0 L1767.0,230.7 L1768.0,228.9 L1769.0,228.4 L1770.0,227.9 L1771.1,227.2 L1772.1,227.3 L1773.1,229.3 L1774.1,225.8 L1775.1,226.9 L1776.1,227.2 L1777.1,225.7 L1778.1,226.4 L1779.1,225.0 L1780.1,227.5 L1781.1,227.4 L1782.1,224.6 L1783.1,228.0 L1784.1,224.8 L1785.1,223.5 L1786.1,223.5 L1787.1,226.2 L1788.1,222.5 L1789.1,225.2 L1790.1,225.5 L1791.1,226.3 L1792.1,224.4 L1793.1,226.2 L1794.1,224.0 L1795.1,225.6 L1796.1,223.0 L1797.1,224.5 L1798.1,223.6 L1799.1,224.1 L1800.1,226.5 L1801.1,223.6 L1802.1,223.5 L1803.1,223.4 L1804.1,223.6 L1805.1,220.2 L1806.1,223.8 L1807.1,221.0 L1808.1,220.0 L1809.1,222.5 L1810.1,220.7 L1811.1,222.4 L1812.1,223.4 L1813.1,221.9 L1814.1,220.4 L1815.1,221.7 L1816.1,224.0 L1817.1,221.4 L1818.1,223.4 L1819.1,222.9 L1820.1,219.3 L1821.1,221.9 L1822.1,218.9 L1823.2,221.2 L1824.2,221.0 L1825.2,219.9 L1826.2,218.0 L1827.2,219.4 L1828.2,219.3 L1829.2,220.2 L1830.2,219.4 L1831.2,220.0 L1832.2,218.8 L1833.2,217.0 L1834.2,218.9 L1835.2,220.6" stroke="#ff0000" stroke-width="5.90" stroke-linejoin="bevel"/>
<path d="M1835.2,220.6 L1836.2,217.5 L1837.2,217.2 L1838.2,215.8 L1839.2,220.6 L1840.2,216.7 L1841.2,219.3 L1842.2,218.0 L1843.2,217.5 L1844.2,217.6 L1845.2,219.8 L1846.2,219.5 L1847.2,217.8 L1848.2,216.4 L1849.2,218.8 L1850.2,217.6 L1851.2,216.7 L1852.2,217.1 L1853.2,215.3 L1854.2,217.1 L1855.2,215.7 L1856.2,215.6 L1857.2,214.3 L1858.2,215.8 L1859.2,216.1 L1860.2,213.5 L1861.2,215.7 L1862.2,215.7 L1863.2,216.7 L1864.2,216.3 L1865.2,214.0 L1866.2,216.2 L1867.2,215.1 L1868.2,214.1 L1869.2,213.2 L1870.2,215.2 L1871.2,215.0 L1872.2,213.2 L1873.2,214.1 L1874.3,213.0 L1875.3,212.4 L1876.3,212.1 L1877.3,214.0 L1878.3,213.4 L1879.3,213.4 L1880.3,213.1 L1881.3,212.7 L1882.3,213.7 L1883.3,210.3 L1884.3,213.3 L1885.3,210.7 L1886.3,211.7 L1887.3,212.0 L1888.3,211.8 L1889.3,212.2 L1890.3,210.4 L1891.3,213.5 L1892.3,212.6 L1893.3,211.8 L1894.3,211.9 L1895.3,210.4 L1896.3,208.5 L1897.3,208.6 L1898.3,211.1 L1899.3,207.0 L1900.3,212.2 L1901.3,210.7 L1902.3,208.8 L1903.3,209.1 L1904.3,207.7 L1905.3,209.4 L1906.3,210.0 L1907.3,210.9 L1908.3,207.6 L1909.3,210.5 L1910.3,209.3 L1911.3,208.7 L1912.3,208.8 L1913.3,209.1 L1914.3,210.9 L1915.3,210.3 L1916.3,209.3 L1917.3,207.2 L1918.3,207.7 L1919.3,209.0 L1920.3,208.2 L1921.3,206.6 L1922.3,209.9 L1923.3,210.5 L1924.3,208.0 L1925.3,206.7" stroke="#ff0000" stroke-width="5.90" stroke-linejoin="bevel"/>
<path d="M1925.3,206.7 L1926.4,207.0 L1927.4,205.6 L1928.4,205.3 L1929.4,207.1 L1930.4,206.2 L1931.4,207.6 L1932.4,210.1 L1933.4,206.8 L1934.4,206.1 L1935.4,206.2 L1936.4,206.4 L1937.4,207.6 L1938.4,205.9 L1939.4,206.6 L1940.4,204.1 L1941.4,204.1 L1942.4,204.9 L1943.4,206.2 L1944.4,203.8 L1945.4,206.5 L1946.4,203.5 L1947.4,204.8 L1948.4,204.4 L1949.4,206.4 L1950.4,203.0 L1951.4,203.0 L1952.4,203.7 L1953.4,204.9 L1954.4,204.7 L1955.4,202.1 L1956.4,202.5 L1957.4,201.8 L1958.4,205.5 L1959.4,203.8 L1960.4,203.9 L1961.4,200.2 L1962.4,203.2 L1963.4,202.4 L1964.4,203.9 L1965.4,200.4 L1966.4,204.2 L1967.4,203.2 L1968.4,203.0 L1969.4,200.6 L1970.4,204.6 L1971.9,202.2" stroke="#ff0000" stroke-width="5.90" stroke-linejoin="bevel"/>
<rect x="657.7" y="637.0" width="10.4" height="24.7" fill="#ff0000" stroke="none"/>
</g>
<rect x="1413.7" y="906.9" width="557.3" height="623.9" fill="#ffffff" stroke="none"/>
<path d="M1413.7,1530.8 V906.9 H1971.0 V1530.8" stroke="#4d4d4d" stroke-width="2" fill="none"/>
<path d="M1412.5,1531.0 H1971.7" stroke="#262626" stroke-width="2.6" fill="none"/>
<line x1="1477.9" y1="953.0" x2="1600" y2="953.0" stroke="#0a0a0a" stroke-width="9.6"/>
<text class="lg" x="1608.4" y="973.6">PQ1.0</text>
<line x1="1477.9" y1="1045.9" x2="1600" y2="1045.9" stroke="#00ff00" stroke-width="9.6"/>
<text class="lg" x="1608.4" y="1054.4">PQ0.7/SiO<tspan class="sub" dx="-0.8" dy="25.5">2</tspan></text>
<line x1="1477.9" y1="1152.2" x2="1600" y2="1152.2" stroke="#0000ff" stroke-width="9.6"/>
<text class="lg" x="1608.4" y="1160.5">PQ1/SiO<tspan class="sub" dx="-0.8" dy="25.5">2</tspan></text>
<line x1="1477.9" y1="1258.5" x2="1600" y2="1258.5" stroke="#ffff00" stroke-width="9.6"/>
<text class="lg" x="1608.4" y="1267.6">PQ1.1/SiO<tspan class="sub" dx="-0.8" dy="25.5">2</tspan></text>
<line x1="1477.9" y1="1364.0" x2="1600" y2="1364.0" stroke="#00ffff" stroke-width="9.6"/>
<text class="lg" x="1608.4" y="1373.8">PQ1.15/SiO<tspan class="sub" dx="-0.8" dy="25.5">2</tspan></text>
<line x1="1477.9" y1="1470.1" x2="1600" y2="1470.1" stroke="#ff0000" stroke-width="9.6"/>
<text class="lg" x="1608.4" y="1479.0">PQ1.2/SiO<tspan class="sub" dx="-0.8" dy="25.5">2</tspan></text>
<text class="tk" text-anchor="middle" transform="translate(166.3,1608.4) scale(1.045,1)">0</text>
<text class="tk" text-anchor="middle" transform="translate(617.2,1608.4) scale(1.045,1)">10</text>
<text class="tk" text-anchor="middle" transform="translate(1068.0,1608.4) scale(1.045,1)">20</text>
<text class="tk" text-anchor="middle" transform="translate(1518.9,1608.4) scale(1.045,1)">30</text>
<text class="tk" text-anchor="middle" transform="translate(1969.8,1608.4) scale(1.045,1)">40</text>
<text class="tk" text-anchor="end" transform="translate(145.2,1552.6) scale(1.045,1)">0</text>
<text class="tk" text-anchor="end" transform="translate(145.2,1394.1) scale(1.045,1)">1</text>
<text class="tk" text-anchor="end" transform="translate(145.2,1235.6) scale(1.045,1)">2</text>
<text class="tk" text-anchor="end" transform="translate(145.2,1077.2) scale(1.045,1)">3</text>
<text class="tk" text-anchor="end" transform="translate(145.2,918.7) scale(1.045,1)">4</text>
<text class="tk" text-anchor="end" transform="translate(145.2,760.2) scale(1.045,1)">5</text>
<text class="tk" text-anchor="end" transform="translate(145.2,601.7) scale(1.045,1)">6</text>
<text class="tk" text-anchor="end" transform="translate(145.2,443.3) scale(1.045,1)">7</text>
<text class="tk" text-anchor="end" transform="translate(145.2,284.8) scale(1.045,1)">8</text>
<text class="tk" text-anchor="end" transform="translate(145.2,126.3) scale(1.045,1)">9</text>
<text x="170.0" y="102.5" style="font-weight:normal;font-size:78px;fill:#262626">×</text>
<text class="tk" x="217.0" y="92.8">10<tspan dy="-28.3" dx="-2.5" style="font-size:53px">-5</tspan></text>
<text class="ax" text-anchor="middle" x="1068.7" y="1688.4">Exposure Time(min)</text>
<text class="ax" text-anchor="middle" transform="translate(88.6,818) rotate(-90)">Δn</text>
</svg>
</body></html>
